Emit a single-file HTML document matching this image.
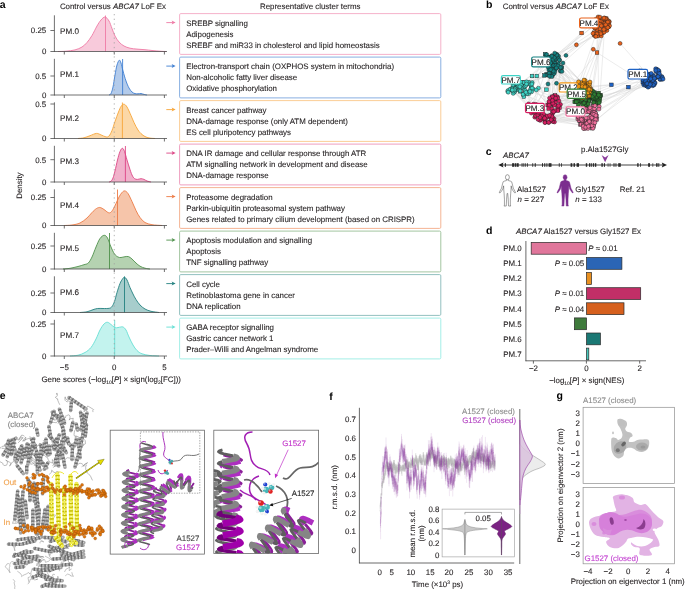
<!DOCTYPE html>
<html><head><meta charset="utf-8"><style>
html,body{margin:0;padding:0;background:#fff;}
body{width:685px;height:589px;overflow:hidden;}
svg{display:block;font-family:"Liberation Sans",sans-serif;text-rendering:geometricPrecision;will-change:transform;}
</style></head><body>
<svg width="685" height="589" viewBox="0 0 685 589">
<rect width="685" height="589" fill="#fff"/>
<text x="-0.30" y="7.70" font-size="10.5" fill="#000" font-weight="bold">a</text>
<text x="59.90" y="9.20" font-size="7.9" fill="#231f20" stroke="#231f20" stroke-width="0.1">Control versus <tspan font-style="italic">ABCA7</tspan> LoF Ex</text>
<text x="260.00" y="9.00" font-size="7.9" fill="#231f20" stroke="#231f20" stroke-width="0.1">Representative cluster terms</text>
<path d="M58.00,51.50 C59.33,51.45 63.17,51.47 66.00,51.20 C68.83,50.93 72.33,50.60 75.00,49.90 C77.67,49.20 80.00,48.23 82.00,47.00 C84.00,45.77 85.33,44.42 87.00,42.50 C88.67,40.58 90.33,38.25 92.00,35.50 C93.67,32.75 95.50,28.58 97.00,26.00 C98.50,23.42 99.65,21.50 101.00,20.00 C102.35,18.50 103.77,16.83 105.10,17.00 C106.43,17.17 107.85,19.08 109.00,21.00 C110.15,22.92 111.00,26.00 112.00,28.50 C113.00,31.00 113.83,33.75 115.00,36.00 C116.17,38.25 117.50,40.33 119.00,42.00 C120.50,43.67 122.17,44.97 124.00,46.00 C125.83,47.03 127.83,47.68 130.00,48.20 C132.17,48.72 134.50,48.85 137.00,49.10 C139.50,49.35 142.50,49.47 145.00,49.70 C147.50,49.93 149.50,50.25 152.00,50.50 C154.50,50.75 157.67,51.03 160.00,51.20 C162.33,51.37 165.00,51.45 166.00,51.50 Z" fill="#f8cadb" stroke="none"/>
<path d="M58.00,51.50 C59.33,51.45 63.17,51.47 66.00,51.20 C68.83,50.93 72.33,50.60 75.00,49.90 C77.67,49.20 80.00,48.23 82.00,47.00 C84.00,45.77 85.33,44.42 87.00,42.50 C88.67,40.58 90.33,38.25 92.00,35.50 C93.67,32.75 95.50,28.58 97.00,26.00 C98.50,23.42 99.65,21.50 101.00,20.00 C102.35,18.50 103.77,16.83 105.10,17.00 C106.43,17.17 107.85,19.08 109.00,21.00 C110.15,22.92 111.00,26.00 112.00,28.50 C113.00,31.00 113.83,33.75 115.00,36.00 C116.17,38.25 117.50,40.33 119.00,42.00 C120.50,43.67 122.17,44.97 124.00,46.00 C125.83,47.03 127.83,47.68 130.00,48.20 C132.17,48.72 134.50,48.85 137.00,49.10 C139.50,49.35 142.50,49.47 145.00,49.70 C147.50,49.93 149.50,50.25 152.00,50.50 C154.50,50.75 157.67,51.03 160.00,51.20 C162.33,51.37 165.00,51.45 166.00,51.50" fill="none" stroke="#ee7aa5" stroke-width="0.9"/>
<line x1="105.5" y1="51.5" x2="105.5" y2="15.50" stroke="#ee7aa5" stroke-width="0.9"/>
<line x1="54.4" y1="15.30" x2="54.4" y2="51.90" stroke="#4d4d4d" stroke-width="0.8"/>
<line x1="54" y1="51.50" x2="167" y2="51.50" stroke="#4d4d4d" stroke-width="0.8"/>
<line x1="64.3" y1="51.5" x2="64.3" y2="54.5" stroke="#4d4d4d" stroke-width="0.8"/>
<line x1="114.25" y1="51.5" x2="114.25" y2="54.5" stroke="#4d4d4d" stroke-width="0.8"/>
<line x1="164.4" y1="51.5" x2="164.4" y2="54.5" stroke="#4d4d4d" stroke-width="0.8"/>
<line x1="50.4" y1="30.50" x2="54.4" y2="30.50" stroke="#4d4d4d" stroke-width="0.8"/>
<text x="46.20" y="33.30" font-size="7.9" fill="#231f20" stroke="#231f20" stroke-width="0.1" text-anchor="end">0.25</text>
<line x1="50.4" y1="51.50" x2="54.4" y2="51.50" stroke="#4d4d4d" stroke-width="0.8"/>
<text x="46.50" y="54.30" font-size="7.9" fill="#231f20" stroke="#231f20" stroke-width="0.1" text-anchor="end">0</text>
<text x="60.00" y="33.90" font-size="8.1" fill="#231f20" stroke="#231f20" stroke-width="0.1">PM.0</text>
<rect x="179.6" y="13.60" width="261.2" height="40.8" rx="1.2" fill="none" stroke="#f4a9c4" stroke-width="0.9"/>
<text x="186.20" y="25.70" font-size="7.9" fill="#231f20" stroke="#231f20" stroke-width="0.1">SREBP signalling</text>
<text x="186.20" y="36.70" font-size="7.9" fill="#231f20" stroke="#231f20" stroke-width="0.1">Adipogenesis</text>
<text x="186.20" y="47.70" font-size="7.9" fill="#231f20" stroke="#231f20" stroke-width="0.1">SREBF and miR33 in cholesterol and lipid homeostasis</text>
<line x1="166.3" y1="22.60" x2="173" y2="22.60" stroke="#ee7aa5" stroke-width="0.9"/>
<path d="M175.6,22.60 L171.6,20.60 L172.6,22.60 L171.6,24.60 Z" fill="#ee7aa5"/>
<path d="M109.00,95.00 C109.33,94.75 110.33,94.83 111.00,93.50 C111.67,92.17 112.33,90.08 113.00,87.00 C113.67,83.92 114.33,78.67 115.00,75.00 C115.67,71.33 116.28,67.47 117.00,65.00 C117.72,62.53 118.63,60.53 119.30,60.20 C119.97,59.87 120.38,61.20 121.00,63.00 C121.62,64.80 122.17,68.00 123.00,71.00 C123.83,74.00 125.00,78.17 126.00,81.00 C127.00,83.83 128.00,86.17 129.00,88.00 C130.00,89.83 131.00,91.07 132.00,92.00 C133.00,92.93 134.00,93.30 135.00,93.60 C136.00,93.90 137.00,93.82 138.00,93.80 C139.00,93.78 140.00,93.40 141.00,93.50 C142.00,93.60 143.00,94.15 144.00,94.40 C145.00,94.65 146.50,94.90 147.00,95.00 Z" fill="#b3cbeb" stroke="none"/>
<path d="M109.00,95.00 C109.33,94.75 110.33,94.83 111.00,93.50 C111.67,92.17 112.33,90.08 113.00,87.00 C113.67,83.92 114.33,78.67 115.00,75.00 C115.67,71.33 116.28,67.47 117.00,65.00 C117.72,62.53 118.63,60.53 119.30,60.20 C119.97,59.87 120.38,61.20 121.00,63.00 C121.62,64.80 122.17,68.00 123.00,71.00 C123.83,74.00 125.00,78.17 126.00,81.00 C127.00,83.83 128.00,86.17 129.00,88.00 C130.00,89.83 131.00,91.07 132.00,92.00 C133.00,92.93 134.00,93.30 135.00,93.60 C136.00,93.90 137.00,93.82 138.00,93.80 C139.00,93.78 140.00,93.40 141.00,93.50 C142.00,93.60 143.00,94.15 144.00,94.40 C145.00,94.65 146.50,94.90 147.00,95.00" fill="none" stroke="#3f7fd2" stroke-width="0.9"/>
<line x1="122.6" y1="95.0" x2="122.6" y2="59.00" stroke="#3f7fd2" stroke-width="0.9"/>
<line x1="54.4" y1="58.80" x2="54.4" y2="95.40" stroke="#4d4d4d" stroke-width="0.8"/>
<line x1="54" y1="95.00" x2="167" y2="95.00" stroke="#4d4d4d" stroke-width="0.8"/>
<line x1="64.3" y1="95.0" x2="64.3" y2="98.0" stroke="#4d4d4d" stroke-width="0.8"/>
<line x1="114.25" y1="95.0" x2="114.25" y2="98.0" stroke="#4d4d4d" stroke-width="0.8"/>
<line x1="164.4" y1="95.0" x2="164.4" y2="98.0" stroke="#4d4d4d" stroke-width="0.8"/>
<line x1="50.4" y1="76.00" x2="54.4" y2="76.00" stroke="#4d4d4d" stroke-width="0.8"/>
<text x="46.20" y="78.80" font-size="7.9" fill="#231f20" stroke="#231f20" stroke-width="0.1" text-anchor="end">0.5</text>
<line x1="50.4" y1="95.00" x2="54.4" y2="95.00" stroke="#4d4d4d" stroke-width="0.8"/>
<text x="46.50" y="97.80" font-size="7.9" fill="#231f20" stroke="#231f20" stroke-width="0.1" text-anchor="end">0</text>
<text x="60.00" y="77.40" font-size="8.1" fill="#231f20" stroke="#231f20" stroke-width="0.1">PM.1</text>
<rect x="179.6" y="57.10" width="261.2" height="40.8" rx="1.2" fill="none" stroke="#7aa6de" stroke-width="0.9"/>
<text x="186.20" y="69.20" font-size="7.9" fill="#231f20" stroke="#231f20" stroke-width="0.1">Electron-transport chain (OXPHOS system in mitochondria)</text>
<text x="186.20" y="80.20" font-size="7.9" fill="#231f20" stroke="#231f20" stroke-width="0.1">Non-alcoholic fatty liver disease</text>
<text x="186.20" y="91.20" font-size="7.9" fill="#231f20" stroke="#231f20" stroke-width="0.1">Oxidative phosphorylation</text>
<line x1="166.3" y1="66.10" x2="173" y2="66.10" stroke="#3f7fd2" stroke-width="0.9"/>
<path d="M175.6,66.10 L171.6,64.10 L172.6,66.10 L171.6,68.10 Z" fill="#3f7fd2"/>
<path d="M78.00,138.50 C79.00,138.38 82.00,138.27 84.00,137.80 C86.00,137.33 87.92,136.43 90.00,135.70 C92.08,134.97 94.67,133.53 96.50,133.40 C98.33,133.27 99.42,134.32 101.00,134.90 C102.58,135.48 104.67,136.72 106.00,136.90 C107.33,137.08 108.00,137.07 109.00,136.00 C110.00,134.93 111.00,132.92 112.00,130.50 C113.00,128.08 113.92,124.58 115.00,121.50 C116.08,118.42 117.50,114.50 118.50,112.00 C119.50,109.50 120.10,107.80 121.00,106.50 C121.90,105.20 122.90,104.12 123.90,104.20 C124.90,104.28 125.82,105.12 127.00,107.00 C128.18,108.88 129.83,112.92 131.00,115.50 C132.17,118.08 132.83,120.08 134.00,122.50 C135.17,124.92 136.67,128.00 138.00,130.00 C139.33,132.00 140.67,133.33 142.00,134.50 C143.33,135.67 144.67,136.40 146.00,137.00 C147.33,137.60 148.50,137.85 150.00,138.10 C151.50,138.35 154.17,138.43 155.00,138.50 Z" fill="#fcd8a7" stroke="none"/>
<path d="M78.00,138.50 C79.00,138.38 82.00,138.27 84.00,137.80 C86.00,137.33 87.92,136.43 90.00,135.70 C92.08,134.97 94.67,133.53 96.50,133.40 C98.33,133.27 99.42,134.32 101.00,134.90 C102.58,135.48 104.67,136.72 106.00,136.90 C107.33,137.08 108.00,137.07 109.00,136.00 C110.00,134.93 111.00,132.92 112.00,130.50 C113.00,128.08 113.92,124.58 115.00,121.50 C116.08,118.42 117.50,114.50 118.50,112.00 C119.50,109.50 120.10,107.80 121.00,106.50 C121.90,105.20 122.90,104.12 123.90,104.20 C124.90,104.28 125.82,105.12 127.00,107.00 C128.18,108.88 129.83,112.92 131.00,115.50 C132.17,118.08 132.83,120.08 134.00,122.50 C135.17,124.92 136.67,128.00 138.00,130.00 C139.33,132.00 140.67,133.33 142.00,134.50 C143.33,135.67 144.67,136.40 146.00,137.00 C147.33,137.60 148.50,137.85 150.00,138.10 C151.50,138.35 154.17,138.43 155.00,138.50" fill="none" stroke="#f6a539" stroke-width="0.9"/>
<line x1="122.4" y1="138.5" x2="122.4" y2="102.50" stroke="#f6a539" stroke-width="0.9"/>
<line x1="54.4" y1="102.30" x2="54.4" y2="138.90" stroke="#4d4d4d" stroke-width="0.8"/>
<line x1="54" y1="138.50" x2="167" y2="138.50" stroke="#4d4d4d" stroke-width="0.8"/>
<line x1="64.3" y1="138.5" x2="64.3" y2="141.5" stroke="#4d4d4d" stroke-width="0.8"/>
<line x1="114.25" y1="138.5" x2="114.25" y2="141.5" stroke="#4d4d4d" stroke-width="0.8"/>
<line x1="164.4" y1="138.5" x2="164.4" y2="141.5" stroke="#4d4d4d" stroke-width="0.8"/>
<line x1="50.4" y1="104.00" x2="54.4" y2="104.00" stroke="#4d4d4d" stroke-width="0.8"/>
<text x="46.20" y="106.80" font-size="7.9" fill="#231f20" stroke="#231f20" stroke-width="0.1" text-anchor="end">0.5</text>
<line x1="50.4" y1="138.50" x2="54.4" y2="138.50" stroke="#4d4d4d" stroke-width="0.8"/>
<text x="46.50" y="141.30" font-size="7.9" fill="#231f20" stroke="#231f20" stroke-width="0.1" text-anchor="end">0</text>
<text x="60.00" y="120.90" font-size="8.1" fill="#231f20" stroke="#231f20" stroke-width="0.1">PM.2</text>
<rect x="179.6" y="100.60" width="261.2" height="40.8" rx="1.2" fill="none" stroke="#f9c78a" stroke-width="0.9"/>
<text x="186.20" y="112.70" font-size="7.9" fill="#231f20" stroke="#231f20" stroke-width="0.1">Breast cancer pathway</text>
<text x="186.20" y="123.70" font-size="7.9" fill="#231f20" stroke="#231f20" stroke-width="0.1">DNA-damage response (only ATM dependent)</text>
<text x="186.20" y="134.70" font-size="7.9" fill="#231f20" stroke="#231f20" stroke-width="0.1">ES cell pluripotency pathways</text>
<line x1="166.3" y1="109.60" x2="173" y2="109.60" stroke="#f6a539" stroke-width="0.9"/>
<path d="M175.6,109.60 L171.6,107.60 L172.6,109.60 L171.6,111.60 Z" fill="#f6a539"/>
<path d="M109.00,182.00 C109.33,181.87 110.33,181.87 111.00,181.20 C111.67,180.53 112.33,179.70 113.00,178.00 C113.67,176.30 114.25,174.00 115.00,171.00 C115.75,168.00 116.67,163.25 117.50,160.00 C118.33,156.75 119.18,153.45 120.00,151.50 C120.82,149.55 121.65,148.30 122.40,148.30 C123.15,148.30 123.73,149.55 124.50,151.50 C125.27,153.45 126.17,157.25 127.00,160.00 C127.83,162.75 128.67,165.50 129.50,168.00 C130.33,170.50 131.17,173.23 132.00,175.00 C132.83,176.77 133.58,177.87 134.50,178.60 C135.42,179.33 136.42,179.38 137.50,179.40 C138.58,179.42 139.92,178.70 141.00,178.70 C142.08,178.70 143.00,179.02 144.00,179.40 C145.00,179.78 145.83,180.57 147.00,181.00 C148.17,181.43 150.33,181.83 151.00,182.00 Z" fill="#f1b1cb" stroke="none"/>
<path d="M109.00,182.00 C109.33,181.87 110.33,181.87 111.00,181.20 C111.67,180.53 112.33,179.70 113.00,178.00 C113.67,176.30 114.25,174.00 115.00,171.00 C115.75,168.00 116.67,163.25 117.50,160.00 C118.33,156.75 119.18,153.45 120.00,151.50 C120.82,149.55 121.65,148.30 122.40,148.30 C123.15,148.30 123.73,149.55 124.50,151.50 C125.27,153.45 126.17,157.25 127.00,160.00 C127.83,162.75 128.67,165.50 129.50,168.00 C130.33,170.50 131.17,173.23 132.00,175.00 C132.83,176.77 133.58,177.87 134.50,178.60 C135.42,179.33 136.42,179.38 137.50,179.40 C138.58,179.42 139.92,178.70 141.00,178.70 C142.08,178.70 143.00,179.02 144.00,179.40 C145.00,179.78 145.83,180.57 147.00,181.00 C148.17,181.43 150.33,181.83 151.00,182.00" fill="none" stroke="#dc4585" stroke-width="0.9"/>
<line x1="125.4" y1="182.0" x2="125.4" y2="146.00" stroke="#dc4585" stroke-width="0.9"/>
<line x1="54.4" y1="145.80" x2="54.4" y2="182.40" stroke="#4d4d4d" stroke-width="0.8"/>
<line x1="54" y1="182.00" x2="167" y2="182.00" stroke="#4d4d4d" stroke-width="0.8"/>
<line x1="64.3" y1="182.0" x2="64.3" y2="185.0" stroke="#4d4d4d" stroke-width="0.8"/>
<line x1="114.25" y1="182.0" x2="114.25" y2="185.0" stroke="#4d4d4d" stroke-width="0.8"/>
<line x1="164.4" y1="182.0" x2="164.4" y2="185.0" stroke="#4d4d4d" stroke-width="0.8"/>
<line x1="50.4" y1="159.70" x2="54.4" y2="159.70" stroke="#4d4d4d" stroke-width="0.8"/>
<text x="46.20" y="162.50" font-size="7.9" fill="#231f20" stroke="#231f20" stroke-width="0.1" text-anchor="end">0.5</text>
<line x1="50.4" y1="182.00" x2="54.4" y2="182.00" stroke="#4d4d4d" stroke-width="0.8"/>
<text x="46.50" y="184.80" font-size="7.9" fill="#231f20" stroke="#231f20" stroke-width="0.1" text-anchor="end">0</text>
<text x="60.00" y="164.40" font-size="8.1" fill="#231f20" stroke="#231f20" stroke-width="0.1">PM.3</text>
<rect x="179.6" y="144.10" width="261.2" height="40.8" rx="1.2" fill="none" stroke="#ec93b8" stroke-width="0.9"/>
<text x="186.20" y="156.20" font-size="7.9" fill="#231f20" stroke="#231f20" stroke-width="0.1">DNA IR damage and cellular response through ATR</text>
<text x="186.20" y="167.20" font-size="7.9" fill="#231f20" stroke="#231f20" stroke-width="0.1">ATM signalling network in development and disease</text>
<text x="186.20" y="178.20" font-size="7.9" fill="#231f20" stroke="#231f20" stroke-width="0.1">DNA-damage response</text>
<line x1="166.3" y1="153.10" x2="173" y2="153.10" stroke="#dc4585" stroke-width="0.9"/>
<path d="M175.6,153.10 L171.6,151.10 L172.6,153.10 L171.6,155.10 Z" fill="#dc4585"/>
<path d="M64.00,225.50 C65.33,225.42 69.33,225.42 72.00,225.00 C74.67,224.58 77.50,224.17 80.00,223.00 C82.50,221.83 85.00,219.75 87.00,218.00 C89.00,216.25 90.42,214.08 92.00,212.50 C93.58,210.92 95.13,209.33 96.50,208.50 C97.87,207.67 98.95,207.33 100.20,207.50 C101.45,207.67 102.70,208.67 104.00,209.50 C105.30,210.33 106.92,212.00 108.00,212.50 C109.08,213.00 109.67,213.00 110.50,212.50 C111.33,212.00 112.08,211.00 113.00,209.50 C113.92,208.00 115.00,205.58 116.00,203.50 C117.00,201.42 118.00,198.83 119.00,197.00 C120.00,195.17 121.03,193.52 122.00,192.50 C122.97,191.48 123.80,190.73 124.80,190.90 C125.80,191.07 126.80,191.73 128.00,193.50 C129.20,195.27 130.67,198.67 132.00,201.50 C133.33,204.33 134.67,207.83 136.00,210.50 C137.33,213.17 138.50,215.50 140.00,217.50 C141.50,219.50 143.00,221.30 145.00,222.50 C147.00,223.70 149.17,224.20 152.00,224.70 C154.83,225.20 160.33,225.37 162.00,225.50 Z" fill="#f6c5aa" stroke="none"/>
<path d="M64.00,225.50 C65.33,225.42 69.33,225.42 72.00,225.00 C74.67,224.58 77.50,224.17 80.00,223.00 C82.50,221.83 85.00,219.75 87.00,218.00 C89.00,216.25 90.42,214.08 92.00,212.50 C93.58,210.92 95.13,209.33 96.50,208.50 C97.87,207.67 98.95,207.33 100.20,207.50 C101.45,207.67 102.70,208.67 104.00,209.50 C105.30,210.33 106.92,212.00 108.00,212.50 C109.08,213.00 109.67,213.00 110.50,212.50 C111.33,212.00 112.08,211.00 113.00,209.50 C113.92,208.00 115.00,205.58 116.00,203.50 C117.00,201.42 118.00,198.83 119.00,197.00 C120.00,195.17 121.03,193.52 122.00,192.50 C122.97,191.48 123.80,190.73 124.80,190.90 C125.80,191.07 126.80,191.73 128.00,193.50 C129.20,195.27 130.67,198.67 132.00,201.50 C133.33,204.33 134.67,207.83 136.00,210.50 C137.33,213.17 138.50,215.50 140.00,217.50 C141.50,219.50 143.00,221.30 145.00,222.50 C147.00,223.70 149.17,224.20 152.00,224.70 C154.83,225.20 160.33,225.37 162.00,225.50" fill="none" stroke="#ec7b45" stroke-width="0.9"/>
<line x1="117.5" y1="225.5" x2="117.5" y2="189.50" stroke="#ec7b45" stroke-width="0.9"/>
<line x1="54.4" y1="189.30" x2="54.4" y2="225.90" stroke="#4d4d4d" stroke-width="0.8"/>
<line x1="54" y1="225.50" x2="167" y2="225.50" stroke="#4d4d4d" stroke-width="0.8"/>
<line x1="64.3" y1="225.5" x2="64.3" y2="228.5" stroke="#4d4d4d" stroke-width="0.8"/>
<line x1="114.25" y1="225.5" x2="114.25" y2="228.5" stroke="#4d4d4d" stroke-width="0.8"/>
<line x1="164.4" y1="225.5" x2="164.4" y2="228.5" stroke="#4d4d4d" stroke-width="0.8"/>
<line x1="50.4" y1="197.50" x2="54.4" y2="197.50" stroke="#4d4d4d" stroke-width="0.8"/>
<text x="46.20" y="200.30" font-size="7.9" fill="#231f20" stroke="#231f20" stroke-width="0.1" text-anchor="end">0.25</text>
<line x1="50.4" y1="225.50" x2="54.4" y2="225.50" stroke="#4d4d4d" stroke-width="0.8"/>
<text x="46.50" y="228.30" font-size="7.9" fill="#231f20" stroke="#231f20" stroke-width="0.1" text-anchor="end">0</text>
<text x="60.00" y="207.90" font-size="8.1" fill="#231f20" stroke="#231f20" stroke-width="0.1">PM.4</text>
<rect x="179.6" y="187.60" width="261.2" height="40.8" rx="1.2" fill="none" stroke="#f3ab88" stroke-width="0.9"/>
<text x="186.20" y="199.70" font-size="7.9" fill="#231f20" stroke="#231f20" stroke-width="0.1">Proteasome degradation</text>
<text x="186.20" y="210.70" font-size="7.9" fill="#231f20" stroke="#231f20" stroke-width="0.1">Parkin-ubiquitin proteasomal system pathway</text>
<text x="186.20" y="221.70" font-size="7.9" fill="#231f20" stroke="#231f20" stroke-width="0.1">Genes related to primary cilium development (based on CRISPR)</text>
<line x1="166.3" y1="196.60" x2="173" y2="196.60" stroke="#ec7b45" stroke-width="0.9"/>
<path d="M175.6,196.60 L171.6,194.60 L172.6,196.60 L171.6,198.60 Z" fill="#ec7b45"/>
<path d="M63.00,269.00 C64.17,268.88 67.50,268.72 70.00,268.30 C72.50,267.88 75.67,267.10 78.00,266.50 C80.33,265.90 82.28,265.28 84.00,264.70 C85.72,264.12 86.97,264.28 88.30,263.00 C89.63,261.72 90.72,259.67 92.00,257.00 C93.28,254.33 94.67,250.08 96.00,247.00 C97.33,243.92 98.63,240.45 100.00,238.50 C101.37,236.55 102.95,235.38 104.20,235.30 C105.45,235.22 106.37,236.05 107.50,238.00 C108.63,239.95 109.83,244.33 111.00,247.00 C112.17,249.67 113.33,252.33 114.50,254.00 C115.67,255.67 116.92,256.42 118.00,257.00 C119.08,257.58 119.83,257.55 121.00,257.50 C122.17,257.45 123.75,256.85 125.00,256.70 C126.25,256.55 127.33,256.22 128.50,256.60 C129.67,256.98 130.75,257.93 132.00,259.00 C133.25,260.07 134.67,261.80 136.00,263.00 C137.33,264.20 138.50,265.33 140.00,266.20 C141.50,267.07 143.33,267.73 145.00,268.20 C146.67,268.67 149.17,268.87 150.00,269.00 Z" fill="#b5d2b1" stroke="none"/>
<path d="M63.00,269.00 C64.17,268.88 67.50,268.72 70.00,268.30 C72.50,267.88 75.67,267.10 78.00,266.50 C80.33,265.90 82.28,265.28 84.00,264.70 C85.72,264.12 86.97,264.28 88.30,263.00 C89.63,261.72 90.72,259.67 92.00,257.00 C93.28,254.33 94.67,250.08 96.00,247.00 C97.33,243.92 98.63,240.45 100.00,238.50 C101.37,236.55 102.95,235.38 104.20,235.30 C105.45,235.22 106.37,236.05 107.50,238.00 C108.63,239.95 109.83,244.33 111.00,247.00 C112.17,249.67 113.33,252.33 114.50,254.00 C115.67,255.67 116.92,256.42 118.00,257.00 C119.08,257.58 119.83,257.55 121.00,257.50 C122.17,257.45 123.75,256.85 125.00,256.70 C126.25,256.55 127.33,256.22 128.50,256.60 C129.67,256.98 130.75,257.93 132.00,259.00 C133.25,260.07 134.67,261.80 136.00,263.00 C137.33,264.20 138.50,265.33 140.00,266.20 C141.50,267.07 143.33,267.73 145.00,268.20 C146.67,268.67 149.17,268.87 150.00,269.00" fill="none" stroke="#4f914c" stroke-width="0.9"/>
<line x1="109.5" y1="269.0" x2="109.5" y2="233.00" stroke="#4f914c" stroke-width="0.9"/>
<line x1="54.4" y1="232.80" x2="54.4" y2="269.40" stroke="#4d4d4d" stroke-width="0.8"/>
<line x1="54" y1="269.00" x2="167" y2="269.00" stroke="#4d4d4d" stroke-width="0.8"/>
<line x1="64.3" y1="269.0" x2="64.3" y2="272.0" stroke="#4d4d4d" stroke-width="0.8"/>
<line x1="114.25" y1="269.0" x2="114.25" y2="272.0" stroke="#4d4d4d" stroke-width="0.8"/>
<line x1="164.4" y1="269.0" x2="164.4" y2="272.0" stroke="#4d4d4d" stroke-width="0.8"/>
<line x1="50.4" y1="246.00" x2="54.4" y2="246.00" stroke="#4d4d4d" stroke-width="0.8"/>
<text x="46.20" y="248.80" font-size="7.9" fill="#231f20" stroke="#231f20" stroke-width="0.1" text-anchor="end">0.25</text>
<line x1="50.4" y1="269.00" x2="54.4" y2="269.00" stroke="#4d4d4d" stroke-width="0.8"/>
<text x="46.50" y="271.80" font-size="7.9" fill="#231f20" stroke="#231f20" stroke-width="0.1" text-anchor="end">0</text>
<text x="60.00" y="251.40" font-size="8.1" fill="#231f20" stroke="#231f20" stroke-width="0.1">PM.5</text>
<rect x="179.6" y="231.10" width="261.2" height="40.8" rx="1.2" fill="none" stroke="#98c096" stroke-width="0.9"/>
<text x="186.20" y="243.20" font-size="7.9" fill="#231f20" stroke="#231f20" stroke-width="0.1">Apoptosis modulation and signalling</text>
<text x="186.20" y="254.20" font-size="7.9" fill="#231f20" stroke="#231f20" stroke-width="0.1">Apoptosis</text>
<text x="186.20" y="265.20" font-size="7.9" fill="#231f20" stroke="#231f20" stroke-width="0.1">TNF signalling pathway</text>
<line x1="166.3" y1="240.10" x2="173" y2="240.10" stroke="#4f914c" stroke-width="0.9"/>
<path d="M175.6,240.10 L171.6,238.10 L172.6,240.10 L171.6,242.10 Z" fill="#4f914c"/>
<path d="M80.00,312.50 C81.17,312.38 84.83,312.27 87.00,311.80 C89.17,311.33 91.27,310.25 93.00,309.70 C94.73,309.15 95.73,308.70 97.40,308.50 C99.07,308.30 101.02,308.53 103.00,308.50 C104.98,308.47 107.80,308.63 109.30,308.30 C110.80,307.97 111.13,307.63 112.00,306.50 C112.87,305.37 113.67,303.83 114.50,301.50 C115.33,299.17 116.08,295.50 117.00,292.50 C117.92,289.50 119.08,285.75 120.00,283.50 C120.92,281.25 121.75,280.05 122.50,279.00 C123.25,277.95 123.75,277.03 124.50,277.20 C125.25,277.37 126.08,278.28 127.00,280.00 C127.92,281.72 129.00,285.17 130.00,287.50 C131.00,289.83 132.00,292.00 133.00,294.00 C134.00,296.00 134.83,297.67 136.00,299.50 C137.17,301.33 138.50,303.42 140.00,305.00 C141.50,306.58 143.17,307.95 145.00,309.00 C146.83,310.05 148.67,310.72 151.00,311.30 C153.33,311.88 157.67,312.30 159.00,312.50 Z" fill="#a7cdcc" stroke="none"/>
<path d="M80.00,312.50 C81.17,312.38 84.83,312.27 87.00,311.80 C89.17,311.33 91.27,310.25 93.00,309.70 C94.73,309.15 95.73,308.70 97.40,308.50 C99.07,308.30 101.02,308.53 103.00,308.50 C104.98,308.47 107.80,308.63 109.30,308.30 C110.80,307.97 111.13,307.63 112.00,306.50 C112.87,305.37 113.67,303.83 114.50,301.50 C115.33,299.17 116.08,295.50 117.00,292.50 C117.92,289.50 119.08,285.75 120.00,283.50 C120.92,281.25 121.75,280.05 122.50,279.00 C123.25,277.95 123.75,277.03 124.50,277.20 C125.25,277.37 126.08,278.28 127.00,280.00 C127.92,281.72 129.00,285.17 130.00,287.50 C131.00,289.83 132.00,292.00 133.00,294.00 C134.00,296.00 134.83,297.67 136.00,299.50 C137.17,301.33 138.50,303.42 140.00,305.00 C141.50,306.58 143.17,307.95 145.00,309.00 C146.83,310.05 148.67,310.72 151.00,311.30 C153.33,311.88 157.67,312.30 159.00,312.50" fill="none" stroke="#22807f" stroke-width="0.9"/>
<line x1="124.5" y1="312.5" x2="124.5" y2="276.50" stroke="#22807f" stroke-width="0.9"/>
<line x1="54.4" y1="276.30" x2="54.4" y2="312.90" stroke="#4d4d4d" stroke-width="0.8"/>
<line x1="54" y1="312.50" x2="167" y2="312.50" stroke="#4d4d4d" stroke-width="0.8"/>
<line x1="64.3" y1="312.5" x2="64.3" y2="315.5" stroke="#4d4d4d" stroke-width="0.8"/>
<line x1="114.25" y1="312.5" x2="114.25" y2="315.5" stroke="#4d4d4d" stroke-width="0.8"/>
<line x1="164.4" y1="312.5" x2="164.4" y2="315.5" stroke="#4d4d4d" stroke-width="0.8"/>
<line x1="50.4" y1="293.00" x2="54.4" y2="293.00" stroke="#4d4d4d" stroke-width="0.8"/>
<text x="46.20" y="295.80" font-size="7.9" fill="#231f20" stroke="#231f20" stroke-width="0.1" text-anchor="end">0.25</text>
<line x1="50.4" y1="312.50" x2="54.4" y2="312.50" stroke="#4d4d4d" stroke-width="0.8"/>
<text x="46.50" y="315.30" font-size="7.9" fill="#231f20" stroke="#231f20" stroke-width="0.1" text-anchor="end">0</text>
<text x="60.00" y="294.90" font-size="8.1" fill="#231f20" stroke="#231f20" stroke-width="0.1">PM.6</text>
<rect x="179.6" y="274.60" width="261.2" height="40.8" rx="1.2" fill="none" stroke="#86b9b8" stroke-width="0.9"/>
<text x="186.20" y="286.70" font-size="7.9" fill="#231f20" stroke="#231f20" stroke-width="0.1">Cell cycle</text>
<text x="186.20" y="297.70" font-size="7.9" fill="#231f20" stroke="#231f20" stroke-width="0.1">Retinoblastoma gene in cancer</text>
<text x="186.20" y="308.70" font-size="7.9" fill="#231f20" stroke="#231f20" stroke-width="0.1">DNA replication</text>
<line x1="166.3" y1="283.60" x2="173" y2="283.60" stroke="#22807f" stroke-width="0.9"/>
<path d="M175.6,283.60 L171.6,281.60 L172.6,283.60 L171.6,285.60 Z" fill="#22807f"/>
<path d="M70.00,356.00 C71.33,355.87 75.50,355.78 78.00,355.20 C80.50,354.62 82.83,353.78 85.00,352.50 C87.17,351.22 89.17,349.75 91.00,347.50 C92.83,345.25 94.50,341.92 96.00,339.00 C97.50,336.08 98.67,332.50 100.00,330.00 C101.33,327.50 102.75,325.28 104.00,324.00 C105.25,322.72 106.33,322.22 107.50,322.30 C108.67,322.38 109.92,323.72 111.00,324.50 C112.08,325.28 113.07,326.45 114.00,327.00 C114.93,327.55 115.68,327.77 116.60,327.80 C117.52,327.83 118.43,327.33 119.50,327.20 C120.57,327.07 121.92,326.53 123.00,327.00 C124.08,327.47 125.00,328.33 126.00,330.00 C127.00,331.67 127.83,334.50 129.00,337.00 C130.17,339.50 131.67,342.75 133.00,345.00 C134.33,347.25 135.50,349.03 137.00,350.50 C138.50,351.97 139.83,352.97 142.00,353.80 C144.17,354.63 147.17,355.13 150.00,355.50 C152.83,355.87 157.50,355.92 159.00,356.00 Z" fill="#c3f3ee" stroke="none"/>
<path d="M70.00,356.00 C71.33,355.87 75.50,355.78 78.00,355.20 C80.50,354.62 82.83,353.78 85.00,352.50 C87.17,351.22 89.17,349.75 91.00,347.50 C92.83,345.25 94.50,341.92 96.00,339.00 C97.50,336.08 98.67,332.50 100.00,330.00 C101.33,327.50 102.75,325.28 104.00,324.00 C105.25,322.72 106.33,322.22 107.50,322.30 C108.67,322.38 109.92,323.72 111.00,324.50 C112.08,325.28 113.07,326.45 114.00,327.00 C114.93,327.55 115.68,327.77 116.60,327.80 C117.52,327.83 118.43,327.33 119.50,327.20 C120.57,327.07 121.92,326.53 123.00,327.00 C124.08,327.47 125.00,328.33 126.00,330.00 C127.00,331.67 127.83,334.50 129.00,337.00 C130.17,339.50 131.67,342.75 133.00,345.00 C134.33,347.25 135.50,349.03 137.00,350.50 C138.50,351.97 139.83,352.97 142.00,353.80 C144.17,354.63 147.17,355.13 150.00,355.50 C152.83,355.87 157.50,355.92 159.00,356.00" fill="none" stroke="#67dfd4" stroke-width="0.9"/>
<line x1="114.7" y1="356.0" x2="114.7" y2="320.00" stroke="#67dfd4" stroke-width="0.9"/>
<line x1="54.4" y1="319.80" x2="54.4" y2="356.40" stroke="#4d4d4d" stroke-width="0.8"/>
<line x1="54" y1="356.00" x2="167" y2="356.00" stroke="#4d4d4d" stroke-width="0.8"/>
<line x1="64.3" y1="356.0" x2="64.3" y2="359.0" stroke="#4d4d4d" stroke-width="0.8"/>
<line x1="114.25" y1="356.0" x2="114.25" y2="359.0" stroke="#4d4d4d" stroke-width="0.8"/>
<line x1="164.4" y1="356.0" x2="164.4" y2="359.0" stroke="#4d4d4d" stroke-width="0.8"/>
<line x1="50.4" y1="324.00" x2="54.4" y2="324.00" stroke="#4d4d4d" stroke-width="0.8"/>
<text x="46.20" y="326.80" font-size="7.9" fill="#231f20" stroke="#231f20" stroke-width="0.1" text-anchor="end">0.25</text>
<line x1="50.4" y1="356.00" x2="54.4" y2="356.00" stroke="#4d4d4d" stroke-width="0.8"/>
<text x="46.50" y="358.80" font-size="7.9" fill="#231f20" stroke="#231f20" stroke-width="0.1" text-anchor="end">0</text>
<text x="60.00" y="338.40" font-size="8.1" fill="#231f20" stroke="#231f20" stroke-width="0.1">PM.7</text>
<rect x="179.6" y="318.10" width="261.2" height="40.8" rx="1.2" fill="none" stroke="#98ece4" stroke-width="0.9"/>
<text x="186.20" y="330.20" font-size="7.9" fill="#231f20" stroke="#231f20" stroke-width="0.1">GABA receptor signalling</text>
<text x="186.20" y="341.20" font-size="7.9" fill="#231f20" stroke="#231f20" stroke-width="0.1">Gastric cancer network 1</text>
<text x="186.20" y="352.20" font-size="7.9" fill="#231f20" stroke="#231f20" stroke-width="0.1">Prader–Willi and Angelman syndrome</text>
<line x1="166.3" y1="327.10" x2="173" y2="327.10" stroke="#67dfd4" stroke-width="0.9"/>
<path d="M175.6,327.10 L171.6,325.10 L172.6,327.10 L171.6,329.10 Z" fill="#67dfd4"/>
<line x1="114.25" y1="14" x2="114.25" y2="357" stroke="#a0a0a0" stroke-width="0.8" stroke-dasharray="1.3,3.4"/>
<text x="64.30" y="369.80" font-size="7.9" fill="#231f20" stroke="#231f20" stroke-width="0.1" text-anchor="middle">−5</text>
<text x="114.25" y="369.80" font-size="7.9" fill="#231f20" stroke="#231f20" stroke-width="0.1" text-anchor="middle">0</text>
<text x="164.40" y="369.80" font-size="7.9" fill="#231f20" stroke="#231f20" stroke-width="0.1" text-anchor="middle">5</text>
<text x="111.20" y="382.00" font-size="7.9" fill="#231f20" stroke="#231f20" stroke-width="0.1" text-anchor="middle">Gene scores (−log<tspan font-size="5" dy="1.6">10</tspan><tspan dy="-1.6">[</tspan><tspan font-style="italic">P</tspan>] × sign(log<tspan font-size="5" dy="1.6">2</tspan><tspan dy="-1.6">[FC]))</tspan></text>
<text x="0.00" y="0.00" font-size="7.9" fill="#231f20" stroke="#231f20" stroke-width="0.1" text-anchor="middle" transform="translate(21.9,185.6) rotate(-90)">Density</text>
<text x="486.00" y="7.50" font-size="10.5" fill="#000" font-weight="bold">b</text>
<text x="502.70" y="9.20" font-size="7.9" fill="#231f20" stroke="#231f20" stroke-width="0.1">Control versus <tspan font-style="italic">ABCA7</tspan> LoF Ex</text>
<path d="M589.0,100.9L594.3,110.1M598.5,100.6L585.0,124.7M593.9,108.8L583.2,87.1M578.3,104.3L539.7,111.6M583.2,97.8L554.5,63.0M538.4,112.5L582.1,92.9M549.2,105.1L531.1,86.8M584.3,95.8L588.4,125.6M540.4,120.4L513.2,91.2M551.2,116.6L582.3,86.5M592.5,97.2L557.9,65.9M545.0,120.6L517.8,86.8M584.6,85.9L559.6,60.0M584.9,89.6L552.3,96.8M553.6,65.6L552.4,96.8M519.9,86.7L561.7,67.8M584.1,83.2L591.3,107.8M519.9,86.7L561.7,67.8M577.4,84.2L582.1,92.9M589.9,111.8L574.7,101.9M585.0,89.3L590.3,90.5M560.3,71.1L549.8,116.7M586.6,93.5L551.1,103.6M579.0,86.4L589.7,92.2M559.6,60.0L589.1,89.2M578.5,81.7L551.6,69.1M551.2,116.6L594.3,110.1M577.8,118.6L590.0,82.0M579.0,120.3L554.0,118.8M592.9,128.2L551.5,118.9M513.2,91.2L545.8,117.9M542.5,61.6L533.5,105.1M588.9,88.4L578.0,101.1M550.8,63.0L552.9,96.8M554.5,105.2L561.4,67.0M549.2,105.1L590.3,122.1M594.2,111.0L555.0,95.4M579.3,114.2L588.3,103.9M590.5,89.3L588.0,124.0M581.7,99.6L550.8,66.5M554.4,57.4L577.3,92.2M538.4,112.5L581.4,97.1M557.0,67.2L575.8,99.1M552.8,112.8L549.1,73.1M549.5,98.1L518.2,87.2M580.4,124.3L584.0,80.0M533.1,111.8L551.5,76.5M545.0,120.6L588.4,125.6M551.1,119.8L536.8,76.0M595.9,94.8L576.9,93.0M585.6,104.7L552.6,117.7M584.0,80.0L596.6,119.5M547.8,75.0L590.3,90.5M593.6,99.3L554.5,122.0M549.1,73.1L546.4,89.7M592.7,114.0L578.3,104.3M588.2,83.3L549.2,105.1M589.2,119.8L558.5,105.7M536.0,108.1L520.6,82.7M591.4,112.8L593.0,98.1M574.7,101.9L586.0,109.1M592.2,96.7L591.9,117.7M591.0,120.3L558.5,105.7M560.7,70.9L533.6,106.4M545.0,120.6L583.5,121.7M551.1,114.9L585.6,96.7M596.4,116.3L590.5,89.3M547.8,75.0L588.3,93.0M548.2,67.0L549.5,98.1M553.0,59.2L555.0,95.4M547.7,105.0L512.3,88.9M551.8,116.0L584.7,120.1M552.8,60.7L586.2,83.9M531.1,85.1L551.7,55.7M549.0,101.5L548.9,61.2M538.9,110.5L512.3,88.9M594.3,110.1L582.3,92.1M587.2,95.6L592.1,108.7M553.1,121.4L581.4,119.5M593.4,126.3L576.8,96.3M551.1,114.9L518.2,87.2M581.4,97.1L544.6,118.2M554.0,118.8L584.8,100.6M582.1,92.9L550.8,66.5M560.7,70.9L582.0,113.4M585.6,104.7L594.4,108.6M584.4,85.3L583.5,91.2M552.4,96.8L599.5,95.9M555.6,58.8L558.5,105.7M553.1,104.7L585.6,124.0M554.9,101.1L585.8,99.4M517.8,86.8L560.7,70.9M556.9,55.0L588.7,90.2M580.4,94.8L588.0,117.9M552.4,100.3L593.6,93.2M545.1,54.2L531.1,85.1M544.9,122.6L512.3,88.9M599.1,102.7L587.2,92.4M548.9,61.2L533.6,106.4M549.2,105.1L593.9,114.3M581.8,114.9L559.5,107.7M555.0,95.4L588.0,128.5M593.7,98.3L584.7,121.9M592.3,93.9L588.7,90.2M549.5,115.4L582.3,86.5M584.7,121.9L538.6,112.2M550.9,100.6L558.6,63.6M594.2,95.7L552.5,111.6M590.3,122.1L593.6,99.3M551.8,116.0L591.3,107.8M557.4,96.8L588.3,93.0M527.0,93.9L534.0,112.4M580.4,94.8L557.9,109.8M593.7,98.3L554.2,73.5M591.9,117.7L578.3,104.3M540.0,115.2L582.6,121.3M584.9,110.2L538.4,112.5M586.6,93.5L577.8,118.6M580.6,96.5L561.4,67.0M599.9,98.9L585.7,127.2M588.8,111.6L549.8,116.7M536.2,90.0L552.5,111.6M589.8,91.8L595.1,98.2M594.0,110.5L552.3,96.8M525.4,90.6L533.6,108.2M512.0,89.7L544.9,122.6M511.7,89.4L550.3,61.4M551.5,76.5L528.5,103.9M588.0,124.0L589.8,96.5M525.8,85.6L555.7,98.2M551.9,108.8L586.2,83.9M541.5,116.0L586.5,123.8M559.6,60.0L585.1,95.3M545.4,61.3L514.1,92.0M590.4,116.4L583.2,87.1M536.8,76.0L552.6,117.7M593.3,106.2L592.3,93.9M576.3,101.8L554.5,63.0M560.3,71.1L586.4,91.3M538.6,112.2L583.2,97.8M514.9,88.6L551.2,66.3M595.3,103.6L598.9,109.1M548.2,67.0L520.2,87.7M524.5,93.7L555.2,63.7M594.9,122.7L584.8,100.6M587.2,92.4L555.6,96.8M593.9,92.7L588.0,128.5M531.1,85.1L550.6,69.6M556.5,83.3L536.2,90.0M558.1,110.0L560.5,67.5M595.2,36.2L575.4,93.7M604.1,32.2L550.0,57.0M608.7,21.7L555.4,69.6M597.9,18.1L556.5,55.2M605.4,29.0L584.3,95.8M597.8,35.4L598.6,95.0M599.3,21.1L553.0,59.2M606.2,26.5L558.4,58.3M603.3,18.6L546.5,62.3M604.6,18.0L592.3,93.9M604.1,32.2L578.8,95.5M596.8,29.5L548.9,61.2M659.4,77.7L584.2,102.9M645.2,75.0L584.8,100.6M657.1,69.4L583.2,97.8M658.2,72.5L588.4,125.6M646.7,85.8L596.6,102.3M651.1,81.4L586.6,105.8M646.3,75.5L590.9,125.4M645.8,81.8L586.6,86.6M653.3,84.8L599.5,95.9M655.2,78.3L592.7,114.0M620.1,43.4L648.0,75.0M597.0,52.6L640.0,80.0M597.0,52.6L560.0,100.0M593.3,49.3L575.0,100.0M576.4,44.8L556.0,62.0M581.6,33.0L556.0,60.0M611.4,84.8L580.0,96.0M628.4,87.1L590.0,110.0M611.4,84.8L585.0,88.0M628.4,87.1L596.0,100.0M597.0,40.0L597.0,60.0M600.0,36.0L592.0,90.0M604.0,37.0L600.0,95.0M566.0,55.4L600.0,30.0M648.0,76.0L600.0,100.0M645.0,82.0L595.0,112.0" stroke="#d4d4d4" stroke-width="0.45" fill="none"/>
<g fill="#e8621c" stroke="#1e1e1e" stroke-width="0.45"><rect x="606.8" y="19.9" width="3.6" height="3.6"/><rect x="604.4" y="16.8" width="3.6" height="3.6"/><rect x="607.0" y="24.8" width="3.6" height="3.6"/><rect x="602.2" y="21.1" width="3.6" height="3.6"/><rect x="592.4" y="33.1" width="3.6" height="3.6"/><rect x="592.4" y="30.9" width="3.6" height="3.6"/><rect x="579.8" y="31.2" width="3.6" height="3.6"/><rect x="595.2" y="50.8" width="3.6" height="3.6"/><circle cx="601.9" cy="22.2" r="1.95"/><circle cx="608.7" cy="23.5" r="1.95"/><circle cx="606.9" cy="27.1" r="1.95"/><circle cx="598.9" cy="19.1" r="1.95"/><circle cx="606.3" cy="26.6" r="1.95"/><circle cx="603.3" cy="32.4" r="1.95"/><circle cx="609.6" cy="25.8" r="1.95"/><circle cx="602.5" cy="32.7" r="1.95"/><circle cx="606.9" cy="30.5" r="1.95"/><circle cx="597.9" cy="18.1" r="1.95"/><circle cx="597.7" cy="24.7" r="1.95"/><circle cx="597.6" cy="28.9" r="1.95"/><circle cx="598.6" cy="31.4" r="1.95"/><circle cx="597.2" cy="25.8" r="1.95"/><circle cx="596.8" cy="29.5" r="1.95"/><circle cx="595.3" cy="28.2" r="1.95"/><circle cx="601.3" cy="20.9" r="1.95"/><circle cx="597.8" cy="20.4" r="1.95"/><circle cx="607.0" cy="24.5" r="1.95"/><circle cx="594.4" cy="23.4" r="1.95"/><circle cx="598.1" cy="16.9" r="1.95"/><circle cx="597.6" cy="21.9" r="1.95"/><circle cx="609.4" cy="21.7" r="1.95"/><circle cx="604.7" cy="19.6" r="1.95"/><circle cx="596.9" cy="25.6" r="1.95"/><circle cx="605.4" cy="29.0" r="1.95"/><circle cx="600.0" cy="29.1" r="1.95"/><circle cx="596.3" cy="26.3" r="1.95"/><circle cx="594.0" cy="23.4" r="1.95"/><circle cx="607.2" cy="19.6" r="1.95"/><circle cx="600.2" cy="32.3" r="1.95"/><circle cx="599.9" cy="17.1" r="1.95"/><circle cx="607.8" cy="27.4" r="1.95"/><circle cx="594.6" cy="27.9" r="1.95"/><circle cx="604.6" cy="18.0" r="1.95"/><circle cx="600.9" cy="24.8" r="1.95"/><circle cx="599.6" cy="24.0" r="1.95"/><circle cx="608.7" cy="21.7" r="1.95"/><circle cx="599.3" cy="21.1" r="1.95"/><circle cx="597.9" cy="22.7" r="1.95"/><circle cx="603.3" cy="18.6" r="1.95"/><circle cx="603.7" cy="28.4" r="1.95"/><circle cx="604.1" cy="32.2" r="1.95"/><circle cx="605.6" cy="18.5" r="1.95"/><circle cx="604.0" cy="18.0" r="1.95"/><circle cx="604.9" cy="25.3" r="1.95"/><circle cx="606.2" cy="26.5" r="1.95"/><circle cx="600.2" cy="24.3" r="1.95"/><circle cx="605.2" cy="28.7" r="1.95"/><circle cx="607.6" cy="22.1" r="1.95"/><circle cx="605.7" cy="24.8" r="1.95"/><circle cx="593.6" cy="26.6" r="1.95"/><circle cx="595.4" cy="19.5" r="1.95"/><circle cx="601.3" cy="25.8" r="1.95"/><circle cx="607.8" cy="27.5" r="1.95"/><circle cx="603.8" cy="29.5" r="1.95"/><circle cx="595.2" cy="36.2" r="1.95"/><circle cx="597.8" cy="35.4" r="1.95"/><circle cx="598.0" cy="36.0" r="1.95"/><circle cx="601.3" cy="35.9" r="1.95"/><circle cx="600.8" cy="33.7" r="1.95"/><circle cx="593.0" cy="33.4" r="1.95"/><circle cx="597.0" cy="33.9" r="1.95"/><circle cx="595.9" cy="36.4" r="1.95"/><circle cx="576.4" cy="44.8" r="1.95"/><circle cx="593.3" cy="49.3" r="1.95"/><circle cx="620.1" cy="43.4" r="1.95"/></g>
<g fill="#1f63c6" stroke="#1e1e1e" stroke-width="0.45"><rect x="643.0" y="80.5" width="3.6" height="3.6"/><rect x="647.9" y="74.9" width="3.6" height="3.6"/><rect x="650.7" y="75.4" width="3.6" height="3.6"/><rect x="644.9" y="84.0" width="3.6" height="3.6"/><rect x="648.8" y="80.2" width="3.6" height="3.6"/><rect x="649.7" y="79.7" width="3.6" height="3.6"/><rect x="641.0" y="80.2" width="3.6" height="3.6"/><rect x="644.4" y="79.2" width="3.6" height="3.6"/><rect x="641.1" y="77.6" width="3.6" height="3.6"/><rect x="646.9" y="72.2" width="3.6" height="3.6"/><rect x="644.5" y="73.7" width="3.6" height="3.6"/><rect x="609.6" y="83.0" width="3.6" height="3.6"/><rect x="626.6" y="85.3" width="3.6" height="3.6"/><circle cx="655.2" cy="78.3" r="1.95"/><circle cx="653.9" cy="82.0" r="1.95"/><circle cx="645.2" cy="75.0" r="1.95"/><circle cx="648.0" cy="83.7" r="1.95"/><circle cx="653.2" cy="83.9" r="1.95"/><circle cx="651.2" cy="74.5" r="1.95"/><circle cx="643.8" cy="77.0" r="1.95"/><circle cx="645.8" cy="76.4" r="1.95"/><circle cx="643.7" cy="84.0" r="1.95"/><circle cx="653.8" cy="84.8" r="1.95"/><circle cx="649.1" cy="76.0" r="1.95"/><circle cx="643.8" cy="77.9" r="1.95"/><circle cx="646.4" cy="85.8" r="1.95"/><circle cx="651.1" cy="81.4" r="1.95"/><circle cx="646.4" cy="84.2" r="1.95"/><circle cx="651.9" cy="77.6" r="1.95"/><circle cx="652.5" cy="82.2" r="1.95"/><circle cx="643.7" cy="84.9" r="1.95"/><circle cx="651.9" cy="77.9" r="1.95"/><circle cx="652.8" cy="85.8" r="1.95"/><circle cx="653.6" cy="82.1" r="1.95"/><circle cx="648.5" cy="75.7" r="1.95"/><circle cx="654.3" cy="84.7" r="1.95"/><circle cx="649.5" cy="83.2" r="1.95"/><circle cx="655.2" cy="82.9" r="1.95"/><circle cx="652.7" cy="76.8" r="1.95"/><circle cx="644.9" cy="84.2" r="1.95"/><circle cx="653.2" cy="75.1" r="1.95"/><circle cx="648.4" cy="82.9" r="1.95"/><circle cx="651.3" cy="75.6" r="1.95"/><circle cx="645.3" cy="85.1" r="1.95"/><circle cx="651.7" cy="79.0" r="1.95"/><circle cx="654.5" cy="82.8" r="1.95"/><circle cx="648.7" cy="79.8" r="1.95"/><circle cx="652.6" cy="79.1" r="1.95"/><circle cx="654.1" cy="76.7" r="1.95"/><circle cx="648.0" cy="86.3" r="1.95"/><circle cx="647.9" cy="80.4" r="1.95"/><circle cx="653.3" cy="84.8" r="1.95"/><circle cx="650.1" cy="76.9" r="1.95"/><circle cx="648.7" cy="77.3" r="1.95"/><circle cx="654.3" cy="79.0" r="1.95"/><circle cx="650.9" cy="83.6" r="1.95"/><circle cx="646.4" cy="84.5" r="1.95"/><circle cx="652.4" cy="80.6" r="1.95"/><circle cx="645.8" cy="81.8" r="1.95"/><circle cx="647.2" cy="77.9" r="1.95"/><circle cx="645.6" cy="81.3" r="1.95"/><circle cx="648.1" cy="75.9" r="1.95"/><circle cx="652.9" cy="80.2" r="1.95"/><circle cx="648.0" cy="75.0" r="1.95"/><circle cx="648.1" cy="87.2" r="1.95"/><circle cx="649.3" cy="86.4" r="1.95"/><circle cx="651.2" cy="73.4" r="1.95"/><circle cx="646.3" cy="83.8" r="1.95"/><circle cx="650.7" cy="78.8" r="1.95"/><circle cx="647.2" cy="83.6" r="1.95"/><circle cx="654.5" cy="78.3" r="1.95"/><circle cx="650.2" cy="84.5" r="1.95"/><circle cx="658.9" cy="71.7" r="1.95"/><circle cx="659.0" cy="71.0" r="1.95"/><circle cx="658.8" cy="74.1" r="1.95"/><circle cx="658.1" cy="76.6" r="1.95"/><circle cx="660.1" cy="79.5" r="1.95"/><circle cx="656.5" cy="69.2" r="1.95"/><circle cx="659.4" cy="77.7" r="1.95"/><circle cx="661.9" cy="79.4" r="1.95"/><circle cx="657.1" cy="69.4" r="1.95"/><circle cx="658.8" cy="77.0" r="1.95"/><circle cx="661.1" cy="78.8" r="1.95"/><circle cx="658.2" cy="72.5" r="1.95"/><circle cx="656.1" cy="71.5" r="1.95"/><circle cx="659.7" cy="79.0" r="1.95"/><circle cx="655.6" cy="68.8" r="1.95"/><circle cx="658.0" cy="75.4" r="1.95"/><circle cx="659.0" cy="76.4" r="1.95"/><circle cx="657.4" cy="72.0" r="1.95"/><circle cx="661.9" cy="76.5" r="1.95"/><circle cx="659.4" cy="75.4" r="1.95"/><circle cx="658.2" cy="70.2" r="1.95"/><circle cx="659.4" cy="73.6" r="1.95"/><circle cx="658.0" cy="76.6" r="1.95"/><circle cx="655.7" cy="70.5" r="1.95"/><circle cx="662.5" cy="77.7" r="1.95"/><circle cx="663.1" cy="79.1" r="1.95"/><circle cx="640.0" cy="72.0" r="1.95"/><circle cx="639.3" cy="71.1" r="1.95"/><circle cx="641.2" cy="70.9" r="1.95"/><circle cx="639.5" cy="71.1" r="1.95"/></g>
<g fill="#148080" stroke="#1e1e1e" stroke-width="0.45"><rect x="543.3" y="52.4" width="3.6" height="3.6"/><rect x="548.7" y="56.4" width="3.6" height="3.6"/><rect x="551.3" y="60.8" width="3.6" height="3.6"/><rect x="559.9" y="66.0" width="3.6" height="3.6"/><rect x="548.7" y="71.1" width="3.6" height="3.6"/><rect x="553.8" y="65.8" width="3.6" height="3.6"/><rect x="551.0" y="65.1" width="3.6" height="3.6"/><rect x="555.2" y="65.4" width="3.6" height="3.6"/><rect x="547.0" y="67.6" width="3.6" height="3.6"/><rect x="546.8" y="72.9" width="3.6" height="3.6"/><rect x="544.8" y="72.5" width="3.6" height="3.6"/><rect x="550.5" y="73.5" width="3.6" height="3.6"/><rect x="549.8" y="71.0" width="3.6" height="3.6"/><rect x="551.2" y="72.0" width="3.6" height="3.6"/><rect x="542.6" y="73.6" width="3.6" height="3.6"/><rect x="546.0" y="73.2" width="3.6" height="3.6"/><rect x="549.7" y="74.7" width="3.6" height="3.6"/><circle cx="550.3" cy="61.4" r="1.95"/><circle cx="558.6" cy="56.1" r="1.95"/><circle cx="556.7" cy="54.2" r="1.95"/><circle cx="548.6" cy="58.3" r="1.95"/><circle cx="551.9" cy="59.9" r="1.95"/><circle cx="546.1" cy="56.0" r="1.95"/><circle cx="542.5" cy="61.6" r="1.95"/><circle cx="551.2" cy="63.8" r="1.95"/><circle cx="555.2" cy="60.7" r="1.95"/><circle cx="549.7" cy="66.8" r="1.95"/><circle cx="546.7" cy="54.5" r="1.95"/><circle cx="552.1" cy="62.0" r="1.95"/><circle cx="558.6" cy="63.6" r="1.95"/><circle cx="551.7" cy="60.7" r="1.95"/><circle cx="547.3" cy="62.8" r="1.95"/><circle cx="555.2" cy="63.7" r="1.95"/><circle cx="551.7" cy="60.1" r="1.95"/><circle cx="551.0" cy="65.7" r="1.95"/><circle cx="549.4" cy="57.8" r="1.95"/><circle cx="547.4" cy="60.1" r="1.95"/><circle cx="554.5" cy="63.0" r="1.95"/><circle cx="555.6" cy="58.8" r="1.95"/><circle cx="550.0" cy="57.0" r="1.95"/><circle cx="556.7" cy="65.5" r="1.95"/><circle cx="548.2" cy="67.0" r="1.95"/><circle cx="551.2" cy="66.3" r="1.95"/><circle cx="555.7" cy="54.8" r="1.95"/><circle cx="553.2" cy="65.4" r="1.95"/><circle cx="558.4" cy="58.3" r="1.95"/><circle cx="552.8" cy="60.7" r="1.95"/><circle cx="552.3" cy="67.0" r="1.95"/><circle cx="554.4" cy="55.1" r="1.95"/><circle cx="549.9" cy="60.0" r="1.95"/><circle cx="551.7" cy="55.7" r="1.95"/><circle cx="548.5" cy="59.3" r="1.95"/><circle cx="559.6" cy="60.0" r="1.95"/><circle cx="550.2" cy="58.5" r="1.95"/><circle cx="550.8" cy="66.5" r="1.95"/><circle cx="550.3" cy="61.3" r="1.95"/><circle cx="548.8" cy="57.5" r="1.95"/><circle cx="556.5" cy="55.2" r="1.95"/><circle cx="550.8" cy="63.0" r="1.95"/><circle cx="553.0" cy="59.2" r="1.95"/><circle cx="548.5" cy="63.4" r="1.95"/><circle cx="550.3" cy="66.3" r="1.95"/><circle cx="559.3" cy="60.0" r="1.95"/><circle cx="553.8" cy="65.5" r="1.95"/><circle cx="548.9" cy="61.2" r="1.95"/><circle cx="554.4" cy="57.4" r="1.95"/><circle cx="553.6" cy="65.6" r="1.95"/><circle cx="556.9" cy="55.0" r="1.95"/><circle cx="546.5" cy="62.3" r="1.95"/><circle cx="545.4" cy="61.3" r="1.95"/><circle cx="548.2" cy="63.7" r="1.95"/><circle cx="548.6" cy="57.7" r="1.95"/><circle cx="554.7" cy="53.1" r="1.95"/><circle cx="551.9" cy="56.1" r="1.95"/><circle cx="555.4" cy="69.6" r="1.95"/><circle cx="555.9" cy="65.6" r="1.95"/><circle cx="560.3" cy="71.1" r="1.95"/><circle cx="553.0" cy="69.4" r="1.95"/><circle cx="560.7" cy="70.9" r="1.95"/><circle cx="561.9" cy="71.4" r="1.95"/><circle cx="554.2" cy="73.5" r="1.95"/><circle cx="554.7" cy="71.7" r="1.95"/><circle cx="551.6" cy="69.1" r="1.95"/><circle cx="553.3" cy="71.0" r="1.95"/><circle cx="550.6" cy="69.6" r="1.95"/><circle cx="557.9" cy="65.9" r="1.95"/><circle cx="561.4" cy="67.0" r="1.95"/><circle cx="556.3" cy="67.9" r="1.95"/><circle cx="549.1" cy="73.1" r="1.95"/><circle cx="549.2" cy="76.1" r="1.95"/><circle cx="566.0" cy="55.4" r="1.95"/><circle cx="548.0" cy="84.0" r="1.95"/><circle cx="556.5" cy="83.3" r="1.95"/><circle cx="560.5" cy="67.5" r="1.95"/><circle cx="563.0" cy="63.0" r="1.95"/></g>
<g fill="#3fd3c6" stroke="#1e1e1e" stroke-width="0.45"><rect x="510.2" y="87.9" width="3.6" height="3.6"/><rect x="518.8" y="80.9" width="3.6" height="3.6"/><rect x="518.4" y="89.5" width="3.6" height="3.6"/><rect x="520.3" y="83.6" width="3.6" height="3.6"/><rect x="529.3" y="83.3" width="3.6" height="3.6"/><rect x="512.5" y="82.6" width="3.6" height="3.6"/><rect x="529.6" y="87.2" width="3.6" height="3.6"/><rect x="513.9" y="85.2" width="3.6" height="3.6"/><rect x="521.5" y="92.5" width="3.6" height="3.6"/><rect x="525.5" y="90.9" width="3.6" height="3.6"/><rect x="526.8" y="82.0" width="3.6" height="3.6"/><rect x="509.9" y="87.6" width="3.6" height="3.6"/><rect x="522.7" y="91.9" width="3.6" height="3.6"/><rect x="519.9" y="83.3" width="3.6" height="3.6"/><rect x="526.5" y="80.5" width="3.6" height="3.6"/><rect x="511.1" y="84.5" width="3.6" height="3.6"/><rect x="520.5" y="80.5" width="3.6" height="3.6"/><rect x="529.3" y="85.0" width="3.6" height="3.6"/><rect x="515.4" y="85.9" width="3.6" height="3.6"/><rect x="515.0" y="87.8" width="3.6" height="3.6"/><rect x="526.8" y="91.6" width="3.6" height="3.6"/><rect x="522.6" y="80.8" width="3.6" height="3.6"/><rect x="516.4" y="85.4" width="3.6" height="3.6"/><rect x="530.2" y="74.2" width="3.6" height="3.6"/><rect x="535.0" y="74.2" width="3.6" height="3.6"/><rect x="544.6" y="87.9" width="3.6" height="3.6"/><rect x="522.1" y="94.8" width="3.6" height="3.6"/><rect x="525.2" y="90.2" width="3.6" height="3.6"/><circle cx="517.5" cy="84.0" r="1.95"/><circle cx="530.7" cy="84.5" r="1.95"/><circle cx="513.9" cy="91.3" r="1.95"/><circle cx="530.4" cy="89.4" r="1.95"/><circle cx="533.2" cy="89.1" r="1.95"/><circle cx="526.6" cy="81.8" r="1.95"/><circle cx="524.5" cy="89.6" r="1.95"/><circle cx="538.4" cy="88.1" r="1.95"/><circle cx="524.7" cy="86.5" r="1.95"/><circle cx="532.2" cy="82.5" r="1.95"/><circle cx="512.8" cy="89.5" r="1.95"/><circle cx="532.1" cy="88.1" r="1.95"/><circle cx="527.0" cy="93.9" r="1.95"/><circle cx="514.1" cy="92.0" r="1.95"/><circle cx="512.3" cy="88.2" r="1.95"/><circle cx="521.4" cy="87.8" r="1.95"/><circle cx="525.4" cy="90.6" r="1.95"/><circle cx="517.8" cy="86.8" r="1.95"/><circle cx="519.5" cy="89.1" r="1.95"/><circle cx="531.6" cy="91.8" r="1.95"/><circle cx="523.0" cy="94.3" r="1.95"/><circle cx="520.2" cy="87.7" r="1.95"/><circle cx="531.9" cy="84.0" r="1.95"/><circle cx="525.9" cy="92.3" r="1.95"/><circle cx="525.8" cy="85.6" r="1.95"/><circle cx="520.2" cy="90.9" r="1.95"/><circle cx="536.2" cy="90.0" r="1.95"/><circle cx="518.8" cy="86.1" r="1.95"/><circle cx="526.5" cy="84.0" r="1.95"/><circle cx="521.2" cy="85.1" r="1.95"/><circle cx="529.8" cy="91.5" r="1.95"/><circle cx="519.9" cy="86.7" r="1.95"/><circle cx="507.8" cy="91.5" r="1.95"/><circle cx="508.0" cy="90.5" r="1.95"/><circle cx="515.1" cy="90.5" r="1.95"/><circle cx="510.1" cy="89.2" r="1.95"/><circle cx="514.5" cy="89.8" r="1.95"/><circle cx="514.9" cy="88.6" r="1.95"/><circle cx="514.6" cy="92.0" r="1.95"/><circle cx="508.2" cy="92.2" r="1.95"/><circle cx="513.0" cy="89.8" r="1.95"/><circle cx="513.2" cy="93.4" r="1.95"/><circle cx="513.2" cy="91.2" r="1.95"/><circle cx="512.3" cy="88.9" r="1.95"/><circle cx="514.3" cy="89.9" r="1.95"/><circle cx="512.3" cy="90.1" r="1.95"/></g>
<g fill="#d81e62" stroke="#1e1e1e" stroke-width="0.45"><rect x="556.3" y="108.2" width="3.6" height="3.6"/><rect x="546.9" y="106.7" width="3.6" height="3.6"/><rect x="551.3" y="102.9" width="3.6" height="3.6"/><rect x="553.1" y="99.3" width="3.6" height="3.6"/><rect x="553.7" y="96.7" width="3.6" height="3.6"/><rect x="549.3" y="101.8" width="3.6" height="3.6"/><rect x="557.7" y="105.9" width="3.6" height="3.6"/><rect x="551.7" y="109.4" width="3.6" height="3.6"/><rect x="553.6" y="100.9" width="3.6" height="3.6"/><rect x="552.8" y="94.8" width="3.6" height="3.6"/><rect x="545.9" y="103.2" width="3.6" height="3.6"/><rect x="551.0" y="111.0" width="3.6" height="3.6"/><rect x="553.8" y="95.0" width="3.6" height="3.6"/><rect x="556.1" y="108.0" width="3.6" height="3.6"/><rect x="553.2" y="93.6" width="3.6" height="3.6"/><rect x="556.0" y="106.1" width="3.6" height="3.6"/><rect x="552.7" y="103.4" width="3.6" height="3.6"/><rect x="550.6" y="95.0" width="3.6" height="3.6"/><rect x="555.9" y="108.9" width="3.6" height="3.6"/><rect x="547.2" y="101.0" width="3.6" height="3.6"/><rect x="549.1" y="98.8" width="3.6" height="3.6"/><circle cx="551.9" cy="108.8" r="1.95"/><circle cx="549.2" cy="105.1" r="1.95"/><circle cx="557.8" cy="106.5" r="1.95"/><circle cx="552.5" cy="111.6" r="1.95"/><circle cx="554.8" cy="110.6" r="1.95"/><circle cx="552.9" cy="96.8" r="1.95"/><circle cx="552.8" cy="101.2" r="1.95"/><circle cx="559.0" cy="101.0" r="1.95"/><circle cx="557.4" cy="96.8" r="1.95"/><circle cx="560.5" cy="104.4" r="1.95"/><circle cx="558.5" cy="105.7" r="1.95"/><circle cx="552.3" cy="96.8" r="1.95"/><circle cx="552.9" cy="103.2" r="1.95"/><circle cx="553.6" cy="111.7" r="1.95"/><circle cx="557.7" cy="98.0" r="1.95"/><circle cx="549.0" cy="101.5" r="1.95"/><circle cx="552.4" cy="100.3" r="1.95"/><circle cx="555.7" cy="98.2" r="1.95"/><circle cx="549.5" cy="98.1" r="1.95"/><circle cx="543.8" cy="119.4" r="1.95"/><circle cx="536.0" cy="114.1" r="1.95"/><circle cx="552.0" cy="117.3" r="1.95"/><circle cx="528.5" cy="103.9" r="1.95"/><circle cx="537.4" cy="108.0" r="1.95"/><circle cx="551.2" cy="116.6" r="1.95"/><circle cx="536.0" cy="108.1" r="1.95"/><circle cx="547.0" cy="117.0" r="1.95"/><circle cx="533.7" cy="111.0" r="1.95"/><circle cx="537.1" cy="107.2" r="1.95"/><circle cx="553.1" cy="121.4" r="1.95"/><circle cx="550.7" cy="120.7" r="1.95"/><circle cx="538.4" cy="112.5" r="1.95"/><circle cx="545.0" cy="120.6" r="1.95"/><circle cx="554.5" cy="122.0" r="1.95"/><circle cx="551.8" cy="116.0" r="1.95"/><circle cx="538.6" cy="111.4" r="1.95"/><circle cx="533.6" cy="104.1" r="1.95"/><circle cx="551.2" cy="116.2" r="1.95"/><circle cx="534.8" cy="117.2" r="1.95"/><circle cx="545.8" cy="117.9" r="1.95"/><circle cx="535.7" cy="115.4" r="1.95"/><circle cx="535.7" cy="110.6" r="1.95"/><circle cx="540.4" cy="120.4" r="1.95"/><circle cx="533.6" cy="106.4" r="1.95"/><circle cx="536.1" cy="104.4" r="1.95"/><circle cx="529.1" cy="109.3" r="1.95"/><circle cx="535.5" cy="115.7" r="1.95"/><circle cx="552.7" cy="121.5" r="1.95"/><circle cx="534.0" cy="112.4" r="1.95"/><circle cx="539.2" cy="112.6" r="1.95"/><circle cx="532.7" cy="108.0" r="1.95"/><circle cx="538.6" cy="112.2" r="1.95"/><circle cx="537.8" cy="112.2" r="1.95"/><circle cx="538.1" cy="109.0" r="1.95"/><circle cx="549.8" cy="116.7" r="1.95"/><circle cx="539.4" cy="120.0" r="1.95"/><circle cx="554.0" cy="118.8" r="1.95"/><circle cx="552.6" cy="117.7" r="1.95"/><circle cx="545.3" cy="115.9" r="1.95"/><circle cx="540.0" cy="115.2" r="1.95"/><circle cx="545.2" cy="119.6" r="1.95"/><circle cx="545.1" cy="122.5" r="1.95"/><circle cx="544.9" cy="122.6" r="1.95"/><circle cx="548.7" cy="122.6" r="1.95"/><circle cx="551.1" cy="114.9" r="1.95"/><circle cx="551.1" cy="120.6" r="1.95"/><circle cx="546.8" cy="117.1" r="1.95"/><circle cx="538.9" cy="110.5" r="1.95"/><circle cx="538.2" cy="114.6" r="1.95"/><circle cx="548.7" cy="122.3" r="1.95"/><circle cx="543.2" cy="116.3" r="1.95"/><circle cx="531.3" cy="113.1" r="1.95"/><circle cx="547.1" cy="115.9" r="1.95"/><circle cx="533.5" cy="105.1" r="1.95"/><circle cx="537.9" cy="115.0" r="1.95"/><circle cx="533.8" cy="108.4" r="1.95"/><circle cx="533.5" cy="110.4" r="1.95"/><circle cx="551.5" cy="118.9" r="1.95"/><circle cx="532.6" cy="107.8" r="1.95"/><circle cx="543.6" cy="114.1" r="1.95"/><circle cx="535.4" cy="111.3" r="1.95"/><circle cx="543.9" cy="117.2" r="1.95"/><circle cx="541.5" cy="116.0" r="1.95"/><circle cx="544.6" cy="118.2" r="1.95"/><circle cx="551.9" cy="116.5" r="1.95"/><circle cx="538.0" cy="119.4" r="1.95"/><circle cx="540.1" cy="117.4" r="1.95"/><circle cx="529.7" cy="106.9" r="1.95"/><circle cx="533.1" cy="111.8" r="1.95"/><circle cx="538.7" cy="112.5" r="1.95"/><circle cx="549.5" cy="115.4" r="1.95"/><circle cx="551.1" cy="119.8" r="1.95"/><circle cx="539.7" cy="111.6" r="1.95"/><circle cx="533.6" cy="108.2" r="1.95"/></g>
<g fill="#2e7d32" stroke="#1e1e1e" stroke-width="0.45"><rect x="587.3" y="98.4" width="3.6" height="3.6"/><rect x="584.9" y="94.9" width="3.6" height="3.6"/><rect x="589.0" y="88.9" width="3.6" height="3.6"/><rect x="572.9" y="100.1" width="3.6" height="3.6"/><rect x="583.9" y="98.8" width="3.6" height="3.6"/><rect x="597.6" y="95.4" width="3.6" height="3.6"/><rect x="593.8" y="95.9" width="3.6" height="3.6"/><rect x="590.5" y="95.0" width="3.6" height="3.6"/><rect x="591.8" y="91.4" width="3.6" height="3.6"/><rect x="596.0" y="101.6" width="3.6" height="3.6"/><rect x="577.9" y="100.5" width="3.6" height="3.6"/><rect x="591.2" y="96.3" width="3.6" height="3.6"/><rect x="590.7" y="95.4" width="3.6" height="3.6"/><rect x="574.0" y="97.3" width="3.6" height="3.6"/><rect x="581.5" y="99.1" width="3.6" height="3.6"/><rect x="575.1" y="99.1" width="3.6" height="3.6"/><rect x="576.2" y="99.3" width="3.6" height="3.6"/><rect x="593.4" y="97.0" width="3.6" height="3.6"/><rect x="594.8" y="100.5" width="3.6" height="3.6"/><rect x="576.5" y="102.5" width="3.6" height="3.6"/><rect x="582.5" y="90.8" width="3.6" height="3.6"/><rect x="580.4" y="95.9" width="3.6" height="3.6"/><rect x="598.9" y="93.6" width="3.6" height="3.6"/><rect x="591.8" y="97.5" width="3.6" height="3.6"/><rect x="588.0" y="94.7" width="3.6" height="3.6"/><rect x="587.4" y="91.7" width="3.6" height="3.6"/><rect x="574.7" y="96.0" width="3.6" height="3.6"/><rect x="581.7" y="89.4" width="3.6" height="3.6"/><rect x="581.2" y="90.4" width="3.6" height="3.6"/><rect x="585.4" y="93.8" width="3.6" height="3.6"/><rect x="587.2" y="99.1" width="3.6" height="3.6"/><rect x="585.5" y="95.2" width="3.6" height="3.6"/><rect x="594.1" y="93.0" width="3.6" height="3.6"/><rect x="591.9" y="96.5" width="3.6" height="3.6"/><rect x="593.5" y="101.8" width="3.6" height="3.6"/><rect x="592.7" y="90.8" width="3.6" height="3.6"/><rect x="584.0" y="101.5" width="3.6" height="3.6"/><rect x="598.1" y="97.1" width="3.6" height="3.6"/><rect x="597.7" y="93.3" width="3.6" height="3.6"/><rect x="596.8" y="91.2" width="3.6" height="3.6"/><rect x="574.5" y="100.0" width="3.6" height="3.6"/><rect x="584.8" y="104.0" width="3.6" height="3.6"/><rect x="583.0" y="98.8" width="3.6" height="3.6"/><rect x="586.5" y="91.2" width="3.6" height="3.6"/><rect x="584.8" y="91.7" width="3.6" height="3.6"/><circle cx="598.5" cy="100.6" r="1.95"/><circle cx="577.0" cy="96.8" r="1.95"/><circle cx="580.9" cy="91.7" r="1.95"/><circle cx="589.7" cy="92.2" r="1.95"/><circle cx="585.6" cy="104.7" r="1.95"/><circle cx="585.8" cy="99.4" r="1.95"/><circle cx="590.3" cy="90.5" r="1.95"/><circle cx="599.5" cy="101.5" r="1.95"/><circle cx="595.1" cy="98.2" r="1.95"/><circle cx="596.4" cy="97.7" r="1.95"/><circle cx="581.9" cy="92.2" r="1.95"/><circle cx="579.5" cy="92.7" r="1.95"/><circle cx="586.2" cy="95.0" r="1.95"/><circle cx="593.8" cy="97.3" r="1.95"/><circle cx="596.7" cy="96.7" r="1.95"/><circle cx="587.8" cy="95.3" r="1.95"/><circle cx="578.8" cy="95.5" r="1.95"/><circle cx="585.3" cy="100.0" r="1.95"/><circle cx="599.1" cy="102.7" r="1.95"/><circle cx="582.1" cy="92.9" r="1.95"/><circle cx="576.8" cy="96.3" r="1.95"/><circle cx="588.3" cy="103.9" r="1.95"/><circle cx="592.7" cy="90.8" r="1.95"/><circle cx="593.9" cy="92.7" r="1.95"/><circle cx="584.2" cy="102.9" r="1.95"/><circle cx="600.3" cy="95.8" r="1.95"/><circle cx="582.7" cy="104.6" r="1.95"/><circle cx="592.3" cy="93.9" r="1.95"/><circle cx="593.5" cy="103.0" r="1.95"/><circle cx="580.6" cy="96.5" r="1.95"/><circle cx="594.2" cy="95.7" r="1.95"/><circle cx="594.3" cy="94.5" r="1.95"/><circle cx="584.0" cy="103.0" r="1.95"/><circle cx="592.2" cy="96.7" r="1.95"/><circle cx="599.5" cy="95.9" r="1.95"/><circle cx="598.6" cy="95.0" r="1.95"/><circle cx="575.4" cy="93.7" r="1.95"/><circle cx="582.3" cy="92.1" r="1.95"/><circle cx="581.7" cy="99.6" r="1.95"/><circle cx="593.7" cy="102.6" r="1.95"/></g>
<g fill="#f39612" stroke="#1e1e1e" stroke-width="0.45"><rect x="581.8" y="86.8" width="3.6" height="3.6"/><rect x="581.4" y="85.3" width="3.6" height="3.6"/><rect x="584.4" y="82.1" width="3.6" height="3.6"/><rect x="584.6" y="89.5" width="3.6" height="3.6"/><rect x="587.4" y="94.2" width="3.6" height="3.6"/><rect x="586.4" y="94.2" width="3.6" height="3.6"/><rect x="582.6" y="83.5" width="3.6" height="3.6"/><rect x="579.1" y="88.5" width="3.6" height="3.6"/><rect x="584.4" y="93.4" width="3.6" height="3.6"/><rect x="579.6" y="95.3" width="3.6" height="3.6"/><rect x="588.0" y="90.0" width="3.6" height="3.6"/><rect x="577.5" y="92.4" width="3.6" height="3.6"/><rect x="582.4" y="83.1" width="3.6" height="3.6"/><rect x="580.1" y="80.9" width="3.6" height="3.6"/><rect x="582.3" y="81.4" width="3.6" height="3.6"/><rect x="574.0" y="85.3" width="3.6" height="3.6"/><rect x="586.4" y="81.5" width="3.6" height="3.6"/><rect x="575.1" y="83.4" width="3.6" height="3.6"/><rect x="588.7" y="87.5" width="3.6" height="3.6"/><rect x="582.2" y="89.8" width="3.6" height="3.6"/><rect x="584.3" y="89.5" width="3.6" height="3.6"/><rect x="582.6" y="84.0" width="3.6" height="3.6"/><rect x="578.6" y="93.0" width="3.6" height="3.6"/><rect x="585.4" y="90.6" width="3.6" height="3.6"/><rect x="583.8" y="94.9" width="3.6" height="3.6"/><circle cx="588.9" cy="88.0" r="1.95"/><circle cx="577.4" cy="84.2" r="1.95"/><circle cx="584.9" cy="89.6" r="1.95"/><circle cx="587.9" cy="92.9" r="1.95"/><circle cx="583.2" cy="97.8" r="1.95"/><circle cx="586.6" cy="86.6" r="1.95"/><circle cx="584.6" cy="85.9" r="1.95"/><circle cx="589.8" cy="87.0" r="1.95"/><circle cx="588.7" cy="90.2" r="1.95"/><circle cx="584.3" cy="95.8" r="1.95"/><circle cx="582.2" cy="87.1" r="1.95"/><circle cx="577.3" cy="92.2" r="1.95"/><circle cx="581.3" cy="97.5" r="1.95"/><circle cx="582.4" cy="84.5" r="1.95"/><circle cx="585.1" cy="95.3" r="1.95"/><circle cx="585.2" cy="80.4" r="1.95"/><circle cx="579.0" cy="86.4" r="1.95"/><circle cx="576.9" cy="93.0" r="1.95"/><circle cx="588.9" cy="88.4" r="1.95"/><circle cx="580.4" cy="94.5" r="1.95"/><circle cx="585.0" cy="89.3" r="1.95"/><circle cx="582.3" cy="86.5" r="1.95"/><circle cx="589.1" cy="89.2" r="1.95"/><circle cx="589.7" cy="84.0" r="1.95"/><circle cx="584.9" cy="86.9" r="1.95"/><circle cx="584.0" cy="80.0" r="1.95"/><circle cx="578.5" cy="81.7" r="1.95"/><circle cx="590.0" cy="82.0" r="1.95"/></g>
<g fill="#f06f9c" stroke="#1e1e1e" stroke-width="0.45"><rect x="582.9" y="120.1" width="3.6" height="3.6"/><rect x="583.0" y="126.8" width="3.6" height="3.6"/><rect x="594.6" y="114.5" width="3.6" height="3.6"/><rect x="589.4" y="112.7" width="3.6" height="3.6"/><rect x="580.0" y="115.5" width="3.6" height="3.6"/><rect x="585.1" y="120.8" width="3.6" height="3.6"/><rect x="580.8" y="118.1" width="3.6" height="3.6"/><rect x="578.6" y="122.5" width="3.6" height="3.6"/><rect x="577.2" y="118.5" width="3.6" height="3.6"/><rect x="580.0" y="111.2" width="3.6" height="3.6"/><rect x="584.3" y="110.1" width="3.6" height="3.6"/><rect x="581.7" y="119.9" width="3.6" height="3.6"/><rect x="586.2" y="122.2" width="3.6" height="3.6"/><rect x="592.7" y="115.5" width="3.6" height="3.6"/><rect x="590.4" y="126.4" width="3.6" height="3.6"/><rect x="590.6" y="123.3" width="3.6" height="3.6"/><rect x="591.9" y="122.8" width="3.6" height="3.6"/><rect x="589.2" y="118.5" width="3.6" height="3.6"/><rect x="587.0" y="120.6" width="3.6" height="3.6"/><rect x="582.9" y="118.3" width="3.6" height="3.6"/><rect x="580.8" y="119.5" width="3.6" height="3.6"/><rect x="589.6" y="111.0" width="3.6" height="3.6"/><rect x="594.8" y="117.7" width="3.6" height="3.6"/><rect x="577.5" y="112.4" width="3.6" height="3.6"/><rect x="579.3" y="122.5" width="3.6" height="3.6"/><rect x="580.0" y="113.1" width="3.6" height="3.6"/><rect x="591.6" y="124.5" width="3.6" height="3.6"/><rect x="588.1" y="110.0" width="3.6" height="3.6"/><rect x="581.9" y="122.6" width="3.6" height="3.6"/><rect x="576.0" y="116.8" width="3.6" height="3.6"/><rect x="583.2" y="122.9" width="3.6" height="3.6"/><rect x="585.1" y="107.0" width="3.6" height="3.6"/><rect x="590.5" y="110.3" width="3.6" height="3.6"/><rect x="580.7" y="118.0" width="3.6" height="3.6"/><rect x="577.6" y="115.7" width="3.6" height="3.6"/><rect x="592.4" y="109.2" width="3.6" height="3.6"/><rect x="593.5" y="111.8" width="3.6" height="3.6"/><rect x="593.9" y="115.2" width="3.6" height="3.6"/><rect x="579.6" y="111.3" width="3.6" height="3.6"/><rect x="580.2" y="111.6" width="3.6" height="3.6"/><rect x="587.4" y="120.3" width="3.6" height="3.6"/><rect x="584.2" y="107.3" width="3.6" height="3.6"/><rect x="576.2" y="114.5" width="3.6" height="3.6"/><rect x="586.6" y="123.8" width="3.6" height="3.6"/><rect x="589.1" y="123.6" width="3.6" height="3.6"/><rect x="579.7" y="109.8" width="3.6" height="3.6"/><rect x="592.5" y="108.3" width="3.6" height="3.6"/><rect x="591.5" y="104.4" width="3.6" height="3.6"/><circle cx="583.4" cy="128.4" r="1.95"/><circle cx="587.8" cy="118.6" r="1.95"/><circle cx="593.7" cy="120.6" r="1.95"/><circle cx="589.2" cy="119.8" r="1.95"/><circle cx="592.9" cy="128.2" r="1.95"/><circle cx="583.1" cy="125.7" r="1.95"/><circle cx="590.4" cy="116.4" r="1.95"/><circle cx="585.6" cy="124.0" r="1.95"/><circle cx="593.2" cy="111.3" r="1.95"/><circle cx="588.0" cy="117.9" r="1.95"/><circle cx="583.3" cy="126.2" r="1.95"/><circle cx="586.5" cy="123.8" r="1.95"/><circle cx="590.3" cy="122.1" r="1.95"/><circle cx="582.0" cy="120.7" r="1.95"/><circle cx="584.9" cy="110.2" r="1.95"/><circle cx="591.9" cy="125.6" r="1.95"/><circle cx="593.1" cy="122.5" r="1.95"/><circle cx="588.0" cy="128.5" r="1.95"/><circle cx="585.7" cy="127.2" r="1.95"/><circle cx="595.6" cy="119.4" r="1.95"/><circle cx="594.9" cy="122.7" r="1.95"/><circle cx="595.6" cy="114.5" r="1.95"/><circle cx="595.5" cy="113.1" r="1.95"/><circle cx="591.9" cy="117.7" r="1.95"/><circle cx="586.1" cy="117.9" r="1.95"/><circle cx="587.0" cy="123.3" r="1.95"/><circle cx="582.6" cy="114.3" r="1.95"/><circle cx="589.3" cy="121.5" r="1.95"/><circle cx="592.7" cy="114.0" r="1.95"/><circle cx="593.9" cy="114.3" r="1.95"/><circle cx="581.4" cy="119.5" r="1.95"/><circle cx="588.5" cy="126.3" r="1.95"/><circle cx="595.8" cy="115.5" r="1.95"/><circle cx="588.8" cy="111.6" r="1.95"/><circle cx="599.2" cy="106.5" r="1.95"/><circle cx="598.9" cy="109.1" r="1.95"/><circle cx="594.0" cy="110.5" r="1.95"/><circle cx="593.9" cy="108.8" r="1.95"/><circle cx="591.3" cy="107.8" r="1.95"/><circle cx="590.2" cy="109.5" r="1.95"/><circle cx="592.1" cy="108.7" r="1.95"/><circle cx="590.0" cy="107.8" r="1.95"/><circle cx="594.4" cy="108.6" r="1.95"/><circle cx="595.0" cy="105.7" r="1.95"/></g>
<rect x="579.6" y="18.0" width="18.7" height="9.9" rx="1.6" fill="#fff" stroke="#e8621c" stroke-width="1.2"/>
<text x="588.95" y="25.85" font-size="8.1" fill="#222" stroke="#222" stroke-width="0.1" text-anchor="middle">PM.4</text>
<rect x="628.0" y="69.4" width="19.6" height="9.6" rx="1.6" fill="#fff" stroke="#1f63c6" stroke-width="1.2"/>
<text x="637.80" y="77.10" font-size="8.1" fill="#222" stroke="#222" stroke-width="0.1" text-anchor="middle">PM.1</text>
<rect x="531.7" y="57.0" width="18.7" height="9.8" rx="1.6" fill="#fff" stroke="#148080" stroke-width="1.2"/>
<text x="541.05" y="64.80" font-size="8.1" fill="#222" stroke="#222" stroke-width="0.1" text-anchor="middle">PM.6</text>
<rect x="501.4" y="75.6" width="19.0" height="8.4" rx="1.6" fill="#fff" stroke="#3fd3c6" stroke-width="1.2"/>
<text x="510.90" y="82.70" font-size="8.1" fill="#222" stroke="#222" stroke-width="0.1" text-anchor="middle">PM.7</text>
<rect x="559.2" y="82.8" width="18.4" height="9.2" rx="1.6" fill="#fff" stroke="#f39612" stroke-width="1.2"/>
<text x="568.40" y="90.30" font-size="8.1" fill="#222" stroke="#222" stroke-width="0.1" text-anchor="middle">PM.2</text>
<rect x="567.2" y="89.2" width="18.8" height="9.2" rx="1.6" fill="#fff" stroke="#2e7d32" stroke-width="1.2"/>
<text x="576.60" y="96.70" font-size="8.1" fill="#222" stroke="#222" stroke-width="0.1" text-anchor="middle">PM.5</text>
<rect x="525.5" y="103.3" width="18.8" height="9.3" rx="1.6" fill="#fff" stroke="#d81e62" stroke-width="1.2"/>
<text x="534.90" y="110.85" font-size="8.1" fill="#222" stroke="#222" stroke-width="0.1" text-anchor="middle">PM.3</text>
<rect x="566.0" y="106.9" width="19.0" height="9.2" rx="1.6" fill="#fff" stroke="#f06f9c" stroke-width="1.2"/>
<text x="575.50" y="114.40" font-size="8.1" fill="#222" stroke="#222" stroke-width="0.1" text-anchor="middle">PM.0</text>
<text x="485.80" y="154.70" font-size="10.5" fill="#000" font-weight="bold">c</text>
<text x="503.00" y="158.20" font-size="7.9" fill="#231f20" stroke="#231f20" stroke-width="0.1" font-style="italic">ABCA7</text>
<text x="581.00" y="152.40" font-size="7.9" fill="#231f20" stroke="#231f20" stroke-width="0.1">p.Ala1527Gly</text>
<line x1="500" y1="165" x2="664" y2="165" stroke="#444" stroke-width="1.0"/>
<path d="M498.3,165 L503.5,162.6 L502.6,165 L503.5,167.4 Z" fill="#222"/>
<path d="M667,165 L661.8,162.6 L662.7,165 L661.8,167.4 Z" fill="#222"/>
<g fill="#2b2b2b"><rect x="504.8" y="163.2" width="1.2" height="3.6"/><rect x="512.1" y="163.2" width="1.9" height="3.6"/><rect x="514.6" y="163.2" width="1.9" height="3.6"/><rect x="517.0" y="163.2" width="1.7" height="3.6"/><rect x="521.6" y="163.2" width="0.9" height="3.6"/><rect x="523.4" y="163.2" width="0.9" height="3.6"/><rect x="525.3" y="163.2" width="0.8" height="3.6"/><rect x="527.0" y="163.2" width="0.8" height="3.6"/><rect x="532.3" y="163.2" width="0.9" height="3.6"/><rect x="534.7" y="163.2" width="1.1" height="3.6"/><rect x="542.0" y="163.2" width="1.0" height="3.6"/><rect x="544.2" y="163.2" width="1.1" height="3.6"/><rect x="546.4" y="163.2" width="1.0" height="3.6"/><rect x="548.6" y="163.2" width="2.9" height="3.6"/><rect x="558.8" y="163.2" width="0.9" height="3.6"/><rect x="561.0" y="163.2" width="0.8" height="3.6"/><rect x="570.6" y="163.2" width="1.7" height="3.6"/><rect x="573.5" y="163.2" width="1.5" height="3.6"/><rect x="576.6" y="163.2" width="2.4" height="3.6"/><rect x="585.8" y="163.2" width="1.4" height="3.6"/><rect x="589.0" y="163.2" width="1.4" height="3.6"/><rect x="591.2" y="163.2" width="1.0" height="3.6"/><rect x="593.0" y="163.2" width="1.0" height="3.6"/><rect x="594.8" y="163.2" width="1.5" height="3.6"/><rect x="601.4" y="163.2" width="1.4" height="3.6"/><rect x="603.9" y="163.2" width="1.1" height="3.6"/><rect x="607.7" y="163.2" width="0.7" height="3.6"/><rect x="609.7" y="163.2" width="0.7" height="3.6"/><rect x="613.5" y="163.2" width="1.0" height="3.6"/><rect x="615.5" y="163.2" width="0.9" height="3.6"/><rect x="618.2" y="163.2" width="2.6" height="3.6"/><rect x="637.2" y="163.2" width="1.4" height="3.6"/><rect x="640.0" y="163.2" width="0.8" height="3.6"/><rect x="648.1" y="163.2" width="1.9" height="3.6"/><rect x="652.5" y="163.2" width="0.7" height="3.6"/><rect x="656.1" y="163.2" width="1.5" height="3.6"/><rect x="658.3" y="163.2" width="1.0" height="3.6"/></g>
<path d="M601.6,154.9 L605.1,157.4 L608.6,154.9 L605.1,162.2 Z" fill="#8a3a9a"/>
<path d="M506.58,179.52 L508.22,179.52 L508.38,180.57 L510.35,181.10 L511.66,181.80 L512.24,183.82 L513.30,188.21 L514.78,190.93 L515.52,192.68 L514.78,192.95 L513.80,191.80 L511.99,189.08 L511.17,185.84 L511.01,189.96 L510.68,193.47 L510.35,199.18 L510.35,205.15 L510.84,206.02 L508.55,206.02 L508.22,199.18 L507.73,193.47 L507.07,193.47 L506.58,199.18 L506.25,206.02 L503.96,206.02 L504.45,205.15 L504.45,199.18 L504.12,193.47 L503.79,189.96 L503.63,185.84 L502.81,189.08 L501.00,191.80 L500.02,192.95 L499.28,192.68 L500.02,190.93 L501.50,188.21 L502.56,183.82 L503.14,181.80 L504.45,181.10 L506.42,180.57 Z" fill="#fff" stroke="#333" stroke-width="0.45" stroke-linejoin="round"/>
<ellipse cx="507.40" cy="177.23" rx="1.97" ry="2.55" fill="#fff" stroke="#333" stroke-width="0.45"/>
<path d="M564.28,179.52 L565.92,179.52 L566.08,180.57 L568.05,181.10 L569.36,181.80 L569.94,183.82 L571.00,188.21 L572.48,190.93 L573.22,192.68 L572.48,192.95 L571.50,191.80 L569.69,189.08 L568.87,185.84 L568.71,189.96 L568.38,193.47 L568.05,199.18 L568.05,205.15 L568.54,206.02 L566.25,206.02 L565.92,199.18 L565.43,193.47 L564.77,193.47 L564.28,199.18 L563.95,206.02 L561.66,206.02 L562.15,205.15 L562.15,199.18 L561.82,193.47 L561.49,189.96 L561.33,185.84 L560.51,189.08 L558.70,191.80 L557.72,192.95 L556.98,192.68 L557.72,190.93 L559.20,188.21 L560.26,183.82 L560.84,181.80 L562.15,181.10 L564.12,180.57 Z" fill="#7b2d8e" stroke="#7b2d8e" stroke-width="0.45" stroke-linejoin="round"/>
<ellipse cx="565.10" cy="177.23" rx="1.97" ry="2.55" fill="#7b2d8e" stroke="#7b2d8e" stroke-width="0.45"/>
<text x="516.90" y="191.70" font-size="7.9" fill="#231f20" stroke="#231f20" stroke-width="0.1">Ala1527</text>
<text x="517.60" y="201.50" font-size="7.9" fill="#231f20" stroke="#231f20" stroke-width="0.1"><tspan font-style="italic">n</tspan> = 227</text>
<text x="575.30" y="191.70" font-size="7.9" fill="#231f20" stroke="#231f20" stroke-width="0.1">Gly1527</text>
<text x="575.30" y="201.50" font-size="7.9" fill="#231f20" stroke="#231f20" stroke-width="0.1"><tspan font-style="italic">n</tspan> = 133</text>
<text x="619.70" y="191.70" font-size="7.9" fill="#231f20" stroke="#231f20" stroke-width="0.1">Ref. 21</text>
<text x="486.00" y="233.90" font-size="10.5" fill="#000" font-weight="bold">d</text>
<text x="515.90" y="234.00" font-size="7.9" fill="#231f20" stroke="#231f20" stroke-width="0.1"><tspan font-style="italic">ABCA7</tspan> Ala1527 versus Gly1527 Ex</text>
<line x1="525.9" y1="241" x2="525.9" y2="361.2" stroke="#444" stroke-width="0.8"/>
<line x1="525.5" y1="360.8" x2="646" y2="360.8" stroke="#444" stroke-width="0.8"/>
<rect x="531.2" y="242.4" width="55.3" height="11.8" fill="#e0769b" stroke="#2a2a2a" stroke-width="0.7"/>
<text x="521.70" y="251.10" font-size="7.9" fill="#231f20" stroke="#231f20" stroke-width="0.1" text-anchor="end">PM.0</text>
<rect x="586.5" y="257.5" width="35.4" height="11.8" fill="#2b65b5" stroke="#2a2a2a" stroke-width="0.7"/>
<text x="521.70" y="266.20" font-size="7.9" fill="#231f20" stroke="#231f20" stroke-width="0.1" text-anchor="end">PM.1</text>
<rect x="586.5" y="272.6" width="5.0" height="11.8" fill="#e99020" stroke="#2a2a2a" stroke-width="0.7"/>
<text x="521.70" y="281.30" font-size="7.9" fill="#231f20" stroke="#231f20" stroke-width="0.1" text-anchor="end">PM.2</text>
<rect x="586.5" y="287.7" width="54.2" height="11.8" fill="#c22f67" stroke="#2a2a2a" stroke-width="0.7"/>
<text x="521.70" y="296.40" font-size="7.9" fill="#231f20" stroke="#231f20" stroke-width="0.1" text-anchor="end">PM.3</text>
<rect x="586.5" y="302.8" width="37.5" height="11.8" fill="#d6601e" stroke="#2a2a2a" stroke-width="0.7"/>
<text x="521.70" y="311.50" font-size="7.9" fill="#231f20" stroke="#231f20" stroke-width="0.1" text-anchor="end">PM.4</text>
<rect x="574.4" y="317.9" width="12.1" height="11.8" fill="#3f7b3c" stroke="#2a2a2a" stroke-width="0.7"/>
<text x="521.70" y="326.60" font-size="7.9" fill="#231f20" stroke="#231f20" stroke-width="0.1" text-anchor="end">PM.5</text>
<rect x="586.5" y="333.0" width="13.9" height="11.8" fill="#1a7874" stroke="#2a2a2a" stroke-width="0.7"/>
<text x="521.70" y="341.70" font-size="7.9" fill="#231f20" stroke="#231f20" stroke-width="0.1" text-anchor="end">PM.6</text>
<rect x="586.5" y="348.1" width="2.3" height="11.8" fill="#45c8bb" stroke="#2a2a2a" stroke-width="0.7"/>
<text x="521.70" y="356.80" font-size="7.9" fill="#231f20" stroke="#231f20" stroke-width="0.1" text-anchor="end">PM.7</text>
<text x="588.30" y="251.10" font-size="7.9" fill="#231f20" stroke="#231f20" stroke-width="0.1"><tspan font-style="italic">P</tspan> ≈ 0.01</text>
<text x="584.20" y="266.20" font-size="7.9" fill="#231f20" stroke="#231f20" stroke-width="0.1" text-anchor="end"><tspan font-style="italic">P</tspan> ≈ 0.05</text>
<text x="584.20" y="296.40" font-size="7.9" fill="#231f20" stroke="#231f20" stroke-width="0.1" text-anchor="end"><tspan font-style="italic">P</tspan> ≈ 0.01</text>
<text x="584.20" y="311.50" font-size="7.9" fill="#231f20" stroke="#231f20" stroke-width="0.1" text-anchor="end"><tspan font-style="italic">P</tspan> ≈ 0.04</text>
<line x1="533.4" y1="360.8" x2="533.4" y2="363.6" stroke="#444" stroke-width="0.8"/>
<text x="533.40" y="371.20" font-size="7.9" fill="#231f20" stroke="#231f20" stroke-width="0.1" text-anchor="middle">−2</text>
<line x1="586.4" y1="360.8" x2="586.4" y2="363.6" stroke="#444" stroke-width="0.8"/>
<text x="586.40" y="371.20" font-size="7.9" fill="#231f20" stroke="#231f20" stroke-width="0.1" text-anchor="middle">0</text>
<line x1="639.7" y1="360.8" x2="639.7" y2="363.6" stroke="#444" stroke-width="0.8"/>
<text x="639.70" y="371.20" font-size="7.9" fill="#231f20" stroke="#231f20" stroke-width="0.1" text-anchor="middle">2</text>
<text x="586.80" y="383.30" font-size="7.9" fill="#231f20" stroke="#231f20" stroke-width="0.1" text-anchor="middle">−log<tspan font-size="5" dy="1.6">10</tspan><tspan dy="-1.6">[</tspan><tspan font-style="italic">P</tspan>] × sign(NES)</text>
<text x="329.20" y="399.80" font-size="10.5" fill="#000" font-weight="bold">f</text>
<line x1="359.4" y1="407.8" x2="359.4" y2="563.3" stroke="#444" stroke-width="0.8"/>
<line x1="359.0" y1="563.0" x2="514.2" y2="563.0" stroke="#444" stroke-width="0.8"/>
<text x="356.00" y="553.10" font-size="7.9" fill="#231f20" stroke="#231f20" stroke-width="0.1" text-anchor="end">0</text>
<text x="356.00" y="534.44" font-size="7.9" fill="#231f20" stroke="#231f20" stroke-width="0.1" text-anchor="end">0.1</text>
<text x="356.00" y="515.78" font-size="7.9" fill="#231f20" stroke="#231f20" stroke-width="0.1" text-anchor="end">0.2</text>
<text x="356.00" y="497.12" font-size="7.9" fill="#231f20" stroke="#231f20" stroke-width="0.1" text-anchor="end">0.3</text>
<text x="356.00" y="478.46" font-size="7.9" fill="#231f20" stroke="#231f20" stroke-width="0.1" text-anchor="end">0.4</text>
<text x="356.00" y="459.80" font-size="7.9" fill="#231f20" stroke="#231f20" stroke-width="0.1" text-anchor="end">0.5</text>
<text x="356.00" y="441.14" font-size="7.9" fill="#231f20" stroke="#231f20" stroke-width="0.1" text-anchor="end">0.6</text>
<text x="356.00" y="422.48" font-size="7.9" fill="#231f20" stroke="#231f20" stroke-width="0.1" text-anchor="end">0.7</text>
<text x="379.60" y="574.80" font-size="7.9" fill="#231f20" stroke="#231f20" stroke-width="0.1" text-anchor="middle">0</text>
<text x="391.70" y="574.80" font-size="7.9" fill="#231f20" stroke="#231f20" stroke-width="0.1" text-anchor="middle">5</text>
<text x="410.80" y="574.80" font-size="7.9" fill="#231f20" stroke="#231f20" stroke-width="0.1" text-anchor="middle">10</text>
<text x="430.20" y="574.80" font-size="7.9" fill="#231f20" stroke="#231f20" stroke-width="0.1" text-anchor="middle">15</text>
<text x="448.90" y="574.80" font-size="7.9" fill="#231f20" stroke="#231f20" stroke-width="0.1" text-anchor="middle">20</text>
<text x="469.00" y="574.80" font-size="7.9" fill="#231f20" stroke="#231f20" stroke-width="0.1" text-anchor="middle">25</text>
<text x="488.40" y="574.80" font-size="7.9" fill="#231f20" stroke="#231f20" stroke-width="0.1" text-anchor="middle">30</text>
<text x="508.10" y="574.80" font-size="7.9" fill="#231f20" stroke="#231f20" stroke-width="0.1" text-anchor="middle">35</text>
<text x="411.80" y="587.40" font-size="7.9" fill="#231f20" stroke="#231f20" stroke-width="0.1">Time (×10<tspan font-size="5" dy="-3">3</tspan><tspan dy="3"> ps)</tspan></text>
<text x="0.00" y="0.00" font-size="7.9" fill="#231f20" stroke="#231f20" stroke-width="0.1" text-anchor="middle" transform="translate(337.4,487.2) rotate(-90)">r.m.s.d. (nm)</text>
<text x="515.00" y="413.50" font-size="7.9" fill="#8c8c8c" stroke="#8c8c8c" stroke-width="0.1" text-anchor="end">A1527 (closed)</text>
<text x="516.10" y="422.70" font-size="7.9" fill="#b13fc0" stroke="#b13fc0" stroke-width="0.1" text-anchor="end">G1527 (closed)</text>
<path d="M380.0,510.1l.1,1.2l.1-3.4l.1-3.0l0,3.9l0-2.3l0-3.1l.1,3.4l.1-1.9l0-.9l.1-2.3l0,3.2l0-5.4l.1,4.1l.1,.6l.1-7.6l.1,2.7l0-5.7l0,4.6l.1-4.9l.2-.2l.3-.1l0,2.0l0-1.9l.1-2.5l0-1.9l.1,1.2l0,5.7l.1-2.8l0-7.6l0,1.1l.1-3.1l0,5.1l0-2.4l.1-3.4l0,3.3l0-1.0l.1-2.0l0,1.8l0,3.0l0-4.9l.1,1.1l0-2.9l0,2.6l0,4.7l.1-3.2l0-3.7l.1-.5l.1,4.6l0-3.7l0-1.1l0,4.0l.1-4.6l0-1.0l.3,.8l0-4.5l0,2.3l.1-.9l0,2.4l0-.7l.1,5.1l0-3.0l.1-1.7l0,1.4l.1-2.1l.1,1.3l0,.8l.1-.3l0,2.4l0-2.3l.1-3.5l.1,2.1l0-4.0l.1,8.1l0-10.3l0,4.4l.1,1.3l0-3.8l.1,1.1l0,3.8l0-6.0l0,5.3l.1-3.1l0-.6l.2,5.4l0-3.1l.2-2.2l.1-2.3l0,1.0l0-.9l.1,4.9l0-4.5l0-2.6l.1,.3l.1,1.5l0-4.1l0,.8l.1-2.6l.1-2.1l.1,11.3l.1-6.8l.1,4.9l.1-3.2l0-.8l0-3.6l0,2.6l0,.5l.1-2.8l0,4.1l0,1.3l.1-2.1l.1-1.1l0-5.0l0,11.7l0-5.4l.1-5.1l0,.1l0,1.2l0-1.0l.1,2.6l0-2.4l.1,2.3l0-1.5l0,.4l0-2.5l0,3.6l0,.2l0-2.9l.1-2.3l0,4.4l.2-5.4l0,2.5l.1,3.0l.1,1.7l0-4.1l.2,1.5l0,2.6l.1-6.0l0,1.7l.1,1.9l0,2.7l.1-6.4l0,0l.1,5.8l0,.8l0-4.8l0,1.8l.1,2.4l0-3.0l.1-4.3l.1,5.7l0,2.0l.1-5.8l0,6.8l0-4.3l0-3.8l.1,5.3l0-4.6l0,7.7l0-2.3l.1,3.4l0-9.0l0,4.7l.1,3.5l.1-.5l.1-1.4l0-.7l0,.7l0,1.0l.1,2.2l0-9.4l.1,2.1l.1,1.2l0,2.0l0,.6l.1-1.9l0,.8l.1,2.3l0,1.2l.2-5.1l0,1.4l0,.9l0,6.4l0-8.3l0,2.6l.1-.6l.1-1.1l.1,3.7l0-2.7l.1-1.1l0,1.4l.1,.6l0-2.4l.1-.3l0,4.9l0-4.6l.1,4.0l.1-2.9l0-1.8l0-.8l0-1.5l.1,6.3l0-.2l.1-2.8l0-1.8l0,1.4l.1,1.8l0,3.0l0-5.0l.1-2.5l.1,5.1l0-1.4l.1-1.1l0-2.7l0,6.5l.1,2.3l0-6.4l.1-1.0l0,2.4l0,.7l0,2.3l.2-.8l0-4.6l.2,4.8l.1-.3l.1-2.7l.1,1.8l0-4.4l.1,2.2l0-2.7l0,3.6l.1,1.5l0-7.3l.1,4.9l0,1.7l.2-1.4l0,3.6l0-4.4l0,5.9l.1-5.3l.1-3.1l0,2.9l.1-1.4l0,5.0l.1,1.5l0,.2l.1-2.2l0-2.3l.1-1.0l0-1.4l0,4.7l0-5.0l0,2.8l.1,1.3l0,.6l0-4.7l.1,.1l.1,.1l.1,5.2l0-5.2l.1,.5l0,3.9l0,.8l.1,2.5l0-5.1l.1,2.4l.1-7.2l0,6.4l0,.5l0,.3l.1-4.0l.1,4.9l0,.4l.1-4.4l0,0l.2-1.4l0-.1l0,.7l0-3.4l.1-.4l0,2.8l.1-.7l0,3.9l0-3.2l0-2.0l0-2.3l.1,3.8l0-2.1l.1-2.2l.1,9.9l0-9.9l0,9.5l0,3.8l0-7.7l.1-1.4l0,3.1l0-4.0l.1,3.0l0,1.7l.1-5.1l0,7.4l0-3.8l.1,.7l0,2.8l0-7.0l.1,.7l0,4.2l0,.2l.2-1.1l0,.4l.1-.4l0-1.8l0-1.0l0,1.5l0,2.3l.1,.8l0-4.4l.1,7.9l0,1.6l0-5.6l0-2.7l.1,1.7l.1,2.6l.1-2.4l0,5.3l0-5.8l0,3.3l.2-1.2l0,4.7l0-4.8l.1,.2l0-3.4l.1,1.6l0-2.8l0,12.0l.1-8.3l0-.6l.1,.7l0,1.0l0,.4l0-6.1l.1,8.1l0-3.2l0-.3l.1,5.0l0-4.0l0-2.8l.1-.1l0,4.3l0-1.8l.1,.2l0-3.7l.1,3.8l.1-2.2l0-.4l.1,5.5l.1-2.7l0-1.5l.1,3.4l0,2.3l0-8.9l.1,6.4l.1-1.8l.1-.9l.1,3.9l0-1.6l.1-3.4l.1,4.4l.1-3.9l0,.5l.1-3.5l0,3.5l0,1.5l.1-2.5l.1,.9l.1,3.2l0-3.8l0-1.3l0,6.2l0-6.4l.1-4.6l0,2.8l0,2.7l.1-2.5l0-.1l.1,1.6l.2,.4l.1-.4l0,.6l.1,2.7l0,5.9l0-5.7l.1-1.5l0-3.5l0,1.9l0-2.9l.1,2.7l0-2.8l.1,5.9l0,2.8l0-3.0l.1,4.7l.2-9.8l0,5.4l0-2.6l0,.8l0-3.3l.1,2.8l.1,0l0-1.5l0,4.8l.1-.9l0,1.2l0-4.5l.1-.3l0-1.3l0,5.3l0,.4l0-2.6l0-1.8l0,2.1l.1,1.1l0,.2l.1-1.9l0,3.7l.1,.5l0-5.7l0,3.2l0-.6l0-3.6l.1,2.0l0,2.2l.1,2.5l.1-4.9l0,.8l0,.5l.1-.4l.2-2.6l0,5.9l0-2.7l.2,1.8l0,.7l.1-3.0l0-1.4l0,.8l0,.5l.1-.9l0,1.4l.1-2.9l0,2.6l.1-.4l0,2.3l.1,.6l.1,3.4l.1-1.6l0-1.3l0-1.7l0,.1l.1,.8l.1-1.5l0,.7l0-2.4l.1,3.3l0-3.4l0,1.1l0-.1l.1,8.1l0-6.4l0,2.2l.1-5.8l.1,4.7l0-2.3l.4,2.6l.1-3.7l.1-2.1l0,4.9l0-1.8l.1-3.7l0,3.2l.1-2.2l0,4.3l0-1.6l.1,.7l.1-3.4l0,6.0l0-5.0l0,2.3l0-1.4l.1,.8l0-3.4l.1,3.4l0,.9l.1-4.4l0,6.1l0-5.3l.1,1.1l.2-.1l.1,4.9l.1-4.2l.1,.3l0,2.1l0-.4l.1,2.6l0-4.0l0-.4l.1-.4l0,0l.1,4.0l.1-.4l0-2.3l.1,.5l0-5.5l.1,7.4l.1-1.3l0-6.7l.1,3.9l0,1.0l0,4.0l0-3.1l0,2.5l.1,.6l0-2.2l.1-4.5l0-1.1l0,2.6l0,2.7l.1-.9l0-4.7l0,5.2l.1-4.4l0,1.2l.1,3.5l0-2.4l.1-2.0l.1-.7l.1,2.0l0,.3l.1-1.1l0-1.7l.1,3.0l0,1.0l0-5.2l.1,4.4l0-3.4l.1,.8l0,3.1l.1-5.9l0,2.8l.1,4.6l0-.6l0-5.3l0-1.4l.1,5.9l0-2.7l0,0l0-4.7l0,4.2l.1-4.3l0,3.1l.1,5.4l0-1.7l.1,.7l.1-4.2l0,.8l0-2.1l.1,6.3l.1-6.6l0-2.3l0,2.6l0,4.1l.1-3.9l.1,2.1l0-4.2l.1,2.2l0-1.5l.1,.7l0,2.3l.1,2.5l.1,3.6l0-3.4l0-4.3l.1,0l0-1.0l0,3.8l.1-2.2l0,2.0l.1-2.4l0,7.1l0-4.8l.1,2.8l.1-2.6l.1,6.8l0-9.7l.1,5.4l.1,2.4l0-3.7l.1,2.7l0-2.6l0,3.1l0-3.0l0,4.6l.1-8.8l.1,5.9l0-3.4l.1,0l0,2.5l0-3.2l0-.1l.1,3.2l.2-5.0l0,2.1l.3,3.5l.1-4.8l0,5.4l0-6.0l0,3.6l.1,.1l0-3.9l0,5.8l.1-5.6l.2,8.2l0,.6l0-5.6l.1,1.9l0-.3l.2-3.6l0,1.5l0,1.9l.2-1.0l.1,2.8l0-4.6l0-.5l.1,3.2l0,0l0-2.9l0,1.2l.1-2.4l0,.9l.1-5.4l0,.5l.1,6.7l.1-4.1l0-1.1l0,4.2l0,4.1l.1-2.6l.2-1.3l0-1.1l.2,5.0l0-.2l0-3.9l.1-1.5l0,1.2l0,1.2l.1-1.8l0-.9l0-.2l0-2.3l.2,3.2l0,1.4l0-4.2l.1,1.2l0,4.9l0-4.7l0,3.1l.1-3.9l0-2.2l.1,6.0l0,.7l0-1.0l0-.8l0,4.0l0-4.6l0-1.3l.1,2.7l.1,2.2l0-1.9l0,1.8l.1,1.4l0-6.1l0,1.7l0-.4l.1,2.1l0-5.8l.1,6.5l0-6.3l0,4.5l.1-2.1l.1-.6l0,2.5l.1-4.9l.1,4.5l0-2.5l.1-3.0l.1,6.0l0-5.9l0,4.8l0-2.5l.1,.4l0,4.7l0-2.7l.1-1.1l0,3.0l.1-3.3l0,5.6l.1-5.4l0,3.1l0-2.6l.1,3.7l0-4.0l0,2.1l0,2.1l0-5.2l.1,2.9l0,1.7l0-2.3l0,.4l.1,3.2l0,.6l0-6.2l.1,1.9l0-4.5l0,6.8l.1,1.2l0-3.9l0-1.0l.1,4.2l0-2.6l0,6.4l0-1.5l.1-8.9l0,6.5l0-.2l.1-.3l.1-2.1l0-3.9l.1,3.9l.1-2.2l0,6.0l0-3.2l0,1.6l.1-6.3l.1,2.6l0-.6l0-1.8l.1,1.0l.1-2.9l.1,4.1l0-2.7l0,2.7l.1,.5l0-1.7l.1-1.3l0,3.9l.1-.2l.2-3.5l0,3.9l0-9.5l0,7.1l.1,.8l.1-1.5l.1-4.5l.1,4.1l.1,2.4l.1-1.8l0-4.3l0,3.6l.1,4.5l.1-1.0l0,.7l0-3.7l0,2.2l0-1.9l.1-.1l0-2.3l0,2.9l0,2.8l0-2.3l.1-4.9l0,6.5l0-4.3l0,4.3l.1-2.9l0,6.2l0-4.6l.1,3.8l0-6.1l0,3.2l.1,1.1l0-4.0l0,2.7l.2,1.1l0,1.7l.1-.1l0-4.4l0,7.3l.1-1.3l0-3.2l0,4.1l.1-3.1l0-.9l.1-1.9l0-3.4l0,7.6l0,2.2l0-1.3l.1,.1l0,3.4l.1-8.8l0,5.7l0,3.4l.1-5.5l0,5.5l0-5.9l.1-.6l.1-3.8l0,6.2l.1,.3l0-.9l0-1.0l0,1.3l0-2.4l.1-4.1l0,5.2l0,.5l0,5.6l.1-8.6l0,1.3l0-5.1l0-.1l0,1.6l0,6.7l.2-4.2l0-.2l0-1.7l0,1.9l0,1.4l.1-1.2l.1-2.1l0,.6l0,.5l0,.7l.1-1.0l0-1.7l.1-3.0l.2,3.7l0-.3l0-.4l.1-1.0l0-1.9l0,5.7l0-4.5l.2,1.3l0-1.1l0-2.1l.1,5.0l0-5.9l.1,4.1l0-1.0l0,1.2l0-2.7l0,5.3l.1,.8l0-1.5l0-3.1l.1-2.1l0,8.8l0-10.3l0,1.9l.1,4.2l0,.5l0-4.3l0,4.3l.1-4.8l0,5.6l.1-.7l0-1.0l.1,3.0l.2-1.7l0-6.9l0,8.2l0-1.3l.1,1.9l.1-3.1l0,2.6l0-2.8l0,2.0l.1,1.2l.1-3.6l0-.2l.1,1.8l0,1.9l.1-1.0l0-.5l.1,1.4l0-.8l0-3.7l0,6.2l0-.2l0-.6l.1-7.2l0,7.6l.1-6.2l0,2.8l0-.5l0,4.7l0-1.8l0-2.5l.1,1.2l0-2.9l.1-1.3l0,4.5l.1,0l.1-2.1l.1,4.0l0,.5l0-5.9l0,1.9l.1,.6l0-6.3l0,8.0l0-.4l.1-1.4l.2-.7l.1-.6l.1,4.6l0-5.1l0,2.7l0-1.3l0,3.6l.1,.7l.1-3.4l0-.1l.1-3.1l0,.2l.1,3.6l.1-.2l0-1.1l0-3.5l.2-.1l.1-5.3l0,6.9l0-6.3l0,1.4l0,2.3l.1,4.7l0-5.7l.1,4.3l.1,3.0l0-3.2l0-.4l0-4.4l.1,2.8l.1-2.9l.1,6.5l0,.1l.1,2.8l0-3.3l0,.9l.1-2.3l.1,4.0l.1,2.3l0-1.7l0,.9l0-1.4l.1,1.2l0-.7l0-2.7l.1,2.0l0,1.9l.1-1.2l0-1.3l0-2.1l0,3.5l0-2.8l.1,.7l0,2.2l0,1.0l0-4.3l0,.3l0,2.9l.1-3.0l.1,5.0l0-2.2l0-2.3l.1-3.3l0,4.7l.1-1.8l0-4.4l0,1.5l0,1.8l0,2.0l.1-7.2l.1,4.9l0,.7l.1,5.4l0-5.1l0-.1l0-.6l.1,1.0l0,.8l.1-2.1l0,1.8l0,3.7l0-5.5l0,2.3l.1,3.4l0-6.9l.1,2.0l.1-1.5l0,3.9l.1,.8l0-1.9l.1-1.6l0-.2l.1,.6l0,2.3l0-1.9l0,2.9l0,1.1l0-6.0l.1,4.9l.1-1.2l0-3.9l.1-6.3l.1,3.3l.1,3.7l0-6.8l0,8.2l.1-5.7l0,2.7l0-2.4l0,.7l.1,1.6l0-3.6l.1,2.6l0-.7l0,3.3l0-4.5l0,8.0l0-.9l.1-7.5l0-.1l0,2.0l0,2.2l0,.7l0,.3l.2,.8l0-2.2l.1-2.8l0,.7l0,1.5l.1-1.0l0,8.3l.1-7.0l.1,4.4l0-1.3l0-4.1l0-1.3l.1,2.7l0,1.6l0-1.6l0,3.7l0-4.5l.1,0l.1,2.5l0,4.5l0-3.1l0,2.7l.1-5.8l0,4.0l0-1.6l.1,5.2l0-7.3l0,1.6l0-2.7l.1-.8l0,5.0l0-.5l0-3.9l0,5.1l.1-2.8l.2-.7l0,4.8l0-3.2l.1,.4l0,.9l0-3.1l.1-2.2l0,4.4l.1,.3l0-8.3l0,1.5l0-.1l0-.1l.2,4.7l0-4.3l0,0l0,1.1l0,.9l.2-1.9l0,1.0l0-4.5l.1,3.8l0-2.3l0,2.0l.1,3.5l0-2.4l.2-.9l0,3.5l.1,1.4l.1-3.1l0-3.3l0,5.6l.1-3.6l0-2.5l0,3.6l0-3.1l0,.2l0-1.6l0,.3l0,4.3l.1-8.2l0,8.0l0,.6l.1-.3l0-2.0l0-2.9l0,3.0l0,1.8l0,1.8l.1-3.2l0-5.3l0,3.1l0-.9l0,4.4l.1-.6l0-.6l0-1.0l0-4.1l.1,4.0l0,3.4l.1-5.2l.1,.4l.1-1.2l0,2.4l0,2.0l.1-5.8l.1,5.5l0-3.6l0,8.3l0-6.7l.1,1.9l0-5.4l0,7.0l0-2.2l0-1.3l.1,4.9l0-4.1l0-.7l.1,4.8l0-5.0l.2,2.9l0-3.3l0-1.1l.1,6.8l0-3.0l0,1.7l.1-.4l.1-2.3l0,.9l.1-2.5l0-.1l0,2.2l0-6.3l.1,5.1l0-2.5l0,2.5l0-2.8l0,6.2l.1-1.7l0-3.5l.2,3.2l.1-7.0l0,1.3l0,5.3l.1,3.0l0-4.3l.1,2.1l0-1.2l0,3.7l.1-5.5l0-2.7l0,2.1l0,2.3l0,1.3l.1-3.2l0,4.7l.1-6.5l0,4.5l.1-3.1l0,1.7l.1-.2l0,4.3l.1,1.6l0-9.7l.1,5.0l0,1.9l.1-2.8l0,2.0l.1,.4l0,2.5l.1-4.0l0,4.2l0-2.4l.1,.8l0-1.7l0,1.6l.1,.7l0,6.4l.1-3.6l0-1.3l.1-.6l.1-2.0l.2,4.9l0-5.9l.1,1.2l0,4.2l.1-3.7l0-.9l.1,9.6l0-9.7l.1,1.8l0-2.6l0,4.0l.1,2.3l0,4.1l0-3.4l.1-2.0l.1-1.6l0,3.1l0-3.2l0,1.8l.1-5.2l0,5.1l.1-5.2l0,2.6l.1-3.8l.2,1.2l.2,7.5l.1-3.0l0-3.0l0,5.8l.1-8.5l0,5.3l0-3.0l.1,5.0l0,.8l0-3.0l0-.2l0-.7l.1,4.5l0-1.9l0,4.6l0-4.3l.1-.2l.1-2.9l0,0l0,4.6l.1-2.5l.1,3.2l.2-2.4l0-3.3l.1-.1l0,3.8l0-.5l0-.1l.1-4.7l0,2.7l0-2.8l.1,7.5l0-6.9l.1,.6l0-.8l0-1.9l.1,3.4l0-2.9l.1,2.0l0,1.6l.1-1.2l0-.7l.1,3.1l0-1.6l0-3.2l.2-1.4l.1,3.0l0,3.4l0,3.2l.1-4.9l0,2.1l.1-2.5l0,5.0l0,2.5l.1-6.7l.1,2.6l0,5.4l0-6.5l.2-.5l0,2.3l.2,1.3l.1-1.3l0,.6l0,3.0l0-5.1l.1,5.5l.1-4.6l0,4.1l.1,.8l.2-2.9l0-1.5l.1-1.7l.1-.7l0,5.5l.1-6.3l0,4.4l0-1.1l0,3.7l.2-4.4l.1,4.7l0-3.9l0,5.6l.1-6.3l0-.1l0-1.6l0,5.5l0-4.2l.1,3.6l0-3.8l0-2.6l0,7.2l0-.5l.1-4.5l.1,3.5l0-7.5l0,6.9l0-2.9l0,1.5l0-1.4l.1,1.0l0-1.1l.1-.9l0,.9l0,.9l.2,2.1l.1-1.6l0-2.1l0,1.2l.2,0l0,5.7l.1-8.0l0,3.8l.1-3.3l0,4.4l0-2.8l0,1.5l0-1.5l.2,3.8l0,1.0l0-1.6l0,.6l.1-1.1l.2-8.8l.1,5.1l0,3.5l0-1.9l.1-2.7l0-1.4l0,3.3l0,6.1l0-6.5l.1,5.4l0-5.1l0,4.1l.1-.8l0-3.7l0,.5l0,.1l0,3.3l.2-5.6l0,3.8l.1-1.6l0,6.1l0-7.6l.1,4.1l0-.5l0,3.2l.1-1.1l.1-6.7l0,8.5l.1-5.5l0,2.2l.1-7.5l0,10.0l.1-3.6l0-.1l0-1.4l.1,4.2l.1-10.8l.1,6.8l.1-2.1l0,2.0l.1,4.1l0-6.4l0,1.9l.1-2.8l.1,5.1l0-2.3l.1,3.2l0,1.7l0-10.7l0,.9l.1,3.2l0,2.0l.1-2.5l.1,3.7l0-1.8l0-3.5l.1,3.4l0-2.6l.1-.8l.1,2.6l0-.3l.1,2.6l.1-5.6l.1-.2l0,6.1l0-2.3l.1,.4l0-.2l0-3.5l0,.9l.1,4.1l0-.4l.1-.7l0,2.9l.1,1.8l0-4.2l.1,2.5l0,1.0l.2-2.9l0-.3l.1-2.5l0,5.8l0-1.8l0-.8l.1-2.1l.1,4.3l0-7.0l.1,6.0l0,1.1l0-3.2l.1-2.6l0-.1l.1,4.8l0-2.6l.1,2.2l0-3.9l.1-1.3l0,10.3l.1-9.8l0,4.4l.1,.8l0-2.9l0,.8l0,.2l0,3.6l.1-4.7l0,1.5l0,3.0l0-7.0l.1-.7l0,3.5l.1-1.0l0,3.0l.1-.3l0-2.2l0,1.8l0-2.5l.1,7.2l0-3.3l.1-3.1l0,7.2l0-6.2l0,2.2l.1-4.1l.1,.1l0,7.5l0-5.2l.1-.6l0,.7l.1,4.6l.1-3.0l0-1.1l0-4.1l.1,5.1l0,2.8l0-1.4l0-.2l.1,7.2l0-3.8l.1-3.1l0,2.4l.1-4.2l0,4.0l0,2.1l.1-4.9l0,3.9l0-4.7l0-2.5l.1,2.5l0,.1l0,2.6l.1-2.6l0-2.3l.1,.5l.1,0l0,1.2l.1-4.2l0,.9l0,1.4l0-2.2l0,5.3l.1-2.8l0-2.9l0,.8l0,5.1l0-4.2l.1-1.2l0,4.3l0,1.2l.1-7.0l0,4.8l0,4.0l.1,1.3l0-2.8l.1-.9l0-4.7l.1,5.2l0-3.2l0,.5l.1,2.7l0-3.6l.1,.9l0,6.0l0-3.0l0-6.1l0,2.3l0-1.1l.1,3.8l.1-3.6l0,2.5l.1,.5l0,1.2l0-1.0l.1,.3l.1-.7l0-2.1l0,4.6l.1-2.2l.1-2.1l.1-1.4l.1,3.4l0,2.3l.1-2.3l0-3.8l0,1.9l0-1.5l.1,1.7l.1,2.5l.2-2.0l0-.7l0-1.2l0,.2l.1,1.3l0-5.4l0,3.7l.1-4.0l.1,8.0l.1-5.1l0,5.2l0-6.3l0,8.5l.1-1.6l0-1.3l.1-1.3l0,.3l.1,.3l0,3.2l0-.5l.2,1.6l0-3.5l0,.6l0-3.5l0-.7l0,5.4l.1-1.8l0,2.0l.1-1.0l0-.6l0,.5l.1-5.4l.1,4.0l0,1.5l0-1.1l0,.9l.1-6.4l0,7.2l0-.6l0-.1l.1-1.0l0,.4l.1,.7l0-3.4l0,.8l0,1.4l.1-4.7l0,4.7l0-3.5l.1,.3l.1,0l.1,3.9l.1-3.1l0,6.4l.1-4.3l0,.1l.2,6.9l0-3.6l0-3.8l0,4.5l.1,2.2l0,2.0l0-1.0l.1-1.9l0,6.2l.1-7.1l0-4.0l.1,8.8l0-1.6l0-1.6l.1,3.3l0-3.7l0-2.6l.1,.5l0-3.1l.1,2.7l0-3.5l.2-1.3l0-1.7l0,3.8l0,1.5l0-2.9l0-3.6l.1,1.6l0,2.0l0-.5l0-.7l.1-1.6l0,7.4l0-4.1l0,.7l0-.4l.1-3.1l0,6.2l0-4.7l.1,.9l.1-.8l.1-1.5l0,3.4l.1-2.2l0,2.3l.1,.8l0,3.5l0-7.8l.2,7.8l.1,.6l0-5.5l0,1.9l.1,2.4l0-5.3l.1,6.8l0-7.9l0,5.3l.1-1.2l0-2.4l0,.4l0,1.8l.1-.8l0,.4l0-.4l.1,3.1l.1-1.1l0-.3l.1,.5l0,.1l.1,2.4l.1-3.0l.1,.3l0-2.0l.1-1.7l0,1.4l.1,1.3l.1-2.7l0,6.1l.1-5.3l0,2.9l.1-2.1l0,2.3l0,1.4l0,1.5l.1-6.4l0,5.6l0-4.2l0,5.3l.1-7.2l0,1.9l.1,1.5l0,3.4l0-3.0l.1,2.6l0-1.8l0,1.1l.1-2.3l0-.4l0,.9l0-.2l.1-1.0l0,.1l0-3.8l.2,1.1l0,1.9l.1,1.0l0-1.8l.2,8.9l0-7.6l.1,3.7l0,1.4l0-4.3l.2,3.8l.1-1.2l.1-2.1l0,4.6l0,.6l.1,4.4l0-4.2l0-5.5l.1,5.6l0-7.2l.1,3.4l0-5.4l.1,8.2l0-1.8l0,4.5l0-2.2l.2-3.3l0,2.4l.1,.7l.1-4.0l0,.4l.1,2.0l.2-5.0l0,.1l0,5.5l0-.8l.1-.7l0,7.3l0-5.2l0,2.5l.1-2.2l0-.7l.1-.9l0-2.7l0,3.9l.1-1.5l.1,3.0l0-4.1l.1-.6l0,1.8l0-4.4l.1,1.2l.1,1.1l0-.8l0-.2l0,1.0l.1-.2l0,5.4l.1-6.9l0-2.0l.1,4.2l0-1.8l0-1.6l0,4.1l.1-8.9l0,5.4l0-2.0l0,1.8l.1,.5l0,.1l0,1.1l.2-2.8l0,.4l0,3.9l.1-2.1l0-1.0l0-1.3l.1,2.7l0-3.0l0,7.0l0,3.0l0-5.1l.1-2.8l.1,4.6l0-6.5l0,5.6l0-1.9l0,3.1l0-3.8l0,1.9l.1,2.6l.1-3.5l0,4.2l0-4.5l.1,.6l.1,4.0l.1-5.0l.1,.8l0-1.7l0-.6l.1,5.5l0-2.5l0-3.7l.1,1.3l0,1.3l.1,2.3l0-.8l.1-.7l0-4.2l0,8.1l.1-6.8l.2,1.2l0-1.2l0,3.9l.1-2.8l0,.9l.1-2.1l0-.7l.1,1.2l.1,.8l0,.5l.1-.3l0,.1l.1-7.7l.1,5.4l0,.8l0,1.2l0-4.1l.1-2.1l.1-.9l0,1.7l0-1.8l0,3.6l.1,2.8l0-5.4l.1,.5l.1,0l.1-.7l0,5.7l0-5.4l.1,6.2l0-3.1l.1-2.2l0,3.1l.1,.7l.1-1.9l.1,2.8l.1,4.7l.1-1.7l0-7.1l0,9.1l0-.4l.2-.9l0,6.4l.1-12.3l0,5.2l0,1.3l.1-7.2l0,7.0l0-2.7l0-2.2l0,7.0l0-2.5l.1-4.7l0,2.6l.1-3.7l0,9.7l.1-9.9l0,3.9l0-1.6l.2,4.1l0-3.2l.1-.5l.1,.5l0-2.7l0,2.4l0,2.2l.1,.5l0-11.8l.1,5.7l.1,1.5l0-1.8l.1,2.2l0-3.9l.1,2.1l0-5.6l.1,.5l.1-.7l0,6.0l0-.1l.1,3.4l0-3.1l0,.9l.1-2.8l0,5.7l.2-1.2l0-.3l.1,4.6l0-7.8l.1,4.6l0-.7l0,1.1l0-.2l.1,.6l.1-6.0l0,3.9l0-2.5l0,2.3l0-3.8l.1,5.1l0-.6l0,3.1l0-8.8l.1,1.1l.2,2.0l0,.1l0-4.6l.1,1.7l0,1.5l0,2.9l0-.4l0-1.4l0,4.4l.1-.9l0-1.8l.1-1.2l0,1.5l0-1.7l.1,4.1l0-7.9l0,2.7l.1,.2l0,1.1l0-2.7l.1-2.9l0,4.0l.1,4.5l0-5.3l0,2.9l0,.2l.1-1.4l0-1.5l.1,.7l.1,4.0l0-2.8l0-.5l0-1.1l.1,.9l0,3.1l0-.2l0-2.5l.1,.1l.1,3.0l0,.2l0-2.3l0-3.4l0-4.1l.1,2.7l0,2.9l0,1.3l.1-1.6l0-1.1l.1,4.5l0-2.9l0-1.7l.1-.8l0,4.7l.2-3.4l0,2.2l.1-.4l0-.6l0-.4l0,1.0l.1-4.5l.1,3.9l0-2.5l.1-.4l0,1.2l0-1.1l.1,1.1l0-2.0l0,7.0l.1-9.7l0,4.1l0-2.0l0-1.9l0,4.1l.1,2.6l.2-4.8l0,4.8l0-7.2l.1,4.0l0-2.8l0-1.0l.1,1.4l0,0l.1,2.9l.1,3.6l0-2.2l.2,2.2l0-4.6l0-1.1l.1,5.5l0,.1l0-5.7l.1,1.9l0,2.1l.1-1.6l0-2.9l0,4.2l0-5.7l.1,10.9l.1-4.9l0-4.1l0,5.9l.1,.8l0-.2l.1-2.7l0-3.8l0,1.1l0,7.0l0-5.4l0-1.4l0,1.0l0-3.1l.1,3.1l0,1.8l0-2.2l0,6.0l.1-7.3l0,5.5l.1-2.4l0,2.9l0-3.4l.1-6.2l.1,.9l0,3.6l.1-3.2l0,5.2l0-7.5l.1,5.9l0-3.2l0,2.2l.1,.7l0-7.7l.1,3.4l0,2.4l0-.8l0-3.9l.1,2.2l.2,.8l0-.8l0,2.5l0,2.7l.1-2.8l0-4.8l0,.8l.1,4.2l.1,.8l0-4.5l0,.4l.1-4.5l0,9.0l.1-3.5l0-1.2l0,3.1l.1-.7l.1,2.2l0-5.8l0,2.7l0-3.2l.1,2.7l0-1.4l0-2.5l0,1.2l0,4.0l.1-3.5l0,1.8l0-5.8l0,6.9l0-7.4l0,5.1l0,1.7l.1,5.2l0-5.1l0-3.0l.1,1.0l.1,2.0l0,.1l0-1.9l.1,3.1l0-.4l.1-3.4l0,2.6l0,1.0l.1-4.5l0,1.2l.1,3.5l.1-.7l.1,3.2l0-.4l0-2.7l.1,4.4l0-2.3l.1,2.0l.1,6.2l0-9.2l0-2.3l0,6.5l.1-4.2l0-.2l0,4.5l0-3.9l0-5.2l.1,9.3l.1-4.7l0-1.7l.1,2.8l0-.6l.1-2.9l0,4.0l.1-5.9l.1,3.6l0-1.7l0,2.5l.1-.5l0-3.8l0,.9l.1,6.0l0-2.2l.1,.2l0,.3l.1-1.7l0-4.6l.1,2.9l0,.6l0,.8l.1-5.7l.1,9.5l.1-5.3l.1,3.7l0-7.7l0,6.7l.1-3.2l.1,5.2l0-5.1l0,5.2l.1,0l0-6.1l0,.3l0,.6l.1,1.8l0,.8l.1-3.3l.1,1.2l0,.9l0,1.8l0-3.7l.1,2.9l0,.5l.1,1.3l0-4.4l.1,5.3l.1,.7l0-2.8l0-.8l.2,1.7l0-2.4l0,1.1l0,2.6l.1-3.1l0,.1l0,.3l0,.8l0,2.4l.1,.1l.1-5.8l.2,3.7l.1-.4l.2,2.2l0,.6l.1-3.8l.1-.3l.1-4.0l0,6.5l0-.3l0-1.3l0-3.2l.1,3.0l0-.9l0-.9l0,1.5l0-3.6l.1,1.6l0-5.2l0,7.7l.1,3.8l0-9.4l.1,5.7l.1-1.8l.1-1.3l0,3.2l.1-6.0l.1,4.1l.1-2.3l.1,1.3l0-3.8l.1,4.0l0,1.7l0-.8l0-4.8l0,7.6l0-1.8l.1,0l0,1.2l0-3.2l.1,4.4l0-1.3l0-1.7l.1,1.2l0,2.5l.1,3.8l0-7.3l0-5.7l.1,8.7l0-2.9l.1,1.9l0-.5l.1,2.7l0-1.1l0-2.4l0,1.2l0-1.2l.1,1.2l0,.3l0,2.6l.2-6.1l0,6.9l0-6.0l.1,3.9l0,5.2l0-6.8l0,3.7l.1-2.7l0-2.0l0,4.7l0-7.3l.1,5.3l0-2.2l.1,2.7l0,.1l.2-.9l.1-1.3l.1,3.0l.1-6.0l0,5.8l0,.6l.1-4.5l0,2.0l0,.8l0,2.2l.1-2.9l.1-1.0l0-.4l.1-1.5l0-2.3l0,8.3l0-.6l0-.8l.1-3.3l0,3.7l.1,.8l.1-3.8l0,1.3l0-4.5l0,4.0l.1,3.5l0-1.4l.1-.3l0-1.1l0-2.9l0-1.5l0,.9l.1,1.5l0-.5l.1,2.6l0-5.4l.1,5.3l.1-5.4l0,3.5l0-.2l.1,2.9l0-3.2l0,.4l.1,1.3l.1-2.3l0,4.7l0-3.9l.1,.9l0,2.8l.1-2.2l0-.9l0,3.1l0-.8l.2-2.4l0,4.9l0-5.4l.1,5.2l0-.9l0-2.5l0-1.0l.1,2.7l0-6.9l.1,1.5l.1,7.0l0-5.0l.1,3.3l0,.7l0-4.3l.2,5.1l0-6.4l0,3.5l.1-.1l0-5.0l.1,8.8l0-7.2l.1,1.0l0,5.1l.1-5.2l0,3.8l.1-1.8l.1,0l0-1.0l.1,1.4l0,1.2l0,1.0l0-3.0l0,4.5l0-2.6l.1,2.1l0-3.3l.1-1.6l0,9.8l.2-7.7l0,5.6l0-2.1l0-1.8l.1-1.1l.1,.3l.1,4.4l.1-4.6l.1,3.4l0-2.3l0,0l0-.3l.1-1.8l0,5.0l0,.6l0-1.0l0-3.8l.1,.6l0-.4l.1,4.2l0-3.3l.2-.2l.1,2.1l0,.1l0-.5l.1,1.7l0-4.2l.1,6.3l0-5.4l0-1.0l.1,5.6l0-5.9l.1,2.5l0-2.5l0,6.2l0-2.5l.1,2.3l0-3.8l0-3.3l.1,8.1l0-.9l.1-4.1l0,1.0l0-1.8l.2-3.5l0,2.8l.1-2.2l0,3.6l0-.3l0,2.1l.1,2.8l0-2.6l0-2.8l.2-1.0l0,5.6l.1-10.8l.1,2.0l0,.2l0,9.1l0-9.6l.1,5.3l0,3.9l0-3.9l0-5.1l0,5.5l.1-.5l0,1.4l0-3.0l0,.8l.1,3.7l0-2.5l0-2.1l.1,3.3l0,.9l0,1.2l0,.8l0-7.4l0,4.3l.1-4.2l0,4.0l.1,7.2l0-6.5l.1,.2l0-2.7l.1,1.4l.1,2.6l.2,1.2l.1-1.1l0,5.1l0-10.3l0,6.6l0-6.6l.1,7.5l0-2.8l0-2.7l0,2.2l.1-1.7l0,3.1l0-5.3l.1,6.7l0-.4l.1-2.3l0,.9l0,2.7l0,1.3l.1-3.1l0,.3l.1-6.0l.1,2.8l0,2.6l0-1.5l.1-1.9l0,3.1l0,3.9l0-.5l0-8.5l.1,5.8l0-2.6l0,4.3l.1-3.2l0,1.2l0,.6l0-2.3l.1-2.4l0-.6l.1,6.1l.1-3.3l.1,1.0l0,2.8l0-1.4l.1,2.3l0-5.6l.1,6.4l.1-3.0l0,.8l.1,4.3l0-4.5l0-2.0l.1,1.1l0-.5l0,.7l.1-2.3l0,2.6l0,1.7l.1-6.3l0,4.3l.1-2.5l0,2.2l0-2.8l.2,4.2l0-2.9l.1-2.3l0,0l.1,.9l0,2.3l.1-1.0l.3,1.6l0-4.7l.1,.3l0,1.6l0,5.4l0-6.5l.1,2.7l0,.7l0-7.3l.1,3.4l0,1.8l0-.9l.2,3.0l.2,.1l0-4.6l0,.5l.1,1.1l.1-6.7l.1,3.6l0,5.1l.1-1.1l.1-3.0l0,2.6l0,.9l0-.8l0,4.6l.1-3.2l.1-6.1l0,8.3l0,1.1l.1,1.1l0-2.6l0-1.2l0,3.5l.1-2.1l0-2.0l0,2.0l.1-3.7l0,3.1l.1-4.8l0,4.0l.1,5.6l.1-7.7l.1,.7l.1,.7l0,1.9l.1-4.8l0,1.1l.1,1.2l0-.4l0-2.3l.1,6.4l.1-.1l0,2.0l0-3.4l0-3.5l0-.5l0,1.3l.1-2.4l.1,2.8l0,3.2l0-1.5l0-.7l0-1.1" stroke="#bcbcbc" stroke-width="0.32" opacity="0.85" fill="none" stroke-linejoin="bevel"/>
<path d="M380.4,532.0l0-15.6l0,7.4l0-1.0l.1-3.8l0,6.7l0-8.4l0,8.5l0-.9l0-2.6l.1,17.0l0-14.3l0,2.8l0-8.7l0-4.8l0-3.0l.1,10.4l0-9.9l.1,6.7l0,2.8l.1,2.0l0-1.8l0-6.6l0,3.6l0-9.3l0,6.0l0,1.9l0-5.5l0,.8l0,3.0l.1-3.6l0-.3l0-2.1l0-8.7l0,14.1l0-17.9l0,4.1l.1,7.0l0,1.7l.1-.2l0,4.7l0-17.1l.1,10.0l.1-6.6l0-3.2l.1,1.0l.1-12.3l.1-9.4l.1,2.9l0-.1l0-1.2l.1-.3l0,5.3l0-4.3l0-6.9l.1-1.0l0,6.0l0-3.0l0-7.1l0,8.1l.1-2.7l.1-1.0l0-2.0l.1-1.8l.1,4.4l.1-3.4l0-2.6l.1-2.7l.1-.4l0-.6l0,6.8l.1,5.7l0-7.4l0-3.4l0-2.3l.1,5.7l0,4.2l.1-5.3l0-.1l0-1.3l0-8.9l0,9.1l0,6.4l.1-15.5l.1,15.5l0-.1l.1-8.8l0,5.7l0,4.6l0-10.6l0,7.6l.1-1.1l0,14.3l0-17.9l.1,7.1l0,2.6l0-9.7l0,10.9l0-14.9l0,7.1l0-2.6l.1,.3l.1,8.5l0-2.4l0-4.7l.1-3.9l0,2.3l0,2.7l0-2.8l0-3.0l0,6.3l.1-2.7l0,.5l0,1.6l.1,3.2l0-5.9l0,2.1l.1-6.0l0,2.9l0,2.8l0-7.9l0,3.1l.1-1.0l0-4.7l0,3.6l.1,11.6l0-15.2l0,4.5l0-.4l.1-1.9l0,0l.1,5.0l0,1.5l0,3.1l0-14.9l.1,10.4l0-5.1l0,7.4l0-11.7l0,10.3l.1-16.6l0,8.1l0,1.0l0,3.9l0-9.6l0,3.2l0,4.1l.1-3.3l0,6.9l0,5.0l.1-16.3l.1,6.6l0-10.6l0,6.6l.1,4.7l0,5.2l0-17.2l.1,6.4l0-.8l.1,7.2l0-7.2l0-5.2l0,12.6l0-10.6l.1,4.1l0-1.6l.1,6.2l0-11.8l0,8.3l.1,6.1l0-9.2l0,8.5l.1,3.4l.1-9.7l0-2.4l.1,5.1l.1,2.0l0-20.7l0,21.4l0-6.8l0,1.6l.1-6.0l0,2.8l0-6.1l.1,5.1l0-1.6l0,5.2l0-1.6l0-.7l.1,14.5l0-7.8l0-10.9l0,13.0l.1,0l0-13.1l0,14.7l0,2.7l.1-4.5l0-6.0l0-3.0l0,8.3l0,4.6l.1-2.7l0-5.6l.1,7.8l0,3.9l0-5.2l0-9.7l0,8.9l0,1.3l.1-4.1l0,3.1l0,2.3l.1-1.7l.1,.1l0,1.6l.1-8.6l0,17.1l0-4.5l0-2.3l.2,6.1l.1-5.2l0-8.8l0-5.2l0,10.2l0-13.1l.1,26.2l0,2.1l0-7.1l.1-19.6l0,16.2l0-10.2l0,5.9l0,6.3l.1-5.3l.1,4.7l0-4.5l0,9.9l0-5.5l.1-8.0l.1-1.0l0,7.6l0,2.3l0,.2l0,4.8l.1-3.5l0-8.1l0,16.1l0-7.4l.1-1.8l0-.8l0,7.6l.1-1.7l0-7.8l0,.1l0,4.9l.1-1.1l0,1.6l.1-4.4l0,7.2l0-8.5l0,3.7l.1,5.1l0,1.7l0-5.5l.1,6.2l0-9.8l0,10.3l0-4.9l0-.6l.1-1.1l0-.5l0-.3l0,3.5l.1,.2l0,9.7l0-18.7l.1,4.1l0,16.8l0-18.2l0,7.6l0-6.0l0,4.8l.1-6.9l0,2.9l.1-9.8l0,4.2l.1,5.7l0-1.3l0,6.9l.1-13.5l0,8.2l.1-5.2l0,3.2l0,3.1l0-7.1l0-1.5l0,.1l.1,1.9l0-1.0l0-1.3l0-.5l0,2.4l.1-8.0l0,7.3l0,1.9l.1-1.5l0-8.3l0-2.1l0,10.8l0-3.6l.1,8.1l0-7.0l0,.4l0-.1l.1,6.4l.1-8.4l0,8.4l.1-5.1l0,2.4l.1,2.7l0-4.7l.1,4.7l0-1.5l.1-11.4l0,14.9l0-4.0l0,2.2l0-1.2l.1-3.1l0-2.3l.1-2.4l0,6.9l.1-7.7l0,11.8l.1-7.7l0,1.8l.2,10.7l0-8.9l.1-1.6l0,4.2l0,4.5l0-.9l0-6.4l0,3.2l0,4.4l.1-2.2l0-.4l0-8.2l0-1.6l.1,7.7l0,8.0l.1-14.7l0,13.8l0-7.5l0,.1l.1,7.7l0-9.3l0,3.1l0-10.2l0,3.0l0-1.9l0,14.4l0-6.9l0,11.6l.1-13.9l0,1.4l0,10.8l.1-2.7l0-1.9l0,1.9l.1,1.1l0-4.0l0-4.7l0,2.0l0,1.0l.1-.1l0,4.9l.1-8.6l0,1.8l.1,1.1l0-1.2l0,13.9l0-13.0l0,6.2l.2-3.3l0,15.0l0-13.0l0-8.5l.1,1.6l0,3.4l0,5.1l0-8.9l0,2.4l0,.6l.1,12.2l0-5.4l.1,.8l0-16.4l0,10.8l0,7.1l.1-7.7l0-2.1l0,9.9l0-.4l0,.2l.1,.3l0,4.3l0-15.4l.1,8.3l0-3.5l0,10.4l0-5.4l.1-5.9l0,13.4l0-5.1l.1,4.6l0-11.4l0,8.0l0,.4l0-7.7l0,2.2l.1-6.5l0,9.0l0-4.1l0,7.1l0-.7l.1-.2l0,3.9l.2-1.6l0,1.6l.1-6.0l0,2.7l0-1.4l0-5.5l0,15.7l.1-14.5l0-2.1l0,5.7l0-8.9l.2,8.0l0-3.1l0,14.4l.2-10.5l0-4.8l0,3.4l.1-2.5l0,2.4l0,4.2l0,4.6l.1-8.5l0-6.1l0,7.3l.1,.1l0,1.5l.1-4.8l0,9.2l0-3.2l0,7.7l0-9.2l0-3.7l0,5.2l0-9.1l.1,9.8l0-4.5l0-5.0l.1,16.6l0-10.2l0-5.9l.1,5.7l0,13.8l.1-16.9l.1,7.0l0-1.2l0,4.6l0,.2l0-10.1l.1,2.5l0,5.5l0-9.8l.1,2.1l0,11.9l0,.1l.1-8.9l.1,1.3l0-4.2l0,10.7l0-8.4l0,.5l.1-.2l0,4.3l0-4.9l.1-2.6l0-.2l0,6.2l0-7.9l.1-2.6l0,7.8l0,1.3l0-.1l.1-2.0l0,2.3l0,10.2l0-9.7l.1,5.6l0-3.6l0,1.2l0,.4l.1-9.2l0,6.0l0,4.2l.1,.3l0-7.7l.1,16.7l0-1.8l.1-9.5l0-8.8l0,6.5l0,8.0l0-6.3l.1-3.1l0,11.3l0-2.2l0-3.8l0-6.2l0,9.6l.1-5.3l0-3.9l.1,8.9l.2,.8l.1,4.6l.1-2.5l0-2.7l0,2.7l0-9.1l.1,11.1l.1-5.0l.1-3.4l0-4.9l0-3.8l.1,1.3l0,3.4l0,4.2l0,2.7l0-5.1l0,5.7l.1-9.9l0,6.1l0-3.0l0,8.8l.1-8.8l0,3.7l0,7.4l0,.6l.1-11.4l0,3.0l0,2.3l0,2.5l0,.3l.1-8.6l.1,6.2l0-1.8l0,.9l0-7.2l0-4.7l.1-10.7l.1,13.6l0-5.0l0,7.7l.1-10.5l0,6.4l.1-.2l0,2.0l0-6.1l0,2.9l.1,.9l0-9.9l0,13.4l.1-13.0l0-4.3l0,9.2l0-11.5l.1,4.8l.1,2.4l0-7.7l0,13.8l0-9.3l.1,5.2l0-9.0l0,7.8l.1-11.4l.1,10.6l.1-7.7l0,3.5l0-6.2l.1,13.1l0-23.6l.1,13.2l.1-.8l0-8.5l0,8.5l.1,1.0l0-3.5l0-2.3l0,4.3l.1-4.0l0,2.2l0-.6l.1,3.0l0,.5l0-3.9l0,3.9l0-13.3l0,8.3l0-.8l0,1.4l.1-2.5l.1,2.4l0-4.0l.1-5.1l0,6.7l.1,10.5l0-9.9l0-2.6l0-2.9l0,7.0l.1,5.1l0-11.2l.1,8.5l0-.9l.1-14.1l.1,9.7l0-1.9l0,1.9l0,5.9l0-1.7l.1-.6l.1-3.8l0,2.6l0,.1l0-4.6l.1-4.6l0,3.3l.1,3.3l.1-11.4l0,6.9l0-3.3l0-.6l0,9.7l.1-6.7l.1-3.2l.1-.9l0-3.3l0,10.1l.1,3.2l0,1.4l0-22.1l0,9.7l0,3.2l.1-.9l0-9.5l0,11.5l0,1.8l.1-5.4l0,3.2l0-.6l0,3.4l0,6.5l.1,1.6l0-10.0l0-5.4l.1,8.9l0-5.1l0-2.4l0,1.5l0,.9l.1,.2l.1,.9l0-4.0l.1,4.6l0-8.9l0-.6l.1,13.0l0,2.0l0-5.4l0,4.3l0,2.7l.1,5.9l0-13.3l0,4.6l.1-3.6l0,2.1l0,1.1l0,5.1l0-9.9l.2-1.5l0,8.5l0-4.7l.1,13.2l0-9.5l.1,.7l0-5.4l0-4.1l.1,7.3l0,2.2l.1-.1l0,2.1l0-8.6l0,9.6l0-2.9l.1,5.0l0-3.3l.1-4.0l0-5.4l0,8.8l0,8.7l0-9.8l0-6.2l0,10.5l.1-7.9l0-2.6l0,12.0l0-3.3l0-6.6l0,1.3l.1-.4l0,8.3l.1-1.0l0-5.9l0,4.1l0-5.2l.1,10.1l0-.6l0-3.1l.1,11.5l0-14.3l0,7.0l.2-1.4l0-8.5l.1-.8l0,10.4l0-11.8l0,6.1l0-11.3l0,2.5l.1,9.2l0-7.5l0-1.3l0,6.5l0-5.2l0,.1l0,3.9l.1-4.7l0,1.0l0,8.5l0-1.7l0-7.4l.1,5.9l0-6.3l0,13.3l0-16.3l0,13.0l0-2.0l0-1.6l0-.9l0,6.7l0-3.8l.1-3.4l0-1.0l.1-1.4l0,9.6l.1-10.1l.1-1.5l0,7.7l0-10.9l0,11.4l0,5.0l.1-.1l0-3.0l0-1.1l0,3.2l.1-4.7l0,.1l0-1.9l0,8.4l.1-18.7l0,14.8l0,2.7l0,.8l.2-2.7l0,1.3l0-3.8l.1,12.3l0-2.9l0-15.0l0,9.8l0,4.2l.1-1.7l.1-3.1l0-1.8l0-5.2l0,11.2l.1-2.4l0,4.2l0-3.8l0-7.0l0,1.4l.1,5.1l0-7.3l0,8.2l.1,7.5l.1,1.8l0,.3l0-16.8l0,7.5l.1,5.8l.1-13.2l0,11.7l0,3.5l0-8.4l.1,.8l0,.4l0-3.6l0,7.3l.1,4.8l0,4.5l0-23.7l.1,6.1l0,8.7l0-.5l0,.4l.1-1.8l0,5.2l.1,11.2l0-11.7l0,5.3l0,0l.1,7.6l0-9.5l.1,2.3l0,5.7l0-1.0l0,.3l0,8.3l0-8.3l.1,1.5l0-16.3l0,9.5l.1,3.4l0-2.2l.1,2.0l0,.7l0,.5l0-10.7l0,11.3l.1-7.4l0-3.5l0,3.2l.1-1.3l0-.2l0,10.8l0-5.1l.1-8.4l0,4.5l0,1.7l0-8.1l.2,9.7l0-10.3l0-10.3l.1,20.0l0-8.3l0-.9l0,7.5l.1-10.0l0,3.2l0-.7l0,2.9l0,7.8l0-8.6l0-11.3l.1,1.9l.1,15.1l0,2.5l0-10.3l0,4.8l0,9.9l.1-11.4l0-6.7l0,6.1l0,16.5l0-17.3l0,3.4l0,3.3l.1,3.2l0-4.5l0-1.0l0,6.6l0-12.2l.1,.9l0,1.1l0,3.5l0-2.5l0,2.5l0,.3l0,2.0l0,2.6l.2-4.8l0,4.8l0-8.3l0,16.9l0-25.0l.1,5.8l0,12.2l0-3.6l0-.8l.1,5.4l0-5.4l.1,5.3l0,3.7l.1-5.1l0,0l.1,3.7l0-4.7l.1,2.2l0-6.4l0,10.9l0-9.1l0,12.4l0-18.3l.1,9.8l0,7.9l0-16.0l0,10.1l.1,1.0l0-.1l0-9.9l0,2.5l.1,22.3l0-3.7l0-9.8l0-1.5l0,8.6l0-7.4l0-2.9l.1,.9l0,8.2l.1-15.3l0,16.7l0-10.8l0,2.7l0-4.5l.1-4.2l0,6.1l0,8.7l0-6.2l0,1.9l.1-1.8l0-4.1l0-2.6l0,12.9l.1-3.8l0-9.1l0,6.7l0,.1l0-1.6l.1-1.1l0,3.3l0-2.2l.1-5.0l0,5.1l0-.2l0-5.9l0,15.6l.1-14.7l0-5.3l0,10.8l0-4.0l.1-.8l0-2.4l0,2.9l0-4.4l.1-4.7l.1,3.5l0-3.1l0,10.4l0,.5l0-4.8l.1-4.3l0,13.5l0-11.0l0-10.7l0,9.1l.1,5.2l0,2.6l0,.5l.1-4.4l0,7.2l0-8.0l.1-1.7l0,6.9l0-3.7l0,6.3l.1,1.2l0,.8l0-3.4l0-4.5l0,1.8l0-5.4l.1,7.0l0,1.0l.1,0l0-4.7l0,3.8l0,4.1l.1-3.0l.1-2.7l0-2.8l0-.6l0-1.5l0,15.0l0-10.6l.1-.8l.1-1.6l0,2.5l.1-10.6l0,6.5l.1-5.1l0,3.4l0-3.1l.1,.9l0,1.4l.1-4.7l0-7.2l0-1.2l0,1.1l0,4.5l.1-10.0l0,8.2l.1,0l0,2.4l0-4.0l0-12.2l.1,8.1l0,2.4l0,6.1l.1-4.5l0-6.7l0,4.3l0-2.1l0,8.7l0-9.8l.1,11.8l0-10.5l0,10.9l0,1.8l0-5.3l.1-9.3l0,10.0l.1-2.6l0,1.4l.1,3.2l0,1.1l.2-1.8l.1,11.9l0-10.1l.1,18.4l0-10.2l0,.1l0-5.8l0,10.0l.1-7.5l0,2.9l0-5.3l0-4.4l0,12.0l.1,.7l0-8.9l0,6.4l0-11.1l0,13.8l.1-2.7l0,1.6l0,10.4l0-17.8l0,3.4l0-4.9l0,4.9l0,4.5l.1,6.5l0-8.8l0-10.6l.1,8.8l0,5.7l0-14.0l.1-1.2l0,6.5l0,8.4l0,3.9l0-9.4l.1,5.7l0-8.5l0,14.1l.1-11.6l0-.2l0,2.4l.1,1.7l0-6.2l0,4.0l0-4.5l.1,1.8l0-3.3l0,4.4l0,6.2l.2-4.7l0,8.3l0-2.7l0-15.2l.1,11.7l.1-13.1l0,14.5l0,1.9l.1-6.0l0,.1l0-8.0l0,9.1l0-1.1l0-2.5l.1,1.4l0,2.8l0-4.5l0,.3l0-6.4l.1,10.1l.1-12.1l0,7.1l0,5.1l0-9.4l0-1.9l.1-4.1l0,2.6l0,13.3l0-14.1l.1,5.6l0-1.4l.1-2.6l0,12.6l0-12.3l0,13.0l0-1.0l0-5.1l0-4.4l.1,4.6l0-2.7l.1,5.9l0-3.4l0-7.4l.1,2.9l0,3.4l0-3.2l.1,8.2l0-11.4l.1,3.5l0-8.0l0,16.1l.1-10.8l0,2.5l0,6.4l.1-6.7l0-3.2l.1-1.1l.1,18.2l0,.6l0-13.4l0,3.8l0-4.1l0,10.3l.1,5.2l0-4.2l0-10.4l.1,10.4l0-5.4l0,4.9l0,0l0-9.5l0,22.1l0-19.6l0,13.0l.1-5.7l0,2.9l0,0l0,3.2l0,8.7l0-5.9l.1-17.7l0,14.9l.1,4.1l0,.3l0-3.6l0,3.5l0-5.9l0,6.4l.1-1.4l.1-7.6l0-3.6l0,8.3l0-6.0l.1,4.5l0,1.5l.1,1.5l0-2.0l0,3.7l0-6.5l0,4.5l0,11.5l0-16.1l.1-1.7l0,8.6l0-8.0l.1-2.6l0,1.3l0,.2l0,2.5l.1,3.2l0-2.3l0-7.4l0,7.1l.1,.3l0,2.6l0-3.3l.1-10.2l0,8.3l0,3.1l.1-.7l0-7.9l0,2.7l0,11.8l.1-12.8l0,2.0l.1-4.6l.1,4.7l0-.2l.1,4.7l.1-7.0l0-.6l0-.7l0,6.8l.1-2.8l0-10.2l0-3.4l.1,13.3l0-5.3l0,1.7l0,3.2l.1,6.1l0-3.7l0-8.2l0-6.7l.1,3.1l0,8.9l.2,2.2l.1,5.0l0-5.2l.1,2.7l0-3.9l.1,.7l0,1.1l0,11.3l.1-4.9l0,1.2l0-17.3l0,15.5l0-3.4l0,8.9l.1,2.3l.1-.6l0-6.1l0-4.6l0,5.7l0,10.4l.1-13.2l0,.7l0,6.7l0-5.8l.1-9.1l0,16.1l0-8.5l.1-3.3l0-3.3l0,12.6l0,4.8l0-5.7l0-7.0l.1,5.4l0-5.5l0-.5l.1,3.8l0-3.5l0,8.4l0-11.9l0,7.4l.1-9.2l0-3.0l.1,15.1l.1-10.7l0,2.3l.1,.6l.1,1.1l0,1.0l0-5.6l0,4.1l.1,3.5l0-13.3l0,9.7l.1-.2l0-2.4l0-2.9l.1,10.0l0-5.1l0-2.9l0-1.1l.1,2.5l0-10.0l.1-2.5l0,3.5l0,4.9l.1-4.2l0,5.2l.1-7.7l0,14.8l0-6.2l0-1.7l0-17.3l0,23.1l0,.7l.1,6.6l0-17.7l0-1.0l.1,1.4l0,10.3l0-12.3l0,3.2l0-3.9l0,18.4l0-11.7l.1-4.4l0,3.7l0-1.5l.1-8.2l0,13.7l0-3.6l0-4.0l0-3.8l0,4.5l.1,.4l0,5.0l0,12.0l0-9.8l0-7.9l.2-4.4l0,4.5l0,1.4l0-2.3l.1,9.9l.1,5.7l0-17.3l0,14.7l0-7.0l0,3.2l.1-14.4l0,10.3l0-1.1l0,.9l0-1.4l0-4.0l0,7.8l.1-5.5l0,3.7l.2,6.8l0,3.3l.2-9.3l0,1.3l0,2.8l0-11.3l.1,4.8l.1,1.9l0,1.6l.1,4.6l0,1.6l.1-11.2l0-.9l.1-10.6l0,14.0l0-1.8l0,1.8l0-7.5l.1,7.5l.1,9.6l0-1.4l0-7.0l0,1.7l0-10.2l0,15.4l.1-13.9l0,2.9l.1,0l0,10.2l.1-5.0l0,4.1l.1,9.2l0-6.8l0-9.6l.1,7.8l0-3.9l0,.8l0-4.3l.1,10.7l0-4.9l0,2.2l0-5.3l.1,13.6l0-15.5l0,2.8l0-6.1l0,15.5l.1,.4l0-7.9l0,3.4l0,2.0l.1-6.9l0,9.7l0-2.1l0-6.0l.1-5.6l0,9.0l0,2.8l0-7.3l0,7.6l.2-3.3l0-1.2l0-.2l.1,.2l0-.1l.1,9.0l0-6.7l.1-.9l0,8.0l.1-12.0l0,2.1l.1,6.1l0-2.5l0-13.3l0,11.6l.1-3.0l0,6.0l0-.4l0-2.5l.1-12.1l0,4.8l0,7.6l.1-4.4l0,9.0l0-1.3l0-8.4l.1,2.3l0,.1l0-2.4l0-2.1l.1,15.2l0-17.5l0,7.2l0-5.5l0-3.3l.1,12.0l0-7.7l0,17.4l0-15.5l0,10.7l0-12.5l.1,.2l0,2.0l0,7.9l0-14.0l0,1.4l.1,1.7l.1-5.2l0,4.7l0-2.5l0-5.0l.1,4.0l0-5.3l0,10.9l.1-8.9l0,.7l.1-2.9l0,10.6l0-9.3l.1-4.0l.1-7.4l0,14.4l.1-19.7l0,14.8l0-1.4l0-6.5l0,4.0l0,3.7l.1-3.9l0,4.0l0-13.8l0,4.0l.1,.1l0-.1l0,2.6l.1,11.7l0-2.5l0-6.6l0-4.4l.1,.1l0,9.9l.1-2.0l0-10.7l.1,7.1l0-6.0l.1-2.9l0,1.3l0,6.9l0-2.9l0-6.9l.1,11.3l0-6.3l0-3.1l0,4.0l.1,3.4l0-9.5l0-1.5l0,6.4l.1-.2l.1,7.5l.1-10.0l.1,5.5l.1-7.6l0,4.3l0-4.1l0-.7l.1,8.5l0-9.0l0,3.6l.1,2.5l0-3.2l0-4.8l0,6.0l.1-7.0l0,4.5l0,6.6l.1-7.4l0-13.3l0,9.6l0,4.1l.1-1.5l.1-1.6l0,15.4l0-6.3l0-6.7l0-4.0l0,7.7l0-12.6l0,6.6l.1-.5l0,5.0l.1,2.8l0-4.7l0,9.2l.1-4.3l0-9.1l.1-1.0l0,9.2l.1-9.2l0,2.6l.1,4.1l0-2.7l.1-8.5l0,11.7l0-3.3l0-6.1l0,7.0l0-4.3l.1,11.2l0-19.8l0,6.1l0,8.4l0-2.2l0,3.5l.1-6.5l0,3.3l0,4.7l0,3.1l.1-4.2l0-2.7l0,7.5l.1-8.4l0,.8l0,1.2l.1-.1l0-1.2l0,.2l0,4.7l.1-4.4l0,4.6l0-2.1l0,5.0l0-14.1l.1,6.6l.1,12.6l0-7.3l.1,.6l0-9.3l0-1.5l.1-2.1l0,1.7l.1,1.0l0,2.0l0-2.2l.1-5.0l0,21.1l0-11.4l0,7.6l.1-25.2l.1,14.1l0,3.4l0,2.0l.1,.4l0-8.2l0-4.7l0,10.1l.1-1.0l0-1.7l.1,2.4l.1-7.9l0-4.9l0,1.3l0,7.0l0-4.6l0-1.2l0,7.5l0-5.8l.1-11.8l.2,9.9l0,7.4l0-3.8l0,9.1l.1-4.1l0-14.9l0,9.8l0,2.8l0,1.0l.1-2.7l0-5.9l0-1.3l0,1.5l0,13.0l0-7.6l.1,2.2l0-.3l0-9.3l0-.5l.1,1.5l0,8.3l0-1.2l0-8.8l0,11.4l.1-6.7l0,1.3l0-.7l.1-2.8l0,4.2l0,3.9l.1-13.4l0,6.6l0-1.9l0,1.1l.1,.4l0,11.3l0-7.3l0,5.1l.1,2.5l0-8.8l0,1.1l0,7.6l0-6.9l.1,8.0l0,0l0-3.3l0-11.4l.1-1.8l0,13.1l0-.1l0-6.1l0,5.3l0-3.9l.1,4.5l0-2.9l.1-1.5l.1,2.5l0,3.2l.1-9.0l0,12.6l0-9.0l.1,10.0l0,0l.1-2.4l0-3.2l.1,5.7l.1-3.4l0,1.3l0,.5l0-1.9l.1,7.7l0-4.5l.1-4.6l0,9.7l0-3.2l.1-.7l0,2.1l.1-11.2l0,12.9l0-2.0l.1-3.1l0-.8l0,.8l0,1.9l.1,.3l0-6.7l.1,9.6l0,2.2l0,7.8l0-21.9l0,6.9l0-7.9l0,14.1l0-1.2l.1,2.7l0-18.5l0,5.5l0,6.6l0,7.5l.1-5.5l0-5.8l.1-.6l0,8.2l0-5.0l.1-7.3l0,14.7l0-7.8l0,4.1l0-3.7l.1-.1l0,6.1l0-6.6l.1-9.4l0,19.2l0-10.6l0,4.4l.1-6.2l0,12.7l0-12.1l.1,2.7l0,11.4l.1-10.8l0,4.4l0-7.5l.1-1.4l0,.6l.1,4.5l0-10.2l.1,.6l0,9.8l0,3.8l0-7.5l0,4.7l.1,8.1l0-14.2l.1-1.8l0,13.7l0-10.6l.1-.5l0,10.3l.1-14.2l0,6.5l0-.9l0,4.8l.1,1.4l.1-4.4l0,1.3l0-8.6l0,8.1l.1,5.7l0-8.7l0,4.5l.1,6.7l.1,.8l0-6.5l0-1.1l.1,7.2l0-9.9l0,3.5l0,1.0l.1-1.5l0-4.2l0-4.3l.1,4.6l0,4.9l0-3.3l.1,.1l0,3.8l0,7.6l.2-3.7l0-10.8l0,11.1l0-3.7l0,6.7l0-8.4l0,9.0l.1-16.6l.1,6.7l0-3.3l.2-6.2l0,13.7l0-13.0l.1,3.2l0,6.2l0-3.1l0,3.1l0-5.1l0,7.1l.1-14.6l0,5.8l0-2.6l0,6.3l0-2.6l.1-5.1l0,.4l0-3.3l0,7.1l0,2.1l.1,5.1l0-13.5l.1,5.9l0,3.4l0-8.8l.1,4.2l0,3.8l0-9.8l0,2.8l.1-6.7l0,16.4l0-3.4l0-5.9l.2,8.5l0-7.0l.1,5.6l.2-4.2l.1,2.6l0-4.9l0-.2l0,.3l0,6.9l.1,1.2l0-11.0l.1,6.3l0-5.5l0,4.7l.1,2.4l0,11.4l0-9.0l0,2.5l0-4.1l.1-.9l0,7.6l0-3.6l0-10.2l.1,7.0l0-.9l0,1.6l0-3.7l0-1.1l.1,6.8l0,.3l0-12.5l0,.4l0,14.4l.1-2.5l0-7.9l0,1.1l.1,.9l0-.6l0,7.0l.1,1.2l.1,.8l0,7.1l0-9.9l0,8.7l0-17.1l.1,8.5l0,.9l0-4.7l0,1.6l.1,1.5l0,2.7l0,9.4l.1-5.1l0-12.8l.1,3.4l0-3.4l.1,12.6l0-1.7l0-2.6l.1,9.3l0-7.9l0-4.0l.1,4.5l0,5.6l0-9.2l0,5.5l.1,2.3l0,4.2l0-2.8l.1,4.0l0-5.1l0-2.1l0-4.2l.1,10.2l0-6.1l0,1.6l0-13.0l0,15.9l.1-4.6l.1-1.6l.1-.8l0-4.2l0,3.6l.1,9.5l0-5.6l0-6.9l.1,2.4l0,5.5l0,4.0l0-12.7l.1,.9l0,.5l0-.3l.1,6.0l0-9.2l.1,3.0l0,3.2l0,5.3l0-2.4l0-5.0l.1-.8l0,10.5l0-6.2l0,6.8l.1-14.1l0,17.7l0-10.4l0,3.2l0,1.1l.1-6.8l0,3.1l0-11.8l0,10.0l0,2.7l.1-8.4l0,14.3l0-1.3l0-11.4l.1-1.7l.1,9.3l.1-9.5l0,10.1l0,1.0l0-12.5l0,24.4l.1-20.4l.1,4.7l.1-6.2l.2,1.3l0,10.8l0-.5l0-1.4l.1,1.3l0-2.3l.1,3.5l.1-1.5l.1-6.9l.1,.4l.1-3.5l.1,3.7l0,4.6l0-1.8l.2-6.9l0,2.2l.1,3.3l0-.6l0,9.3l.1-10.8l.1,9.5l0-9.3l0,9.6l0-1.9l.1-2.4l0-8.3l0,.9l.1,1.6l0-8.0l0,10.3l0,10.0l.1-7.7l0-7.9l.1,1.2l0,7.9l0,2.6l0-10.2l.1-1.8l.1,2.8l0-1.0l.1-6.3l0,5.7l.1,13.1l0-1.7l0-9.4l0,11.5l0-3.1l.1-5.2l0-3.8l.1,1.1l0,1.8l0,3.8l.1-3.5l0,7.0l.1-1.4l0,7.9l0-18.7l0,9.2l0-3.8l0-.5l.1,1.8l0,5.3l0-10.8l0,1.6l.1,7.2l0,2.5l0-11.4l.1,5.7l.1-.3l0,1.0l.1-1.1l0,8.5l0,1.9l0-3.1l.1-8.0l0,3.7l0,17.2l0-12.0l0,.2l0,7.9l0-6.9l0-1.6l.1-2.0l0,8.8l0-1.8l.1-3.6l0,1.0l0-3.4l.1,5.5l0-6.5l0,.3l0,10.8l0-4.5l0-7.9l.1-2.5l0,2.3l.1,3.6l0-5.9l0,8.6l0-2.4l0-1.7l.1,7.8l0-6.7l0-3.1l0,5.6l.1,6.8l0-7.7l.1-6.2l0,1.5l0-16.2l0,20.9l.1-6.7l0,.3l.1-6.2l0-1.7l0,4.5l0,5.3l0-12.4l0-1.4l.1,10.9l.1-.3l0-2.5l0-4.3l0,11.9l0,.2l.1-10.2l.1,6.4l0-4.3l0,4.5l.1,5.3l0,6.7l0-11.9l.1,5.5l0-.6l0,3.2l.1-1.4l0-3.5l.1,9.1l0,5.3l.1,.5l0-17.4l0,8.9l.1,3.2l0-9.7l0,11.3l0-.1l.1-6.3l0-1.4l0,5.0l.1-3.8l0,1.5l0-2.6l0,8.0l.1-4.9l0-9.4l0,3.4l.1,10.8l0-8.9l0,4.9l0,7.6l.1-12.9l0,13.5l.1,2.3l0-7.9l.1-1.1l0-.6l0,9.5l.1-2.9l0-.5l0-4.2l0,6.2l.1-6.3l0,7.1l0-11.4l.1,5.9l0,1.2l0-5.9l0,4.8l.1,3.9l.1-3.3l0,3.5l0-7.8l0,4.7l0-5.2l.1-7.5l0,4.6l.1-1.6l0,3.5l0,6.4l0-1.6l0-4.4l.1,9.4l0-5.5l.1,1.4l.1,.2l0-7.8l.1-9.0l0,15.1l.1-7.1l.1,21.5l.1-12.1l0-1.4l0-3.8l.1,1.2l.1-2.3l0,.7l0,1.2l.1,5.2l0,1.7l.1,2.1l0,.2l0-11.8l0-6.7l.1,14.4l.1,.1l0-6.4l0-2.0l0,2.7l.1-.4l0,5.4l0-6.5l0,3.2l0,1.2l0-5.8l.1,1.5l0,6.3l0-3.2l.1-11.7l0,13.2l0-.6l.1,3.9l0-8.8l0,8.1l0-8.1l0-1.9l0-1.2l.1,10.3l.1-6.3l0-.3l.1,5.3l0-.2l0,.9l0-4.7l.1,11.1l0,1.1l0-23.3l0,11.0l0,3.9l.1-3.0l0-3.4l0,3.1l.1-7.1l0,5.9l0,13.0l0-16.8l0-4.9l0,11.8l0-5.0l0,7.0l0-5.1l.1-5.5l0,1.5l0,11.5l.1-9.1l0-3.5l0,10.8l.1,1.7l0-4.8l.1,.6l.1-2.2l0-14.7l0,20.5l0-6.9l0-4.0l.1,5.7l0-7.8l.1-3.8l0,14.8l0-14.3l.1,8.6l0-5.6l0,5.4l.1-3.3l0,2.5l0,3.7l0-7.2l0,3.7l0,.6l.1,3.9l0,1.4l0-7.5l.1,2.3l0-13.7l0,19.6l0-2.6l0-4.5l0,7.1l.1,6.9l0-5.8l0-11.3l0,2.8l0,12.1l0-3.5l0-13.4l.1,11.3l0,5.2l0-3.4l.1,5.1l.1-9.3l0,6.3l.1-10.2l0,12.4l0,8.4l0-13.8l.1,5.1l0,.9l0-5.4l.1,1.1l0-.7l0-2.4l0,3.6l.1-4.5l0,3.4l0-5.5l.1,12.0l0-10.9l0,1.9l.1,1.4l.1-12.5l.1,13.6l0-1.4l0,3.5l0-3.3l0-2.1l0,.3l.1-4.2l0,8.0l0-7.8l0,8.7l.1-10.5l.1,7.1l0,.1l0-7.7l0,7.2l0-3.3l0,1.6l.1,.7l0-6.6l0,.8l.1,4.4l0,6.6l0-3.1l0-8.8l0,4.8l.1,6.0l0-17.2l0,8.2l0,12.3l0-10.2l.1-3.7l0,11.7l0,1.9l.1-17.5l0-1.9l0,12.0l.1,2.3l.1-11.9l.1,4.4l0,11.8l0-15.3l.2,9.4l0-4.0l0,4.9l0-7.5l.1,.5l0-3.1l0,5.5l.1-7.4l0,10.6l0-7.3l0,5.2l0-12.3l.1-1.9l0,7.0l.1-11.2l.1,19.1l0,1.7l0-14.9l.1,11.4l0-22.9l0,17.7l0-3.6l.1,.4l0,1.5l.1-5.4l0,13.3l0-13.8l0,4.9l.1,4.9l0-3.2l0-12.4l0,7.1l0-5.2l0,9.1l.1-5.7l0,10.8l0-8.9l0-9.0l0,1.3l.1,8.7l0-3.7l0,2.6l0-7.4l0,10.2l.1-1.5l0-2.9l0-3.0l.1,3.6l0-6.0l0,9.6l0-5.2l0,4.0l0,6.5l0-3.8l.1,2.3l0-10.7l.1,7.6l0-8.9l0,7.1l0-5.7l.1-4.8l0,5.2l.1,7.0l0-5.0l0-5.1l.1-5.7l0,3.3l.1,4.1l0-1.3l0,6.2l0-4.5l0-2.8l.2,15.9l0-7.2l0-3.4l0,4.9l.1-9.7l0,1.3l.2-6.6l0,14.8l0-11.7l0,13.6l.1-14.4l0,11.5l0-11.2l.1,2.0l0-.8l0,2.2l0,5.5l0,1.9l.1,1.7l0-6.8l0-.6l0,5.9l.1,2.6l0-9.0l0,.4l0,4.3l.1-5.1l0,.9l0,4.7l.1,11.2l0-7.8l0-5.4l0-4.3l0-1.3l.1,8.8l0-11.3l0,10.0l.1-10.5l0,13.1l0,4.7l.1-7.7l0,7.0l0-7.1l0,.6l0,5.7l.1,2.4l0-10.6l0-1.6l0,5.6l.1-7.4l0,4.1l.1-8.5l0,9.2l.1-1.2l0-4.7l0,.9l0,7.9l.1-14.0l0,21.5l.1-15.4l0-9.5l.1,3.9l0-2.7l0,.4l.1,12.8l0,1.2l0-14.8l.1,1.9l0,1.7l0,1.8l.1,9.5l0-19.3l0,7.4l0,1.0l.1-5.1l0-1.5l0,7.4l0-14.4l0,9.2l0,9.5l0-13.5l.1,2.1l0,8.8l0-1.6l0-2.5l0-9.9l.1,21.5l.1-11.9l0,8.5l0,.6l0,1.8l.1,1.4l0-12.7l0,1.0l0,1.8l.1,3.0l0,3.2l0-2.5l0,6.4l0-5.2l0-11.2l.1,5.4l.1,4.4l0,.9l0,7.1l.1-.2l0,2.1l0,7.4l.1-22.6l0,1.7l0,1.5l.1,9.6l0-5.7l0-2.4l0-1.8l.1,6.3l0,4.3l0-5.4l0,2.8l0-1.2l.1-1.6l0,4.9l0-7.4l0,6.4l0,4.0l.1-10.5l0,5.5l0,6.2l0-14.7l.1,4.6l0-.2l.1,2.3l.1-5.8l0,10.9l0,2.7l0-15.3l0,1.3l0,1.7l.1,6.6l0-1.6l0-8.0l.1-1.6l0,3.4l0-7.6l0-3.9l0,17.8l0-2.3l0,.7l0-3.6l.1-3.6l0,2.7l0,3.9l0-3.9l.1,1.6l0-8.7l0,6.3l0,.4l.1-1.7l0,4.9l.1-11.8l0,11.8l0,2.9l0-4.5l0-7.4l0,7.0l.1-6.4l.1,5.7l.1-7.3l0,7.4l0-5.2l0,3.4l0,3.3l0-9.6l.1,.6l0,6.1l0-2.6l.1-1.1l0,8.4l.1-12.6l0,1.0l0,13.0l.2-6.0l0-6.1l0-1.4l0,2.8l0,9.7l0-11.8l.1-2.4l0,4.1l0,3.8l0,1.5l.1-3.6l0,4.9l0-9.6l.2,8.1l0-6.5l.1,1.2l0,6.2l0,.3l.1-3.6l0,2.7l.1-1.7l0-2.5l0-3.1l0,5.7l.1,1.1l0,6.9l0-.4l0-14.3l0,4.7l0,1.3l.1,2.7l0,4.4l.1-2.3l0-1.4l0-8.3l0,4.5l0,1.6l.1,.9l0-5.3l0,5.5l0,4.7l0-14.2l0,10.3l0,.7l.1,3.4l0,6.9l.1-23.1l0,13.4l0,2.1l0-8.0l.1,4.6l0-4.6l0,.8l.1,8.8l0-6.1l0,2.1l.1-10.0l0,11.4l.1-15.4l0,9.9l0,4.8l0-9.9l0,8.2l.1,.8l0,4.6l0-11.4l0,6.4l0-5.9l.1,8.1l0-.8l0-13.6l.1,7.2l0,19.3l0-6.7l.1-4.9l0-1.8l0,10.6l.2-18.7l0,12.4l0-8.8l0,5.1l.1,0l0,2.3l0-1.3l0,4.4l.1-9.6l0,12.3l0-9.9l.1,5.9l.1-3.9l0,8.4l0-9.8l.2-6.4l0,9.0l0,1.7l0-.4l.1-6.1l0,6.0l0,1.1l0-3.5l.1,1.4l0-13.0l0,5.1l.1,25.6l0-24.5l.1,4.9l0,9.3l0-7.8l0-6.7l0,6.7l0-5.0l.1-.6l0,2.2l.1,4.9l0,8.3l0-7.7l0-1.2l.2,8.6l0-6.7l0,2.3l0-2.2l.1,10.8l0-2.2l0-1.1l.1-6.7l.1,1.4l0,2.1l0-7.3l0-4.7l0,11.7l0,1.7l.1-5.8l0,7.0l.1,4.5l0-1.0l.1-7.6l0,3.7l0-16.4l.1,22.9l0-15.6l0,7.8l0,3.3l0-13.2l.1-3.4l0,15.0l0,12.5l.1-16.6l.1-5.2l0,9.6l.1-16.6l.1,6.2l0,1.1l.1,5.4l.1-9.7l0-7.0l0,5.3l.1,1.8l0,3.5l0,16.2l0-6.0l.1-7.1l0-2.1l0,5.9l0-1.6l.1-4.7l0,10.9l0-4.0l0,0l.1-3.3l0-2.5l0-4.9l.1,2.9l0,1.7l0,6.6l0-4.2l.1,1.7l0-5.0l.1-2.0l0,14.1l0-4.9l.1-8.0l0,.6l0,8.0l.1,1.0l.1,5.6l0-9.8l0,1.9l.1,5.7l0-9.6l0-2.0l0,2.1l.1,3.5l.1,4.2l0-6.9l.1,2.2l0,1.6l.1-4.3l.1,1.7l0,10.5l0-4.6l0-2.4l0,4.4l.1-4.0l0,1.7l.1,15.6l.1-9.7l0-4.3l0,5.6l0,2.4l.1-13.9l0,2.1l0,5.8l0-1.5l0,1.4l.1-5.5l0,9.7l0-8.3l.1-.7l0,4.8l.1,13.0l0-13.9l.1,6.1l0-.3l.1-4.4l0,.8l0-5.9l0,8.4l0-9.4l0,18.8l0-9.5l.1-6.7l0,6.6l0-8.5l0,13.4l0-9.9l.1,2.2l.1,3.7l0,1.7l0-1.4l0-4.6l0,2.3l.1-8.1l0,0l0,10.8l0-7.6l0,1.7l.1,2.8l0-10.9l0,1.5l0,6.6l0,4.3l0-4.7l0,7.2l.1-9.4l0,.4l0,5.1l.1-2.3l0-.2l0-.8l.1,.6l0-4.0l0-5.0l.1,10.9l.1-16.1l.1,4.6l.1,.3l0-4.2l0,16.6l0-9.3l.1,4.6l0-10.4l0,7.9l.1-10.1l0,9.9l0,4.7l0-14.2l0,11.2l0-4.2l.1,6.1l0-8.0l0,1.2l.1,.1l0-3.0l0,4.2l0-7.3l.1,2.9l0-4.5l0,10.4l0,.1l0-6.2l0,14.5l.1-16.5l0,2.2l0,5.4l.1-8.8l.1-7.6l0,12.4l0,10.2l0-3.3l0-7.6l.1,5.8l0-3.6l.1-2.9l0-8.3l0,7.6l0-4.3l0,7.3l.1-3.9l0,12.5l.1-8.1l0,14.9l0-17.0l0,.1l0,0l.1,5.5l.1-14.6l0,17.9l0-3.6l.1-14.9l0,27.0l0-18.0l.1-.6l0,3.9l0,2.7l0-6.1l0,2.9l.1-1.5l0-4.0l0,7.5l.3,.9l0-8.7l0-.3l0,5.3l0,5.1l.1-6.6l0-2.9l0,.3l0-.5l0-3.2l.1,11.7l0-.5l0-16.9l0,1.3l.1,3.9l0-10.1l.1,12.1l0,.8l0-2.3l0-2.1l0,3.1l0,0l.1-7.9l0,6.9l0,6.5l.1-8.8l0,10.1l.1,1.2l0-8.2l0,3.0l.1,2.8l.1-.3l0-3.6l0-1.6l0,.7l.1,5.6l0-19.9l0,11.6l0,10.6l.1-5.6l0,5.3l.1-2.6l.1,2.2l0-1.6l.1,.5l.1-3.9l0,3.5l0,.3l.2-4.8l.1,4.7l0-3.4l0-4.7l.1,6.3l.1-6.9l0,12.4l0-4.4l0-2.5l0,7.6l.1-4.0l.1-5.4l0-4.7l0,9.4l0,2.5l.1-10.6l0,1.5l0-1.6l0,6.4l0,8.2l0-11.9l0,13.1l.1-10.4l0-.6l0-2.1l.1,3.0l0-4.6l0,11.7l0-6.9l.1-4.4l0,5.6l0-6.4l0,2.2l.1,10.6l.1-13.2l0,.4l.1,1.9l0,3.2l0-8.2l.1,8.3l0,7.7l0-15.2l.2,6.3l0-12.1l0,13.4l.1-5.5l.1,1.2l0,4.3l0-14.2l.1-1.0l0,9.9l0-1.2l0,3.7l0,6.7l.1-9.4l0,2.9l.1-4.5l0,3.6l0-5.8l.1-4.5l0,10.3l.1,.7l.1-6.7l0,.8l.1,6.9l0-5.7l0-3.9l.1-1.0l0-6.1l0,11.9l0-4.2l0,7.5l.2-2.5l0-5.7l0,3.8l.1-3.4l0,4.4l.1-3.1l0,10.5l.1-18.1l0,6.9l0-7.8l0,19.0l0-13.9l.1,.5l0,11.4l.1-8.7l.1-5.4l0,1.5l0-5.1l0,14.9l0-6.4l.1,2.9l0,3.2l0-10.5l0,10.8l0-9.9l0,6.0l0-4.9l0,3.4l0-10.4l.1,11.5l0,1.3l.1-8.5l0-1.9l0,12.6l.1,6.2l0-17.0l0,15.8l0-11.2l0,8.9l0-4.3l.2,1.0l.1-7.6l0,8.2l.1,1.9l0,1.7l0-10.4l0,11.7l0-.2l.1-5.9l0,7.8l0,1.8l0-18.5l.1,9.9l0-3.9l0,6.3l0-5.2l0,1.5l.1,2.1l0-4.9l0-10.7l0,15.8l.1-.6l0,4.5l.1-9.4l0,6.4l.1-11.5l0,2.1l0-1.2l0-5.1l0,18.8l0-2.6l0-18.2l0,1.2l.1,9.0l0,9.5l0-11.0l0-2.2l0-6.4l.1,.9l0,10.2l.1-6.1l0-1.1l0-.8l.1-6.6l.1,16.2l0-12.3l0,8.9l.1-7.0l0-3.6l0-3.2l0,8.9l0,2.3l0,.8l.1-.2l0-.2l0,8.6l0-2.6l.1-4.1l0-10.6l.1,13.2l0,4.6l0-6.9l.1,.1l0-5.1l0,16.6l0-17.6l0,8.4l.1-2.3l0,6.7l0,.1l.1-5.7l.2,3.4l0,6.2l0-7.1l0,4.7l.1,2.6l0-4.3l.1-5.2l0,14.7l0-11.6l0,9.7l0-9.8l.1,10.5l.1-19.7l0-5.5l0,19.0l0-12.9l.1,12.8l0-1.3l.2-14.1l.1,12.4l0-10.4l0,7.5l0-17.8l.1,17.6l0-.6l0-1.5l.1-3.5l0-1.0l.1,7.6l0,.1l0-1.6l0-8.1l.1,8.5l0-8.4l0-.8l0-1.7l0,2.1l0,0l.1,4.4l0,.5l0-3.3l0,3.5l0-5.3l.1,9.2l0-9.5l.2,2.8l0,9.2l0,3.1l.1-2.4l0,6.5l.1-29.1l.1,12.8l0,9.1l0-8.3l0,4.1l.1,4.0l0,1.1l0-1.7l0-.6l0,3.5l.1-15.6l0,13.9l.2-3.8l.1,8.3l0-2.8l0,2.8l.1,2.2l0-4.4l0,1.7l0-1.3l0-2.2l.1-8.4l0,3.0l0,10.3l.1-2.6l0,12.8l.1-21.1l0,8.6l0,1.5l.1,3.1l0-8.2l0,2.1l0,5.4l0-6.6l0,11.4l0-15.0l.2-1.0l0,8.0l.1,1.2l0,5.7l0-8.9l0-2.3l0-2.3l0-6.1l0,15.2l.1-11.4l0-.9l0,7.5l0,1.7l0-7.2l.1,3.4l.1,9.0l0-10.9l0,4.9l0,.7l.1,3.7l0-9.9l0,1.3l.1-6.6l.1,8.0l0-1.3l0,1.6l.1,.8l.1-8.1l0,6.5l0,5.8l.1-10.1l.1-2.8l0-2.9l.1,.6l.1-1.6l0,5.0l0,2.1l0-3.1l0,6.7l0-3.5l0-2.5l.1,4.0l0-8.9l0,13.6l.2-11.6l0-.2l0,6.6l0-16.9l0,6.8l0,9.6l.1,9.1l0-5.0l0-6.0l.2,5.3l0-.9l.1,8.4l0-8.1l0,13.0l.1-5.8l0,5.1l.1,3.1l0-3.3l0-6.4l0-2.1l0-4.3l.1,4.2l0,2.4l0,0l0-8.6l0,13.6l0-3.1l.1,1.9l0-4.1l0-.1l0-1.3l0,8.1l.1-2.5l0-9.9l.1-9.6l0,18.0l0,6.2l0-5.4l.1-2.0l0-14.6l.1,.8l0,13.0l0-7.6l.1,14.6l0-12.8l.1,8.4l0,4.3l.1-15.0l0,10.4l0-1.7l0-12.6l0,11.7l.1-8.8l0-1.4l0-3.5l0,.8l0-6.7l.1,8.3l0-4.2l0,14.4l0-1.4l0-1.3l0-6.3l.1-.8l0,6.7l.1-5.0l0-4.7l0,10.2l.1,3.3l0-.4l.1,0l0-3.1l0-.5l0,3.6l0-.3l.1-11.6l0,7.0l0-5.6l0-6.3l0,17.8l0-7.8l.1,5.4l0-5.8l.1,7.7l0,6.7l0-16.5l.1,9.9l0-1.4l0-10.7l.1,8.8l0,8.2l0-10.6l0,4.3l0,7.0l0-6.5l0-3.5l.1,11.7l0-4.5l0-7.2l.1,9.6l0-5.9l0,3.5l0-8.6l0,8.9l0,3.2l0-3.1l.1-2.3l0-2.4l.1-2.9l0,12.9l0-7.6l0,7.8l.1-7.7l0-11.2l0,18.1l0-2.8l0-6.9l0,.8l.1-2.5l0,5.8l.1-6.7l0,2.6l.1-2.6l0,15.0l.1-20.1l0,20.9l0-8.1l0,4.8l0-3.1l.1,1.4l0-5.4l0-2.1l0,1.4l0-5.5l0,2.8l0,2.5l.1-2.1l0,5.5l0-11.1l.1,11.3l0-4.7l0-9.2l0,10.3l0-6.4l.1,6.2l0-6.1l0,4.5l0-5.0l.1,1.9l0-1.2l0-2.3l0,6.9l.1-5.6l.1-4.3l.1,7.2l0-7.0l.1-.4l0-.9l.2,5.5l0,9.9l.1-12.9l0,12.1l0-3.7l0-8.0l0,8.0l.1,2.1l0-16.4l0,15.1l0,10.4l0-11.6l0-1.0l0-2.0l.1-.8l0-.4l0,2.7l0,3.6l0-.5l.2,7.6l.1-14.3l.1,3.5l0-.6l.1-.1l0,.6l.1-9.0l0,18.8l0-12.5l0-11.4l.1,10.8l.1-5.3l0,14.1l0,3.9l.1-13.0l0-6.2l0,3.6l0,4.1l.1-5.5l0,3.7l0-5.0l.1,4.4l0-5.3l.1,6.2l0-11.1l0,5.0l0,7.7l0,5.5l.1-10.6l0,2.2l0-4.0l0,2.5l0-.4l0-.4l0-8.5l.1,6.4l0,2.5l.1-.9l0-4.5l0-3.6l.1,19.3l0-6.3l.1,3.2l0,.7l.1-14.6l0,14.7l0,.2l.1-7.4l0-1.4l0-2.3l.1,18.3l0-7.2l0-8.7l0,9.4l.1-.8l0-2.9l0-4.1l.1,19.5l0-12.7l0-1.0l0,1.1l0-13.9l.1,8.4l0,3.6l0,6.8l0-14.8l.1,14.3l.1-9.0l0-7.1l.1,12.7l0-8.1l.1,1.5l0-3.9l.1,3.8l0,1.1l0-11.3l0,7.6l0,1.7l.1-8.4l0,5.7l0,.3l0,7.1l0-8.1l.1-2.0l0,3.2l0,4.0l0,.9l.1-3.6l0,5.5l.1-5.6l0,.8l.1-.8l0,5.3l.1,8.4l0-9.0l0,4.0l0-4.7l.1,5.8l.1-1.7l.1,9.2l0-14.3l.1,1.9l.1,14.1l.1-13.9l0,.2l0,.8l.1,4.5l.1-3.3l0,.2l0-.7l.1,.4l0,7.6l0-12.1l.2,.6l.1,1.4l0,7.8l.1-3.8l0-3.5l0,9.4l.1,4.0l.1-4.9l0-4.2l0-3.1l0-4.5l0,3.5l.1,3.0" stroke="#9440a2" stroke-width="0.2" opacity="0.32" fill="none" stroke-linejoin="bevel"/>
<line x1="519.8" y1="409" x2="519.8" y2="564" stroke="#444" stroke-width="0.8"/>
<path d="M519.80,444.00 C520.50,444.83 521.97,447.17 524.00,449.00 C526.03,450.83 529.33,453.17 532.00,455.00 C534.67,456.83 537.78,458.45 540.00,460.00 C542.22,461.55 545.13,463.05 545.30,464.30 C545.47,465.55 543.22,466.38 541.00,467.50 C538.78,468.62 534.67,469.67 532.00,471.00 C529.33,472.33 526.83,474.08 525.00,475.50 C523.17,476.92 521.87,478.58 521.00,479.50 C520.13,480.42 520.00,480.75 519.80,481.00 Z" fill="#ececec" stroke="#9a9a9a" stroke-width="0.6"/>
<path d="M519.80,420.00 C519.88,421.00 520.02,424.00 520.30,426.00 C520.58,428.00 520.88,429.67 521.50,432.00 C522.12,434.33 522.92,437.33 524.00,440.00 C525.08,442.67 526.75,445.67 528.00,448.00 C529.25,450.33 530.78,452.50 531.50,454.00 C532.22,455.50 532.55,455.67 532.30,457.00 C532.05,458.33 531.05,460.17 530.00,462.00 C528.95,463.83 527.17,465.67 526.00,468.00 C524.83,470.33 523.70,473.00 523.00,476.00 C522.30,479.00 522.13,482.83 521.80,486.00 C521.47,489.17 521.22,492.67 521.00,495.00 C520.78,497.33 520.68,498.33 520.50,500.00 C520.32,501.67 520.00,504.17 519.90,505.00 Z" fill="#d9c2dd" fill-opacity="0.85" stroke="#9e4aa9" stroke-width="0.7"/>
<line x1="520.1" y1="500" x2="520.1" y2="514" stroke="#c9a3cf" stroke-width="0.8"/>
<rect x="442.1" y="509.1" width="72.2" height="47.8" fill="#fff" stroke="#9a9a9a" stroke-width="0.6"/>
<text x="439.40" y="511.90" font-size="7.9" fill="#231f20" stroke="#231f20" stroke-width="0.1" text-anchor="end">0.8</text>
<text x="439.40" y="523.30" font-size="7.9" fill="#231f20" stroke="#231f20" stroke-width="0.1" text-anchor="end">0.6</text>
<text x="439.40" y="534.70" font-size="7.9" fill="#231f20" stroke="#231f20" stroke-width="0.1" text-anchor="end">0.4</text>
<text x="439.40" y="546.10" font-size="7.9" fill="#231f20" stroke="#231f20" stroke-width="0.1" text-anchor="end">0.2</text>
<text x="439.40" y="557.50" font-size="7.9" fill="#231f20" stroke="#231f20" stroke-width="0.1" text-anchor="end">0</text>
<text x="0.00" y="0.00" font-size="7.9" fill="#231f20" stroke="#231f20" stroke-width="0.1" text-anchor="middle" transform="translate(415.0,533.7) rotate(-90)">mean r.m.s.d.</text>
<text x="0.00" y="0.00" font-size="7.9" fill="#231f20" stroke="#231f20" stroke-width="0.1" text-anchor="middle" transform="translate(424.2,533.5) rotate(-90)">(nm)</text>
<path d="M464.90,519.50 C465.02,519.92 465.25,521.08 465.60,522.00 C465.95,522.92 465.93,524.13 467.00,525.00 C468.07,525.87 469.83,526.65 472.00,527.20 C474.17,527.75 477.45,528.03 480.00,528.30 C482.55,528.57 487.30,528.58 487.30,528.80 C487.30,529.02 482.55,529.30 480.00,529.60 C477.45,529.90 474.08,530.20 472.00,530.60 C469.92,531.00 468.50,531.43 467.50,532.00 C466.50,532.57 466.35,532.67 466.00,534.00 C465.65,535.33 465.53,537.67 465.40,540.00 C465.27,542.33 465.27,545.50 465.20,548.00 C465.13,550.50 465.03,553.83 465.00,555.00 L464.80,555.00 C464.77,553.83 464.67,550.50 464.60,548.00 C464.53,545.50 464.53,542.33 464.40,540.00 C464.27,537.67 464.15,535.33 463.80,534.00 C463.45,532.67 463.30,532.57 462.30,532.00 C461.30,531.43 459.88,531.00 457.80,530.60 C455.72,530.20 452.35,529.90 449.80,529.60 C447.25,529.30 442.50,529.02 442.50,528.80 C442.50,528.58 447.25,528.57 449.80,528.30 C452.35,528.03 455.63,527.75 457.80,527.20 C459.97,526.65 461.73,525.87 462.80,525.00 C463.87,524.13 463.85,522.92 464.20,522.00 C464.55,521.08 464.78,519.92 464.90,519.50 Z" fill="#c8c8c8" stroke="#888" stroke-width="0.5"/>
<path d="M501.50,516.50 C501.67,516.92 501.92,518.17 502.50,519.00 C503.08,519.83 503.92,520.67 505.00,521.50 C506.08,522.33 507.87,523.15 509.00,524.00 C510.13,524.85 511.97,525.77 511.80,526.60 C511.63,527.43 509.22,528.27 508.00,529.00 C506.78,529.73 504.92,530.17 504.50,531.00 C504.08,531.83 505.67,533.00 505.50,534.00 C505.33,535.00 504.08,536.00 503.50,537.00 C502.92,538.00 502.28,538.50 502.00,540.00 C501.72,541.50 501.87,543.50 501.80,546.00 C501.73,548.50 501.63,553.50 501.60,555.00 L501.40,555.00 C501.37,553.50 501.27,548.50 501.20,546.00 C501.13,543.50 501.28,541.50 501.00,540.00 C500.72,538.50 500.08,538.00 499.50,537.00 C498.92,536.00 497.67,535.00 497.50,534.00 C497.33,533.00 498.92,531.83 498.50,531.00 C498.08,530.17 496.22,529.73 495.00,529.00 C493.78,528.27 491.37,527.43 491.20,526.60 C491.03,525.77 492.87,524.85 494.00,524.00 C495.13,523.15 496.92,522.33 498.00,521.50 C499.08,520.67 499.92,519.83 500.50,519.00 C501.08,518.17 501.33,516.92 501.50,516.50 Z" fill="#7b2383" stroke="#5a1a60" stroke-width="0.5"/>
<line x1="464.9" y1="519.5" x2="464.9" y2="555" stroke="#555" stroke-width="0.4"/>
<line x1="501.5" y1="516.5" x2="501.5" y2="555" stroke="#555" stroke-width="0.4"/>
<path d="M464.9,514.4 L464.9,512.4 L501.5,512.4 L501.5,514.4" fill="none" stroke="#555" stroke-width="0.5"/>
<text x="483.20" y="520.70" font-size="7.9" fill="#231f20" stroke="#231f20" stroke-width="0.1" text-anchor="middle">0.05</text>
<text x="556.40" y="399.40" font-size="10.5" fill="#000" font-weight="bold">g</text>
<text x="583.10" y="403.40" font-size="7.9" fill="#8c8c8c" stroke="#8c8c8c" stroke-width="0.1">A1527 (closed)</text>
<rect x="583.1" y="407.3" width="91.5" height="76.3" fill="#fff" stroke="#8f8f8f" stroke-width="0.7"/>
<rect x="583.1" y="487.5" width="91.5" height="76.3" fill="#fff" stroke="#8f8f8f" stroke-width="0.7"/>
<text x="579.80" y="416.10" font-size="7.9" fill="#231f20" stroke="#231f20" stroke-width="0.1" text-anchor="end">3</text>
<text x="579.80" y="496.60" font-size="7.9" fill="#231f20" stroke="#231f20" stroke-width="0.1" text-anchor="end">3</text>
<text x="579.80" y="426.18" font-size="7.9" fill="#231f20" stroke="#231f20" stroke-width="0.1" text-anchor="end">2</text>
<text x="579.80" y="506.62" font-size="7.9" fill="#231f20" stroke="#231f20" stroke-width="0.1" text-anchor="end">2</text>
<text x="579.80" y="436.26" font-size="7.9" fill="#231f20" stroke="#231f20" stroke-width="0.1" text-anchor="end">1</text>
<text x="579.80" y="516.64" font-size="7.9" fill="#231f20" stroke="#231f20" stroke-width="0.1" text-anchor="end">1</text>
<text x="579.80" y="446.34" font-size="7.9" fill="#231f20" stroke="#231f20" stroke-width="0.1" text-anchor="end">0</text>
<text x="579.80" y="526.66" font-size="7.9" fill="#231f20" stroke="#231f20" stroke-width="0.1" text-anchor="end">0</text>
<text x="579.80" y="456.42" font-size="7.9" fill="#231f20" stroke="#231f20" stroke-width="0.1" text-anchor="end">−1</text>
<text x="579.80" y="536.68" font-size="7.9" fill="#231f20" stroke="#231f20" stroke-width="0.1" text-anchor="end">−1</text>
<text x="579.80" y="466.50" font-size="7.9" fill="#231f20" stroke="#231f20" stroke-width="0.1" text-anchor="end">−2</text>
<text x="579.80" y="546.70" font-size="7.9" fill="#231f20" stroke="#231f20" stroke-width="0.1" text-anchor="end">−2</text>
<text x="579.80" y="476.58" font-size="7.9" fill="#231f20" stroke="#231f20" stroke-width="0.1" text-anchor="end">−3</text>
<text x="579.80" y="556.72" font-size="7.9" fill="#231f20" stroke="#231f20" stroke-width="0.1" text-anchor="end">−3</text>
<text x="588.00" y="573.80" font-size="7.9" fill="#231f20" stroke="#231f20" stroke-width="0.1" text-anchor="middle">−4</text>
<text x="608.10" y="573.80" font-size="7.9" fill="#231f20" stroke="#231f20" stroke-width="0.1" text-anchor="middle">−2</text>
<text x="628.20" y="573.80" font-size="7.9" fill="#231f20" stroke="#231f20" stroke-width="0.1" text-anchor="middle">0</text>
<text x="648.00" y="573.80" font-size="7.9" fill="#231f20" stroke="#231f20" stroke-width="0.1" text-anchor="middle">2</text>
<text x="667.70" y="573.80" font-size="7.9" fill="#231f20" stroke="#231f20" stroke-width="0.1" text-anchor="middle">4</text>
<text x="570.70" y="584.30" font-size="7.9" fill="#231f20" stroke="#231f20" stroke-width="0.1">Projection on eigenvector 1 (nm)</text>
<text x="0.00" y="0.00" font-size="7.9" fill="#231f20" stroke="#231f20" stroke-width="0.1" text-anchor="middle" transform="translate(563.0,485.5) rotate(-90)">Projection on eigenvector 2 (nm)</text>
<defs><filter id="bl" x="-20%" y="-20%" width="140%" height="140%"><feGaussianBlur stdDeviation="0.9"/></filter><filter id="bl2" x="-20%" y="-20%" width="140%" height="140%"><feGaussianBlur stdDeviation="0.6"/></filter></defs>
<g filter="url(#bl2)"><path d="M617.70,419.30 C618.33,419.23 620.10,418.58 621.50,418.90 C622.90,419.22 625.18,420.20 626.10,421.20 C627.02,422.20 627.15,423.65 627.00,424.90 C626.85,426.15 625.20,427.60 625.20,428.70 C625.20,429.80 626.00,430.80 627.00,431.50 C628.00,432.20 630.27,432.13 631.20,432.90 C632.13,433.67 632.82,435.25 632.60,436.10 C632.38,436.95 630.52,437.07 629.90,438.00 C629.28,438.93 628.28,441.08 628.90,441.70 C629.52,442.32 632.20,442.00 633.60,441.70 C635.00,441.40 635.75,440.28 637.30,439.90 C638.85,439.52 641.03,439.40 642.90,439.40 C644.77,439.40 647.48,438.90 648.50,439.90 C649.52,440.90 649.32,443.70 649.00,445.40 C648.68,447.10 647.77,449.00 646.60,450.10 C645.43,451.20 643.55,451.85 642.00,452.00 C640.45,452.15 638.87,451.63 637.30,451.00 C635.73,450.37 634.32,448.67 632.60,448.20 C630.88,447.73 628.38,447.73 627.00,448.20 C625.62,448.67 624.92,449.75 624.30,451.00 C623.68,452.25 624.23,454.45 623.30,455.70 C622.37,456.95 620.10,458.35 618.70,458.50 C617.30,458.65 616.00,457.68 614.90,456.60 C613.80,455.52 612.72,453.87 612.10,452.00 C611.48,450.13 611.27,447.73 611.20,445.40 C611.13,443.07 610.92,439.23 611.70,438.00 C612.48,436.77 614.82,437.68 615.90,438.00 C616.98,438.32 617.27,439.90 618.20,439.90 C619.13,439.90 620.80,438.93 621.50,438.00 C622.20,437.07 622.57,435.85 622.40,434.30 C622.23,432.75 621.28,430.42 620.50,428.70 C619.72,426.98 618.17,425.57 617.70,424.00 C617.23,422.43 617.07,420.15 617.70,419.30 C618.33,418.45 620.10,418.58 621.50,418.90 C622.90,419.22 625.33,420.82 626.10,421.20 Z" fill="#c2c2c2"/><ellipse cx="613" cy="432.9" rx="1" ry="1.3" fill="#cacaca"/><ellipse cx="621.8" cy="423" rx="3" ry="3" fill="#c0c0c0"/><ellipse cx="628" cy="435" rx="3" ry="2.5" fill="#c0c0c0"/><ellipse cx="620" cy="447.5" rx="7" ry="5.5" transform="rotate(-45 620 447.5)" fill="#a8a8a8"/><ellipse cx="642" cy="446.5" rx="6" ry="4" fill="#aaaaaa"/><ellipse cx="623.6" cy="444" rx="2.8" ry="1.7" transform="rotate(-45 623.6 444)" fill="#666"/><ellipse cx="617.8" cy="450.2" rx="2" ry="2" fill="#777"/><ellipse cx="643" cy="447" rx="2.5" ry="1.6" fill="#9a9a9a"/></g>
<g filter="url(#bl2)"><path d="M613.50,496.20 C614.95,495.88 619.10,494.10 622.20,494.30 C625.30,494.50 630.03,496.05 632.10,497.40 C634.17,498.75 633.15,501.15 634.60,502.40 C636.05,503.65 638.93,504.58 640.80,504.90 C642.67,505.22 643.93,503.27 645.80,504.30 C647.67,505.33 649.93,508.93 652.00,511.10 C654.07,513.27 656.33,515.65 658.20,517.30 C660.07,518.95 662.58,519.55 663.20,521.00 C663.82,522.45 662.93,524.75 661.90,526.00 C660.87,527.25 658.23,527.47 657.00,528.50 C655.77,529.53 654.30,530.35 654.50,532.20 C654.70,534.05 657.38,537.33 658.20,539.60 C659.02,541.87 660.02,544.55 659.40,545.80 C658.78,547.05 656.15,546.47 654.50,547.10 C652.85,547.73 649.92,548.37 649.50,549.60 C649.08,550.83 652.42,553.47 652.00,554.50 C651.58,555.53 649.07,555.80 647.00,555.80 C644.93,555.80 640.83,555.75 639.60,554.50 C638.37,553.25 640.43,549.53 639.60,548.30 C638.77,547.07 636.05,547.92 634.60,547.10 C633.15,546.28 630.90,544.65 630.90,543.40 C630.90,542.15 635.02,540.43 634.60,539.60 C634.18,538.77 629.85,537.98 628.40,538.40 C626.95,538.82 626.93,540.87 625.90,542.10 C624.87,543.33 623.63,544.77 622.20,545.80 C620.77,546.83 619.37,548.08 617.30,548.30 C615.23,548.52 611.67,548.13 609.80,547.10 C607.93,546.07 606.10,543.55 606.10,542.10 C606.10,540.65 610.22,539.23 609.80,538.40 C609.38,537.57 606.08,537.72 603.60,537.10 C601.12,536.48 597.17,536.35 594.90,534.70 C592.63,533.05 590.93,529.48 590.00,527.20 C589.07,524.92 588.68,522.65 589.30,521.00 C589.92,519.35 591.32,518.33 593.70,517.30 C596.08,516.27 600.92,515.63 603.60,514.80 C606.28,513.97 607.73,512.92 609.80,512.30 C611.87,511.68 615.17,512.13 616.00,511.10 C616.83,510.07 615.22,507.97 614.80,506.10 C614.38,504.23 613.72,501.55 613.50,499.90 C613.28,498.25 612.05,497.13 613.50,496.20 C614.95,495.27 619.10,494.10 622.20,494.30 C625.30,494.50 630.45,496.88 632.10,497.40 Z" fill="#e2b3e4"/><path d="M601.00,515.00 C602.50,514.58 607.17,512.50 610.00,512.50 C612.83,512.50 615.33,514.75 618.00,515.00 C620.67,515.25 623.33,514.67 626.00,514.00 C628.67,513.33 631.33,511.67 634.00,511.00 C636.67,510.33 639.33,509.33 642.00,510.00 C644.67,510.67 648.33,513.00 650.00,515.00 C651.67,517.00 652.17,519.83 652.00,522.00 C651.83,524.17 650.67,526.50 649.00,528.00 C647.33,529.50 644.67,530.67 642.00,531.00 C639.33,531.33 635.67,530.50 633.00,530.00 C630.33,529.50 628.17,527.83 626.00,528.00 C623.83,528.17 622.00,529.83 620.00,531.00 C618.00,532.17 616.33,534.50 614.00,535.00 C611.67,535.50 608.33,535.17 606.00,534.00 C603.67,532.83 601.17,530.17 600.00,528.00 C598.83,525.83 598.83,523.17 599.00,521.00 C599.17,518.83 599.17,516.42 601.00,515.00 C602.83,513.58 607.17,512.50 610.00,512.50 C612.83,512.50 616.67,514.58 618.00,515.00 Z" fill="#d98ddc"/><ellipse cx="622" cy="497.5" rx="3" ry="2" fill="#d98ddc"/><ellipse cx="594" cy="524" rx="2.5" ry="2" fill="#d98ddc"/><ellipse cx="604" cy="533" rx="1.8" ry="1.5" fill="#d98ddc"/><path d="M599,519 C603,512 613,510 619,515 C625,519 631,515 638,514 C646,512 653,517 652,525 C651,532 643,535 636,532 C630,529 624,529 618,533 C612,537 603,534 600,528 Z" fill="#d680da"/><path d="M603,528 C606,530 610,531 612,529 L610,535 C606,535 603,532 603,528 Z" fill="#d98ddc"/><ellipse cx="611.7" cy="521" rx="1.9" ry="3.9" transform="rotate(-12 611.7 521)" fill="#8b3c8f"/><ellipse cx="625.5" cy="520" rx="1.3" ry="1" fill="#a24aa6"/><path d="M636,528 C640,527 643,524 643.5,519 C646,521 646,526 644,528.5 C641,530 638,529.5 636,528 Z" fill="#8b3c8f"/><path d="M629.7,538.4 C636,536 645,536 653.2,539.6 C652,543 648,545 645,546 C641,547 636,546.5 632,543 Z" fill="#fff"/><ellipse cx="654.5" cy="529.7" rx="1.8" ry="1.2" fill="#fff"/></g>
<text x="584.50" y="560.80" font-size="7.9" fill="#c23fd0" stroke="#c23fd0" stroke-width="0.1">G1527 (closed)</text>
<text x="-0.30" y="398.70" font-size="10.5" fill="#000" font-weight="bold">e</text>
<text x="7.70" y="418.10" font-size="7.9" fill="#7f7f7f" stroke="#7f7f7f" stroke-width="0.1">ABCA7</text>
<text x="7.70" y="427.40" font-size="7.9" fill="#7f7f7f" stroke="#7f7f7f" stroke-width="0.1">(closed)</text>
<g filter="url(#pb)">
<defs><filter id="pb" x="-5%" y="-5%" width="110%" height="110%"><feGaussianBlur stdDeviation="0.3"/></filter></defs>
<path d="M58.9,459.2Q57.1,462.4 55.4,464.2Q55.7,462.5 58.6,464.5Q55.7,463.8 53.5,467.3Q55.3,464.7 58.1,464.6M75.2,439.4Q74.5,436.5 76.4,436.6Q73.3,437.3 74.3,432.3Q74.2,428.7 79.8,428.6Q78.1,430.8 82.2,432.0M50.1,435.1Q49.5,439.8 51.7,440.9Q51.0,443.2 56.2,446.0Q61.0,445.6 62.0,444.7Q60.8,442.2 65.2,444.6M54.5,417.1Q59.1,418.3 60.0,418.7Q63.4,423.0 61.7,422.4Q62.8,417.2 65.6,417.5Q63.1,417.4 66.1,421.1M64.6,416.6Q67.2,415.7 68.2,414.8Q71.3,415.1 69.2,420.1Q68.8,418.5 73.3,418.3Q72.6,418.1 73.4,423.8M84.4,407.6Q84.3,409.3 84.1,411.8Q86.4,408.3 87.7,406.0Q88.0,406.0 93.6,409.6Q92.3,410.0 93.0,412.1M86.9,464.8Q85.3,464.7 85.8,469.6Q88.3,473.4 86.1,471.6Q89.0,474.3 89.3,474.7Q90.2,475.0 92.5,480.4M59.6,415.1Q56.1,416.6 57.9,418.8Q57.2,415.8 61.7,416.0Q57.2,416.0 56.7,419.6Q59.2,424.0 60.5,423.4M52.4,465.6Q54.8,465.4 53.2,463.2Q56.6,460.7 59.1,458.5Q57.2,457.3 60.9,455.4Q59.9,457.3 59.3,460.2M75.3,435.8Q78.1,435.8 80.9,439.3Q83.0,443.8 82.1,442.3Q80.0,440.8 78.7,441.4Q78.2,439.9 77.1,441.1M55.4,420.5Q54.3,420.0 51.0,418.3Q54.3,419.6 57.0,419.1Q58.9,420.4 59.7,420.5Q59.5,421.0 58.0,423.8M59.8,404.8Q56.9,399.3 58.0,399.0Q57.2,399.7 55.3,397.2Q58.4,396.5 56.8,393.1Q56.9,392.0 56.8,394.8M75.7,467.2Q75.0,467.9 78.9,463.4Q82.9,462.7 83.8,466.4Q83.6,464.0 87.6,462.7Q82.5,466.2 81.6,466.8M73.3,452.4Q73.2,455.1 74.5,457.9Q72.3,461.2 72.6,460.8Q69.7,457.0 67.6,457.7Q65.1,458.0 64.0,461.8M83.8,439.1Q85.9,440.0 85.4,443.8Q83.8,445.9 79.6,444.4Q80.3,443.7 75.9,446.0Q75.0,448.5 73.4,445.1M73.5,460.4Q73.3,459.3 75.4,460.1Q74.9,456.4 78.7,456.2Q78.0,454.4 80.8,454.6Q80.1,453.9 75.7,453.9M67.9,401.9Q63.9,401.5 65.2,396.8Q64.3,397.9 67.8,400.7Q72.8,403.1 72.8,399.9Q70.3,398.6 66.8,399.1M65.0,424.2Q64.8,424.3 61.8,418.5Q59.3,417.8 56.3,422.8Q51.3,421.7 51.1,423.1Q49.6,424.7 48.4,428.8" fill="none" stroke="#7a7a7a" stroke-width="0.5"/>
<path d="M49.1,474.5Q52.8,472.0 51.7,470.2Q54.4,473.1 55.2,472.8Q56.9,470.2 58.9,472.4Q56.5,476.2 57.4,477.0M42.9,440.6Q47.4,440.9 46.1,442.5Q46.9,442.9 49.2,446.7Q46.9,449.7 47.6,448.5Q45.3,450.1 45.1,451.7M46.1,453.4Q46.6,449.8 47.6,451.5Q46.5,449.2 47.8,450.9Q46.0,451.5 45.9,448.4Q47.8,453.3 50.6,453.4M32.6,475.9Q30.9,477.5 28.1,478.9Q31.6,480.0 31.2,482.9Q27.7,485.4 29.8,484.1Q31.1,486.5 30.8,483.4M42.8,460.9Q40.4,466.1 39.3,466.5Q41.6,464.9 39.3,468.6Q35.3,465.7 36.8,464.7Q37.0,465.9 41.8,461.8M28.2,452.8Q27.7,452.9 30.4,456.6Q32.5,456.8 29.5,460.7Q32.9,459.2 31.8,460.1Q32.7,455.2 29.0,454.3M18.1,442.8Q19.6,441.4 23.2,437.8Q20.7,435.4 19.1,438.8Q18.1,440.7 20.4,436.9Q21.4,433.7 24.5,436.3M39.2,443.7Q40.8,442.4 39.4,445.2Q34.2,446.3 34.5,448.5Q29.8,448.8 28.9,445.0Q30.9,443.4 31.8,441.9M9.3,447.7Q9.2,444.7 12.3,443.3Q8.7,445.8 6.3,446.6Q7.5,447.6 6.7,449.9Q1.4,446.9 2.1,449.0M44.0,454.7Q45.9,457.5 47.5,457.6Q48.7,462.7 52.8,463.0Q52.1,461.7 52.4,459.5Q55.1,463.8 57.1,464.3M29.9,436.2Q31.0,438.4 29.1,438.6Q29.0,437.9 23.1,440.8Q26.0,441.6 25.7,437.1Q22.7,441.4 22.2,441.1M6.5,465.2Q2.7,466.3 3.1,463.6Q0.5,461.4 -0.5,461.9Q-1.7,465.0 -3.8,464.9Q-8.4,462.7 -7.9,465.4M25.3,458.1Q24.1,457.7 27.9,458.9Q31.8,461.5 30.8,464.3Q34.1,464.4 36.0,461.3Q31.9,457.1 30.0,456.3M13.2,456.3Q15.2,455.1 14.9,456.1Q12.4,453.8 13.3,451.7Q17.5,454.2 17.2,451.4Q15.9,454.2 20.5,454.7M6.6,465.2Q8.7,460.8 5.7,460.2Q11.0,462.7 11.2,463.6Q10.1,466.2 9.5,466.0Q10.2,462.9 14.9,460.7M6.3,447.8Q3.1,446.7 5.4,443.9Q3.3,447.5 2.2,446.3Q-0.3,449.3 -0.2,446.8Q-2.4,449.0 -2.9,448.9M34.1,466.0Q34.6,463.7 35.6,465.5Q35.9,464.4 31.1,461.3Q31.8,459.1 35.9,462.7Q37.9,463.0 36.3,468.4M22.1,437.9Q19.7,439.0 19.3,440.0Q17.4,440.0 16.8,438.9Q12.1,439.2 11.8,444.8Q11.3,442.5 16.7,443.2" fill="none" stroke="#7a7a7a" stroke-width="0.5"/>
<path d="M71.8,572.2Q72.5,576.6 73.6,576.1Q74.2,576.3 70.8,576.0Q71.4,575.2 67.7,574.0Q64.6,576.2 65.8,575.5M38.9,561.8Q36.1,566.1 37.1,566.1Q36.0,562.7 39.0,562.2Q40.4,563.6 38.4,567.6Q39.9,566.1 38.1,562.1M59.5,565.7Q57.6,566.6 54.4,566.0Q55.3,564.6 59.2,564.0Q61.4,566.2 60.6,568.2Q59.2,569.2 59.3,571.2M13.4,561.4Q9.1,561.4 9.8,567.0Q8.6,567.7 10.0,572.8Q8.3,568.9 5.1,566.8Q7.3,562.5 8.9,563.5M35.9,579.7Q39.1,578.6 37.1,579.3Q35.1,580.8 32.0,578.8Q33.5,579.7 30.4,579.0Q29.5,583.6 27.7,584.2M71.7,568.9Q68.2,570.8 69.3,570.7Q69.1,568.4 69.6,568.6Q69.3,565.3 69.2,567.7Q64.9,568.7 64.5,572.0M63.5,555.7Q62.5,553.4 62.3,550.2Q60.0,548.8 61.6,548.7Q56.0,545.4 56.2,546.1Q53.8,547.1 51.0,551.3M57.5,550.1Q57.8,552.6 59.3,550.2Q59.1,552.2 61.5,555.6Q61.2,553.9 63.6,557.1Q62.6,557.3 67.5,555.2M36.5,571.7Q36.7,570.9 31.9,568.8Q32.4,569.0 30.8,573.0Q32.0,576.5 28.0,577.6Q29.2,582.7 28.4,582.5M64.2,548.0Q65.5,546.6 68.7,548.4Q64.6,547.8 66.0,548.9Q64.5,545.6 63.0,544.1Q63.2,541.7 67.6,544.4M54.1,573.9Q55.4,575.0 53.0,574.3Q51.6,574.7 54.3,579.0Q59.8,581.0 59.6,582.7Q59.9,584.9 58.7,588.1M44.1,560.0Q42.3,559.1 38.9,555.9Q39.1,557.5 43.5,556.8Q39.7,555.6 39.4,557.2Q43.1,555.4 43.9,557.8M45.0,556.1Q49.8,558.6 50.7,558.9Q49.5,561.8 45.5,562.3Q45.1,560.4 44.7,559.6Q43.3,559.2 39.9,562.9M57.4,581.7Q60.4,579.9 57.8,576.2Q57.3,577.2 57.5,581.7Q52.4,585.2 51.6,585.2Q46.2,587.3 46.5,586.8M13.0,579.2Q16.1,581.5 14.1,582.8Q15.5,587.1 14.7,587.9Q15.1,588.7 14.8,593.8Q9.6,596.4 9.3,597.9M48.9,575.5Q46.2,571.2 47.4,571.5Q47.0,567.3 47.6,566.3Q47.2,569.1 43.3,569.1Q44.0,569.8 42.0,568.8M51.5,549.0Q51.8,548.6 48.6,549.6Q48.1,554.3 49.3,555.5Q49.9,552.2 50.3,554.2Q48.3,557.0 51.4,558.1M15.8,543.2Q14.7,542.5 17.3,543.6Q16.1,547.5 12.7,545.9Q15.6,548.9 14.9,550.9Q13.2,549.1 15.4,546.1M40.1,543.4Q39.3,540.3 43.8,541.9Q41.4,540.2 38.5,538.5Q36.5,537.0 34.9,534.0Q37.3,536.1 34.7,534.1M67.3,556.2Q67.4,554.9 68.2,558.9Q68.0,562.9 70.2,563.4Q68.6,561.3 72.7,565.1Q70.5,568.1 72.9,565.5M29.6,573.0Q31.0,575.6 28.6,572.5Q26.7,574.1 23.1,575.3Q21.0,577.9 21.7,575.3Q20.7,573.0 17.3,571.2M59.0,566.2Q61.5,563.0 61.6,561.9Q64.7,563.1 63.9,560.1Q64.2,557.9 65.5,557.3Q64.3,554.4 61.7,552.1" fill="none" stroke="#8a8a8a" stroke-width="0.5"/>
<path d="M17.2,514.5Q15.5,514.5 18.4,514.8Q16.9,515.5 18.5,510.3Q21.3,514.0 24.2,515.0Q23.0,513.4 19.4,514.1M42.8,524.1Q42.3,519.8 40.2,518.6Q43.9,516.4 43.2,519.4Q44.8,523.5 42.5,523.7Q40.6,523.8 37.5,523.4M15.4,522.6Q14.7,520.6 18.3,522.6Q16.6,523.9 12.4,523.2Q13.8,523.0 12.7,522.2Q16.1,516.9 13.8,517.4M36.7,519.3Q38.9,522.0 35.6,521.9Q38.0,518.5 39.1,518.5Q39.3,518.9 40.8,522.7Q42.0,524.2 45.6,519.9M46.2,526.9Q43.5,528.2 41.7,530.3Q38.6,528.0 39.1,527.8Q36.5,530.1 33.8,526.6Q30.5,526.6 30.1,528.9M45.8,510.2Q48.1,515.1 49.9,515.8Q50.1,515.2 55.0,514.9Q56.5,514.3 52.6,519.2Q52.2,515.0 52.1,515.8" fill="none" stroke="#8a8a8a" stroke-width="0.5"/>
<path d="M63.5,447.4L66.4,452.7M59.9,420.4L63.9,431.1M55.6,458.7L56.0,465.0M71.4,402.6L70.6,410.5M62.1,440.7L58.9,455.1M55.2,442.8L66.0,452.2M57.9,451.9L60.2,458.5M56.9,415.2L62.4,420.0M52.2,412.1L60.0,419.7M48.9,435.4L57.7,445.0M76.2,423.9L77.6,430.2M82.7,422.1L80.7,429.5M78.5,443.1L80.1,457.8M59.4,409.2L64.6,423.3M76.5,439.2L74.5,446.1M72.8,422.5L70.9,430.7M84.3,415.3L85.9,430.3M56.5,454.9L58.7,466.1M54.2,411.3L50.5,422.6M62.4,454.2L65.0,467.4M52.3,445.7L61.1,453.3M63.7,436.9L72.7,448.0M48.9,426.5L51.1,438.4M63.0,430.6L63.7,444.0M56.7,438.5L53.9,449.4M59.3,434.8L54.9,449.7M62.6,426.5L65.0,438.3M86.5,424.8L85.3,436.2M67.6,437.9L68.5,444.0M80.5,412.3L83.0,427.0M79.7,438.8L82.0,445.0M72.6,445.0L71.9,459.5M82.2,414.2L86.2,426.2M28.3,444.4L30.7,454.3M33.7,438.4L32.2,447.0M10.3,449.6L7.2,456.8M26.7,466.1L26.7,472.9M10.9,440.3L15.2,450.0M28.1,448.2L24.2,457.3M45.9,438.9L47.1,450.5M41.3,446.5L40.3,462.0M17.2,465.7L23.4,473.7M22.5,448.3L25.6,457.1M40.5,460.3L46.7,467.9M16.2,453.5L14.8,459.6M27.2,443.6L26.5,453.1M8.7,440.3L6.6,446.4M14.1,442.4L11.3,454.5M47.9,462.9L44.3,469.3M44.2,451.2L39.7,458.0M30.2,450.8L27.8,464.8M33.1,446.5L30.0,457.5M31.4,439.1L35.6,445.8M34.8,454.4L43.3,465.5M36.6,429.2L37.9,435.4M44.1,443.3L47.6,455.0M49.3,445.9L50.1,454.0M25.9,450.9L28.8,456.6M37.4,459.2L37.4,473.0M21.8,445.7L15.4,457.5M40.3,444.7L48.6,454.9M12.8,439.4L11.3,454.6M35.0,447.4L39.2,457.7M24.7,448.4L21.1,462.8M22.6,449.6L16.3,462.2M36.9,464.6L40.2,470.1M36.4,456.3L39.6,469.6M32.9,510.0L32.8,528.6M21.1,505.7L25.0,528.8M23.0,491.3L21.7,509.8M17.8,495.6L19.5,522.1M35.6,499.9L37.5,519.5M29.7,481.9L30.0,500.6M34.0,482.9L34.3,501.4M20.2,499.2L20.3,514.6M39.3,509.3L37.6,534.3M36.3,484.2L37.8,507.3M37.8,502.8L38.0,528.4M48.1,506.3L46.5,528.9M45.1,509.5L41.5,533.8M25.3,500.9L27.1,517.9M17.7,490.9L14.8,519.6M28.1,479.6L30.6,496.3M20.4,508.6L20.6,533.0M43.8,475.8L42.5,493.9M56.5,550.9L72.7,543.5M37.8,575.0L47.3,578.1M15.7,567.5L23.8,566.7M74.4,544.6L83.1,545.4M61.4,554.8L73.8,559.7M8.4,544.1L21.8,544.4M33.8,569.1L45.7,570.4M14.6,554.5L27.5,556.6M44.2,569.5L61.0,567.5M17.5,560.1L26.7,563.6M67.2,558.4L84.2,557.0M45.8,579.3L62.3,580.7M49.0,546.2L63.4,551.4M50.3,541.5L63.1,537.3M32.5,577.3L40.5,574.5M41.0,565.8L57.4,565.6M41.9,586.4L55.9,582.0M73.8,554.3L83.7,554.1M52.7,559.1L63.3,558.3M50.8,539.1L66.0,541.5M28.5,541.3L41.9,536.8M64.4,559.7L81.1,554.8M38.0,572.5L52.2,578.8M44.4,537.5L58.9,538.0M34.5,548.4L51.6,551.9M22.4,558.2L38.0,556.2M61.6,565.1L71.4,564.3M68.1,538.6L83.9,542.6M29.0,557.4L40.1,560.8M69.4,540.3L78.3,540.7M23.0,552.7L32.1,551.7M45.0,584.5L57.4,585.9M67.1,555.8L83.5,551.1M59.9,550.7L76.0,555.9M17.2,539.9L33.6,537.6M22.6,543.8L34.8,541.0M14.3,563.6L31.7,561.6M47.8,585.9L65.0,586.1M41.6,570.6L51.4,570.0M50.0,551.6L59.0,549.5M21.6,554.7L29.7,557.2M49.3,570.7L58.0,567.4M13.7,556.3L26.5,550.8M51.3,549.5L63.2,546.3M69.0,397.5L86.0,409.0M87.0,413.0L81.0,444.0M81.0,446.0L75.0,467.0M3.0,455.0L9.0,446.0M9.0,444.0L16.0,438.0" fill="none" stroke="#a6a6a6" stroke-width="3.4" stroke-linecap="round"/>
<path d="M63.5,447.4L66.4,452.7M59.9,420.4L63.9,431.1M55.6,458.7L56.0,465.0M71.4,402.6L70.6,410.5M62.1,440.7L58.9,455.1M55.2,442.8L66.0,452.2M57.9,451.9L60.2,458.5M56.9,415.2L62.4,420.0M52.2,412.1L60.0,419.7M48.9,435.4L57.7,445.0M76.2,423.9L77.6,430.2M82.7,422.1L80.7,429.5M78.5,443.1L80.1,457.8M59.4,409.2L64.6,423.3M76.5,439.2L74.5,446.1M72.8,422.5L70.9,430.7M84.3,415.3L85.9,430.3M56.5,454.9L58.7,466.1M54.2,411.3L50.5,422.6M62.4,454.2L65.0,467.4M52.3,445.7L61.1,453.3M63.7,436.9L72.7,448.0M48.9,426.5L51.1,438.4M63.0,430.6L63.7,444.0M56.7,438.5L53.9,449.4M59.3,434.8L54.9,449.7M62.6,426.5L65.0,438.3M86.5,424.8L85.3,436.2M67.6,437.9L68.5,444.0M80.5,412.3L83.0,427.0M79.7,438.8L82.0,445.0M72.6,445.0L71.9,459.5M82.2,414.2L86.2,426.2M28.3,444.4L30.7,454.3M33.7,438.4L32.2,447.0M10.3,449.6L7.2,456.8M26.7,466.1L26.7,472.9M10.9,440.3L15.2,450.0M28.1,448.2L24.2,457.3M45.9,438.9L47.1,450.5M41.3,446.5L40.3,462.0M17.2,465.7L23.4,473.7M22.5,448.3L25.6,457.1M40.5,460.3L46.7,467.9M16.2,453.5L14.8,459.6M27.2,443.6L26.5,453.1M8.7,440.3L6.6,446.4M14.1,442.4L11.3,454.5M47.9,462.9L44.3,469.3M44.2,451.2L39.7,458.0M30.2,450.8L27.8,464.8M33.1,446.5L30.0,457.5M31.4,439.1L35.6,445.8M34.8,454.4L43.3,465.5M36.6,429.2L37.9,435.4M44.1,443.3L47.6,455.0M49.3,445.9L50.1,454.0M25.9,450.9L28.8,456.6M37.4,459.2L37.4,473.0M21.8,445.7L15.4,457.5M40.3,444.7L48.6,454.9M12.8,439.4L11.3,454.6M35.0,447.4L39.2,457.7M24.7,448.4L21.1,462.8M22.6,449.6L16.3,462.2M36.9,464.6L40.2,470.1M36.4,456.3L39.6,469.6M32.9,510.0L32.8,528.6M21.1,505.7L25.0,528.8M23.0,491.3L21.7,509.8M17.8,495.6L19.5,522.1M35.6,499.9L37.5,519.5M29.7,481.9L30.0,500.6M34.0,482.9L34.3,501.4M20.2,499.2L20.3,514.6M39.3,509.3L37.6,534.3M36.3,484.2L37.8,507.3M37.8,502.8L38.0,528.4M48.1,506.3L46.5,528.9M45.1,509.5L41.5,533.8M25.3,500.9L27.1,517.9M17.7,490.9L14.8,519.6M28.1,479.6L30.6,496.3M20.4,508.6L20.6,533.0M43.8,475.8L42.5,493.9M56.5,550.9L72.7,543.5M37.8,575.0L47.3,578.1M15.7,567.5L23.8,566.7M74.4,544.6L83.1,545.4M61.4,554.8L73.8,559.7M8.4,544.1L21.8,544.4M33.8,569.1L45.7,570.4M14.6,554.5L27.5,556.6M44.2,569.5L61.0,567.5M17.5,560.1L26.7,563.6M67.2,558.4L84.2,557.0M45.8,579.3L62.3,580.7M49.0,546.2L63.4,551.4M50.3,541.5L63.1,537.3M32.5,577.3L40.5,574.5M41.0,565.8L57.4,565.6M41.9,586.4L55.9,582.0M73.8,554.3L83.7,554.1M52.7,559.1L63.3,558.3M50.8,539.1L66.0,541.5M28.5,541.3L41.9,536.8M64.4,559.7L81.1,554.8M38.0,572.5L52.2,578.8M44.4,537.5L58.9,538.0M34.5,548.4L51.6,551.9M22.4,558.2L38.0,556.2M61.6,565.1L71.4,564.3M68.1,538.6L83.9,542.6M29.0,557.4L40.1,560.8M69.4,540.3L78.3,540.7M23.0,552.7L32.1,551.7M45.0,584.5L57.4,585.9M67.1,555.8L83.5,551.1M59.9,550.7L76.0,555.9M17.2,539.9L33.6,537.6M22.6,543.8L34.8,541.0M14.3,563.6L31.7,561.6M47.8,585.9L65.0,586.1M41.6,570.6L51.4,570.0M50.0,551.6L59.0,549.5M21.6,554.7L29.7,557.2M49.3,570.7L58.0,567.4M13.7,556.3L26.5,550.8M51.3,549.5L63.2,546.3M69.0,397.5L86.0,409.0M87.0,413.0L81.0,444.0M81.0,446.0L75.0,467.0M3.0,455.0L9.0,446.0M9.0,444.0L16.0,438.0" fill="none" stroke="#6c6c6c" stroke-width="3.4" stroke-dasharray="1.3,2.2"/>
<path d="M63.5,447.4L66.4,452.7M59.9,420.4L63.9,431.1M55.6,458.7L56.0,465.0M71.4,402.6L70.6,410.5M62.1,440.7L58.9,455.1M55.2,442.8L66.0,452.2M57.9,451.9L60.2,458.5M56.9,415.2L62.4,420.0M52.2,412.1L60.0,419.7M48.9,435.4L57.7,445.0M76.2,423.9L77.6,430.2M82.7,422.1L80.7,429.5M78.5,443.1L80.1,457.8M59.4,409.2L64.6,423.3M76.5,439.2L74.5,446.1M72.8,422.5L70.9,430.7M84.3,415.3L85.9,430.3M56.5,454.9L58.7,466.1M54.2,411.3L50.5,422.6M62.4,454.2L65.0,467.4M52.3,445.7L61.1,453.3M63.7,436.9L72.7,448.0M48.9,426.5L51.1,438.4M63.0,430.6L63.7,444.0M56.7,438.5L53.9,449.4M59.3,434.8L54.9,449.7M62.6,426.5L65.0,438.3M86.5,424.8L85.3,436.2M67.6,437.9L68.5,444.0M80.5,412.3L83.0,427.0M79.7,438.8L82.0,445.0M72.6,445.0L71.9,459.5M82.2,414.2L86.2,426.2M28.3,444.4L30.7,454.3M33.7,438.4L32.2,447.0M10.3,449.6L7.2,456.8M26.7,466.1L26.7,472.9M10.9,440.3L15.2,450.0M28.1,448.2L24.2,457.3M45.9,438.9L47.1,450.5M41.3,446.5L40.3,462.0M17.2,465.7L23.4,473.7M22.5,448.3L25.6,457.1M40.5,460.3L46.7,467.9M16.2,453.5L14.8,459.6M27.2,443.6L26.5,453.1M8.7,440.3L6.6,446.4M14.1,442.4L11.3,454.5M47.9,462.9L44.3,469.3M44.2,451.2L39.7,458.0M30.2,450.8L27.8,464.8M33.1,446.5L30.0,457.5M31.4,439.1L35.6,445.8M34.8,454.4L43.3,465.5M36.6,429.2L37.9,435.4M44.1,443.3L47.6,455.0M49.3,445.9L50.1,454.0M25.9,450.9L28.8,456.6M37.4,459.2L37.4,473.0M21.8,445.7L15.4,457.5M40.3,444.7L48.6,454.9M12.8,439.4L11.3,454.6M35.0,447.4L39.2,457.7M24.7,448.4L21.1,462.8M22.6,449.6L16.3,462.2M36.9,464.6L40.2,470.1M36.4,456.3L39.6,469.6M32.9,510.0L32.8,528.6M21.1,505.7L25.0,528.8M23.0,491.3L21.7,509.8M17.8,495.6L19.5,522.1M35.6,499.9L37.5,519.5M29.7,481.9L30.0,500.6M34.0,482.9L34.3,501.4M20.2,499.2L20.3,514.6M39.3,509.3L37.6,534.3M36.3,484.2L37.8,507.3M37.8,502.8L38.0,528.4M48.1,506.3L46.5,528.9M45.1,509.5L41.5,533.8M25.3,500.9L27.1,517.9M17.7,490.9L14.8,519.6M28.1,479.6L30.6,496.3M20.4,508.6L20.6,533.0M43.8,475.8L42.5,493.9M56.5,550.9L72.7,543.5M37.8,575.0L47.3,578.1M15.7,567.5L23.8,566.7M74.4,544.6L83.1,545.4M61.4,554.8L73.8,559.7M8.4,544.1L21.8,544.4M33.8,569.1L45.7,570.4M14.6,554.5L27.5,556.6M44.2,569.5L61.0,567.5M17.5,560.1L26.7,563.6M67.2,558.4L84.2,557.0M45.8,579.3L62.3,580.7M49.0,546.2L63.4,551.4M50.3,541.5L63.1,537.3M32.5,577.3L40.5,574.5M41.0,565.8L57.4,565.6M41.9,586.4L55.9,582.0M73.8,554.3L83.7,554.1M52.7,559.1L63.3,558.3M50.8,539.1L66.0,541.5M28.5,541.3L41.9,536.8M64.4,559.7L81.1,554.8M38.0,572.5L52.2,578.8M44.4,537.5L58.9,538.0M34.5,548.4L51.6,551.9M22.4,558.2L38.0,556.2M61.6,565.1L71.4,564.3M68.1,538.6L83.9,542.6M29.0,557.4L40.1,560.8M69.4,540.3L78.3,540.7M23.0,552.7L32.1,551.7M45.0,584.5L57.4,585.9M67.1,555.8L83.5,551.1M59.9,550.7L76.0,555.9M17.2,539.9L33.6,537.6M22.6,543.8L34.8,541.0M14.3,563.6L31.7,561.6M47.8,585.9L65.0,586.1M41.6,570.6L51.4,570.0M50.0,551.6L59.0,549.5M21.6,554.7L29.7,557.2M49.3,570.7L58.0,567.4M13.7,556.3L26.5,550.8M51.3,549.5L63.2,546.3M69.0,397.5L86.0,409.0M87.0,413.0L81.0,444.0M81.0,446.0L75.0,467.0M3.0,455.0L9.0,446.0M9.0,444.0L16.0,438.0" fill="none" stroke="#eeeeee" stroke-width="0.85" stroke-dasharray="0.8,2.7" stroke-dashoffset="-1.6"/>
<path d="M52,478 C55,472 60,470 64,474 M70,476 C72,471 76,470 78,474" fill="none" stroke="#e8e000" stroke-width="0.8"/>
<path d="M51.0,484.0L52.0,534.0M57.5,475.0L59.0,543.0M64.0,488.0L65.0,530.0M70.5,476.0L71.5,545.0M76.5,484.0L77.0,534.0M56.0,538.0L62.0,546.0M68.0,538.0L76.0,543.0" fill="none" stroke="#f2ee55" stroke-width="4.3" stroke-linecap="round"/>
<path d="M51.0,484.0L52.0,534.0M57.5,475.0L59.0,543.0M64.0,488.0L65.0,530.0M70.5,476.0L71.5,545.0M76.5,484.0L77.0,534.0M56.0,538.0L62.0,546.0M68.0,538.0L76.0,543.0" fill="none" stroke="#c4bc00" stroke-width="4.3" stroke-dasharray="1.4,2.4"/>
<path d="M51.0,484.0L52.0,534.0M57.5,475.0L59.0,543.0M64.0,488.0L65.0,530.0M70.5,476.0L71.5,545.0M76.5,484.0L77.0,534.0M56.0,538.0L62.0,546.0M68.0,538.0L76.0,543.0" fill="none" stroke="#fdfcd0" stroke-width="1.07" stroke-dasharray="0.8,2.7" stroke-dashoffset="-1.6"/>
</g>
<line x1="76" y1="478.4" x2="101" y2="461.3" stroke="#5a5a00" stroke-width="1.3"/>
<line x1="76" y1="478.4" x2="101" y2="461.3" stroke="#e8df00" stroke-width="0.8"/>
<path d="M104.2,459.2 L97.6,460.5 L100.6,464.9 Z" fill="#e8df00" stroke="#5a5a00" stroke-width="0.4"/>
<g fill="#e07810" stroke="#8a4200" stroke-width="0.3"><circle cx="48.2" cy="488.7" r="1.45"/><circle cx="24.8" cy="485.7" r="1.45"/><circle cx="78.9" cy="488.8" r="1.45"/><circle cx="90.9" cy="491.7" r="1.45"/><circle cx="66.8" cy="491.5" r="1.45"/><circle cx="89.3" cy="489.1" r="1.45"/><circle cx="47.2" cy="487.1" r="1.45"/><circle cx="87.1" cy="494.3" r="1.45"/><circle cx="70.3" cy="489.5" r="1.45"/><circle cx="86.5" cy="493.0" r="1.45"/><circle cx="45.2" cy="491.4" r="1.45"/><circle cx="79.5" cy="490.9" r="1.45"/><circle cx="92.1" cy="495.4" r="1.45"/><circle cx="101.3" cy="495.8" r="1.45"/><circle cx="39.3" cy="489.6" r="1.45"/><circle cx="95.3" cy="494.6" r="1.45"/><circle cx="105.3" cy="493.8" r="1.45"/><circle cx="37.2" cy="487.9" r="1.45"/><circle cx="54.3" cy="490.9" r="1.45"/><circle cx="53.2" cy="488.9" r="1.45"/><circle cx="65.7" cy="490.3" r="1.45"/><circle cx="65.1" cy="486.2" r="1.45"/><circle cx="104.1" cy="493.1" r="1.45"/><circle cx="56.7" cy="489.6" r="1.45"/><circle cx="29.7" cy="490.9" r="1.45"/><circle cx="90.0" cy="496.0" r="1.45"/><circle cx="70.3" cy="491.0" r="1.45"/><circle cx="93.3" cy="494.8" r="1.45"/><circle cx="64.4" cy="494.7" r="1.45"/><circle cx="88.8" cy="497.8" r="1.45"/><circle cx="60.4" cy="491.3" r="1.45"/><circle cx="98.3" cy="489.9" r="1.45"/><circle cx="32.0" cy="486.9" r="1.45"/><circle cx="32.8" cy="484.9" r="1.45"/><circle cx="86.6" cy="491.0" r="1.45"/><circle cx="100.8" cy="496.1" r="1.45"/><circle cx="98.5" cy="493.4" r="1.45"/><circle cx="103.4" cy="494.9" r="1.45"/><circle cx="86.6" cy="491.4" r="1.45"/><circle cx="101.7" cy="495.0" r="1.45"/><circle cx="88.7" cy="494.1" r="1.45"/><circle cx="32.3" cy="488.3" r="1.45"/><circle cx="55.2" cy="492.5" r="1.45"/><circle cx="92.0" cy="492.4" r="1.45"/><circle cx="52.2" cy="484.9" r="1.45"/><circle cx="42.8" cy="493.1" r="1.45"/><circle cx="32.1" cy="492.6" r="1.45"/><circle cx="82.0" cy="492.0" r="1.45"/><circle cx="89.9" cy="490.9" r="1.45"/><circle cx="33.0" cy="492.1" r="1.45"/><circle cx="66.9" cy="489.8" r="1.45"/><circle cx="99.5" cy="492.2" r="1.45"/><circle cx="73.2" cy="490.7" r="1.45"/><circle cx="29.9" cy="491.0" r="1.45"/><circle cx="44.3" cy="490.3" r="1.45"/><circle cx="74.2" cy="491.3" r="1.45"/><circle cx="99.3" cy="491.5" r="1.45"/><circle cx="35.8" cy="489.7" r="1.45"/><circle cx="78.1" cy="491.7" r="1.45"/><circle cx="89.5" cy="495.2" r="1.45"/><circle cx="104.4" cy="492.4" r="1.45"/><circle cx="29.0" cy="485.1" r="1.45"/><circle cx="48.8" cy="489.6" r="1.45"/><circle cx="70.7" cy="489.9" r="1.45"/><circle cx="81.7" cy="490.3" r="1.45"/><circle cx="38.1" cy="488.6" r="1.45"/><circle cx="59.8" cy="490.8" r="1.45"/><circle cx="21.1" cy="486.7" r="1.45"/><circle cx="48.5" cy="482.3" r="1.45"/><circle cx="40.9" cy="489.4" r="1.45"/><circle cx="102.8" cy="490.4" r="1.45"/><circle cx="103.4" cy="493.3" r="1.45"/><circle cx="24.1" cy="488.2" r="1.45"/><circle cx="35.4" cy="493.0" r="1.45"/><circle cx="69.5" cy="489.4" r="1.45"/><circle cx="89.5" cy="492.3" r="1.45"/><circle cx="73.4" cy="493.5" r="1.45"/><circle cx="37.4" cy="489.5" r="1.45"/><circle cx="47.8" cy="490.4" r="1.45"/><circle cx="77.3" cy="490.8" r="1.45"/><circle cx="60.8" cy="490.0" r="1.45"/><circle cx="87.5" cy="488.9" r="1.45"/><circle cx="70.7" cy="489.3" r="1.45"/><circle cx="96.7" cy="490.3" r="1.45"/><circle cx="45.8" cy="487.5" r="1.45"/><circle cx="103.7" cy="490.9" r="1.45"/><circle cx="102.1" cy="493.3" r="1.45"/><circle cx="105.7" cy="496.5" r="1.45"/><circle cx="76.9" cy="493.5" r="1.45"/><circle cx="72.9" cy="490.6" r="1.45"/><circle cx="64.7" cy="487.3" r="1.45"/><circle cx="27.3" cy="489.8" r="1.45"/><circle cx="82.1" cy="484.9" r="1.45"/><circle cx="95.0" cy="494.9" r="1.45"/><circle cx="93.1" cy="490.9" r="1.45"/><circle cx="80.2" cy="487.0" r="1.45"/><circle cx="68.4" cy="490.1" r="1.45"/><circle cx="84.0" cy="491.5" r="1.45"/><circle cx="42.6" cy="488.0" r="1.45"/><circle cx="76.6" cy="488.9" r="1.45"/><circle cx="67.8" cy="490.3" r="1.45"/><circle cx="33.9" cy="488.2" r="1.45"/><circle cx="75.0" cy="488.9" r="1.45"/><circle cx="75.6" cy="489.0" r="1.45"/><circle cx="52.3" cy="488.0" r="1.45"/><circle cx="34.7" cy="477.7" r="1.45"/><circle cx="37.8" cy="483.8" r="1.45"/><circle cx="33.3" cy="474.5" r="1.45"/><circle cx="27.0" cy="477.9" r="1.45"/><circle cx="47.9" cy="477.9" r="1.45"/><circle cx="46.8" cy="476.7" r="1.45"/><circle cx="43.8" cy="475.7" r="1.45"/><circle cx="47.5" cy="480.5" r="1.45"/><circle cx="37.4" cy="483.9" r="1.45"/><circle cx="41.7" cy="483.8" r="1.45"/><circle cx="40.9" cy="483.4" r="1.45"/><circle cx="42.7" cy="479.4" r="1.45"/><circle cx="33.2" cy="478.0" r="1.45"/><circle cx="35.0" cy="475.6" r="1.45"/><circle cx="38.0" cy="484.0" r="1.45"/><circle cx="42.0" cy="474.4" r="1.45"/><circle cx="29.7" cy="482.5" r="1.45"/><circle cx="39.4" cy="475.1" r="1.45"/><circle cx="60.7" cy="534.8" r="1.45"/><circle cx="34.3" cy="529.1" r="1.45"/><circle cx="60.4" cy="531.3" r="1.45"/><circle cx="79.8" cy="525.4" r="1.45"/><circle cx="74.0" cy="531.5" r="1.45"/><circle cx="40.0" cy="531.9" r="1.45"/><circle cx="86.2" cy="533.2" r="1.45"/><circle cx="35.5" cy="530.9" r="1.45"/><circle cx="27.7" cy="528.1" r="1.45"/><circle cx="31.3" cy="527.1" r="1.45"/><circle cx="101.1" cy="528.0" r="1.45"/><circle cx="38.7" cy="528.9" r="1.45"/><circle cx="36.0" cy="531.3" r="1.45"/><circle cx="47.6" cy="527.2" r="1.45"/><circle cx="53.1" cy="533.4" r="1.45"/><circle cx="52.4" cy="531.7" r="1.45"/><circle cx="15.4" cy="528.2" r="1.45"/><circle cx="64.5" cy="532.2" r="1.45"/><circle cx="21.5" cy="529.8" r="1.45"/><circle cx="65.6" cy="526.9" r="1.45"/><circle cx="90.3" cy="533.0" r="1.45"/><circle cx="69.4" cy="534.4" r="1.45"/><circle cx="35.6" cy="530.2" r="1.45"/><circle cx="31.5" cy="528.8" r="1.45"/><circle cx="27.6" cy="525.4" r="1.45"/><circle cx="35.6" cy="532.6" r="1.45"/><circle cx="99.8" cy="533.8" r="1.45"/><circle cx="92.9" cy="533.9" r="1.45"/><circle cx="75.3" cy="534.2" r="1.45"/><circle cx="67.3" cy="533.8" r="1.45"/><circle cx="102.9" cy="531.4" r="1.45"/><circle cx="44.8" cy="526.9" r="1.45"/><circle cx="90.9" cy="529.1" r="1.45"/><circle cx="27.8" cy="526.7" r="1.45"/><circle cx="39.2" cy="530.7" r="1.45"/><circle cx="77.3" cy="532.0" r="1.45"/><circle cx="95.2" cy="533.4" r="1.45"/><circle cx="95.2" cy="538.5" r="1.45"/><circle cx="41.9" cy="531.1" r="1.45"/><circle cx="54.1" cy="530.7" r="1.45"/><circle cx="102.6" cy="530.1" r="1.45"/><circle cx="28.5" cy="530.7" r="1.45"/><circle cx="73.4" cy="535.3" r="1.45"/><circle cx="89.0" cy="529.7" r="1.45"/><circle cx="55.1" cy="532.4" r="1.45"/><circle cx="66.5" cy="531.0" r="1.45"/><circle cx="55.5" cy="525.7" r="1.45"/><circle cx="80.5" cy="528.2" r="1.45"/><circle cx="52.3" cy="531.9" r="1.45"/><circle cx="100.4" cy="529.0" r="1.45"/><circle cx="73.8" cy="528.0" r="1.45"/><circle cx="35.6" cy="529.0" r="1.45"/><circle cx="92.1" cy="533.5" r="1.45"/><circle cx="74.1" cy="536.8" r="1.45"/><circle cx="78.7" cy="533.3" r="1.45"/><circle cx="48.3" cy="530.1" r="1.45"/><circle cx="92.1" cy="530.4" r="1.45"/><circle cx="74.9" cy="533.4" r="1.45"/><circle cx="69.5" cy="524.1" r="1.45"/><circle cx="61.1" cy="529.7" r="1.45"/><circle cx="43.4" cy="528.1" r="1.45"/><circle cx="36.2" cy="529.4" r="1.45"/><circle cx="15.9" cy="528.6" r="1.45"/><circle cx="32.4" cy="528.7" r="1.45"/><circle cx="60.9" cy="531.9" r="1.45"/><circle cx="61.6" cy="531.5" r="1.45"/><circle cx="84.5" cy="536.7" r="1.45"/><circle cx="38.3" cy="527.6" r="1.45"/><circle cx="23.5" cy="532.5" r="1.45"/><circle cx="40.2" cy="527.1" r="1.45"/><circle cx="79.5" cy="534.7" r="1.45"/><circle cx="64.8" cy="530.4" r="1.45"/><circle cx="76.1" cy="531.4" r="1.45"/><circle cx="50.3" cy="527.7" r="1.45"/><circle cx="35.5" cy="531.7" r="1.45"/><circle cx="71.3" cy="533.9" r="1.45"/><circle cx="80.5" cy="530.6" r="1.45"/><circle cx="61.7" cy="532.4" r="1.45"/><circle cx="54.4" cy="528.9" r="1.45"/><circle cx="69.5" cy="534.4" r="1.45"/><circle cx="84.0" cy="530.0" r="1.45"/><circle cx="69.5" cy="533.9" r="1.45"/><circle cx="86.1" cy="531.2" r="1.45"/><circle cx="35.6" cy="529.9" r="1.45"/><circle cx="82.5" cy="534.2" r="1.45"/><circle cx="81.8" cy="530.7" r="1.45"/><circle cx="87.7" cy="529.5" r="1.45"/><circle cx="88.8" cy="527.2" r="1.45"/><circle cx="94.1" cy="532.7" r="1.45"/><circle cx="25.5" cy="531.1" r="1.45"/><circle cx="92.7" cy="535.6" r="1.45"/><circle cx="53.9" cy="532.7" r="1.45"/><circle cx="78.4" cy="532.2" r="1.45"/><circle cx="102.8" cy="531.1" r="1.45"/><circle cx="32.1" cy="530.5" r="1.45"/><circle cx="100.3" cy="534.7" r="1.45"/><circle cx="23.4" cy="525.4" r="1.45"/><circle cx="99.4" cy="526.2" r="1.45"/><circle cx="84.4" cy="533.2" r="1.45"/><circle cx="97.3" cy="530.3" r="1.45"/><circle cx="17.9" cy="528.7" r="1.45"/><circle cx="100.7" cy="532.3" r="1.45"/><circle cx="41.0" cy="534.1" r="1.45"/><circle cx="51.2" cy="532.4" r="1.45"/><circle cx="42.7" cy="526.8" r="1.45"/><circle cx="32.3" cy="527.5" r="1.45"/><circle cx="97.4" cy="528.8" r="1.45"/><circle cx="72.6" cy="528.3" r="1.45"/><circle cx="91.8" cy="528.2" r="1.45"/><circle cx="51.7" cy="532.4" r="1.45"/><circle cx="49.6" cy="526.6" r="1.45"/><circle cx="83.5" cy="532.7" r="1.45"/><circle cx="88.9" cy="528.1" r="1.45"/><circle cx="89.1" cy="527.6" r="1.45"/><circle cx="68.9" cy="532.3" r="1.45"/></g>
<text x="3.60" y="485.20" font-size="7.9" fill="#f0a04a" stroke="#f0a04a" stroke-width="0.1">Out</text>
<text x="3.60" y="524.60" font-size="7.9" fill="#f0a04a" stroke="#f0a04a" stroke-width="0.1">In</text>
<rect x="110.2" y="430.2" width="94.2" height="123.9" fill="none" stroke="#6a6a6a" stroke-width="0.8"/>
<path d="M141,451 C138,444 141,440 146,442 M163,432 C162,440 167,446 164,452 C162,458 168,458 170,462 M168,470 C164,474 160,476 158,470" fill="none" stroke="#a21fb4" stroke-width="0.9"/>
<path d="M170,462 C176,460 180,462 182,458 C186,452 192,458 199,454 M140,452 C139,458 141,466 138,472" fill="none" stroke="#666" stroke-width="0.9"/>
<path d="M129.1,469.9L127.2,470.5L126.7,471.2L127.8,471.9L130.1,472.7L133.1,473.4L135.8,474.2M128.8,478.1L126.9,478.7L126.5,479.4L127.6,480.1L129.9,480.9L132.8,481.6L135.6,482.4M128.6,486.3L126.7,486.9L126.3,487.6L127.3,488.3L129.7,489.1L132.6,489.8L135.4,490.6M128.4,494.5L126.5,495.1L126.0,495.8L127.1,496.5L129.4,497.3L132.4,498.0L135.2,498.8M128.2,502.7L126.3,503.3L125.8,504.0L126.9,504.7L129.2,505.5L132.2,506.2L134.9,507.0M127.9,510.9L126.1,511.5L125.6,512.2L126.7,512.9L129.0,513.7L132.0,514.4L134.7,515.2M127.7,519.1L125.8,519.7L125.4,520.4L126.5,521.1L128.8,521.9L131.7,522.6L134.5,523.4M127.5,527.3L125.6,527.9L125.2,528.6L126.2,529.3L128.6,530.0L131.5,530.8L134.3,531.6M127.3,535.5L125.4,536.1L124.9,536.8L126.0,537.5L128.3,538.2L131.3,539.0L134.1,539.8M143.6,450.0L144.2,450.7L146.1,451.4L148.9,452.1L151.8,452.9L154.1,453.6L155.1,454.3M143.5,458.2L144.0,458.9L145.9,459.6L148.7,460.3L151.7,461.1L153.9,461.8L154.9,462.5M143.3,466.4L143.8,467.1L145.7,467.8L148.5,468.5L151.5,469.3L153.8,470.0L154.8,470.7M143.1,474.6L143.6,475.3L145.6,476.0L148.4,476.7L151.3,477.5L153.6,478.2L154.6,478.9M142.9,482.8L143.5,483.5L145.4,484.2L148.2,484.9L151.1,485.7L153.4,486.4L154.4,487.1M142.8,491.0L143.3,491.7L145.2,492.4L148.0,493.1L151.0,493.9L153.2,494.6L154.2,495.3M142.6,499.2L143.1,499.9L145.0,500.6L147.8,501.3L150.8,502.1L153.1,502.8L154.1,503.5M142.4,507.4L142.9,508.1L144.9,508.8L147.7,509.5L150.6,510.3L152.9,511.0L153.9,511.7M142.2,515.6L142.8,516.3L144.7,517.0L147.5,517.7L150.4,518.5L152.7,519.2L153.7,519.9M142.1,523.8L142.6,524.5L144.5,525.2L147.3,525.9L150.3,526.7L152.5,527.4L153.5,528.1M141.9,532.0L142.4,532.7L144.3,533.4L147.1,534.1L150.1,534.9L152.4,535.6L153.4,536.3M156.7,487.7L155.6,488.3L155.9,489.0L157.6,489.8L160.1,490.7L162.9,491.6L165.0,492.4M156.1,495.9L155.0,496.5L155.4,497.2L157.0,498.0L159.6,498.9L162.3,499.7L164.4,500.6M155.5,504.1L154.4,504.7L154.8,505.4L156.4,506.2L159.0,507.0L161.7,507.9L163.8,508.8M154.9,512.2L153.9,512.8L154.2,513.5L155.9,514.4L158.4,515.2L161.1,516.1L163.3,516.9M154.4,520.4L153.3,521.0L153.6,521.7L155.3,522.5L157.8,523.4L160.5,524.3L162.7,525.1M153.8,528.6L152.7,529.2M165.0,494.8L164.7,493.3L163.8,491.1L162.7,488.6L161.9,486.4L161.7,485.1L162.3,484.7M171.4,489.7L171.1,488.2L170.2,486.0L169.2,483.5L168.3,481.4L168.1,480.0L168.7,479.6M177.9,484.6L177.5,483.1L176.7,480.9M181.6,481.1L181.6,483.6L181.8,485.1L182.4,485.5L183.4,484.6L184.7,482.8L186.1,480.5M189.5,483.6L189.4,486.0L189.6,487.6L190.2,488.0L191.2,487.1L192.5,485.2L193.9,483.0" fill="none" stroke="#8a2098" stroke-width="1.8" stroke-linecap="butt" stroke-linejoin="round"/>
<path d="M135.8,474.2L137.7,474.9L138.1,475.6L137.0,476.3L134.6,476.9L131.6,477.5L128.8,478.1M135.6,482.4L137.5,483.1L137.9,483.8L136.8,484.5L134.4,485.1L131.4,485.7L128.6,486.3M135.4,490.6L137.2,491.3L137.7,492.0L136.6,492.7L134.2,493.3L131.2,493.9L128.4,494.5M135.2,498.8L137.0,499.5L137.4,500.2L136.3,500.9L134.0,501.5L131.0,502.1L128.2,502.7M134.9,507.0L136.8,507.7L137.2,508.4L136.1,509.1L133.7,509.7L130.8,510.3L127.9,510.9M134.7,515.2L136.6,515.9L137.0,516.6L135.9,517.3L133.5,517.9L130.5,518.5L127.7,519.1M134.5,523.4L136.4,524.1L136.8,524.8L135.7,525.5L133.3,526.1L130.3,526.7L127.5,527.3M134.3,531.6L136.1,532.3L136.6,533.0L135.4,533.7L133.1,534.3L130.1,534.9L127.3,535.5M134.1,539.8L135.9,540.5L136.3,541.2L135.2,541.8L132.9,542.5L129.9,543.1L127.1,543.7M155.3,446.1L154.7,446.8L152.8,447.4L149.9,448.1L147.0,448.7L144.7,449.3L143.6,450.0M155.1,454.3L154.6,455.0L152.6,455.6L149.8,456.3L146.8,456.9L144.5,457.5L143.5,458.2M154.9,462.5L154.4,463.2L152.4,463.8L149.6,464.5L146.6,465.1L144.3,465.7L143.3,466.4M154.8,470.7L154.2,471.4L152.2,472.0L149.4,472.7L146.4,473.3L144.1,473.9L143.1,474.6M154.6,478.9L154.0,479.6L152.1,480.2L149.2,480.9L146.3,481.5L144.0,482.1L142.9,482.8M154.4,487.1L153.9,487.8L151.9,488.4L149.1,489.1L146.1,489.7L143.8,490.3L142.8,491.0M154.2,495.3L153.7,496.0L151.7,496.6L148.9,497.2L145.9,497.9L143.6,498.5L142.6,499.2M154.1,503.5L153.5,504.2L151.6,504.8L148.7,505.4L145.7,506.1L143.4,506.7L142.4,507.4M153.9,511.7L153.3,512.4L151.4,513.0L148.5,513.6L145.6,514.3L143.3,514.9L142.2,515.6M153.7,519.9L153.2,520.6L151.2,521.2L148.4,521.8L145.4,522.5L143.1,523.1L142.1,523.8M153.5,528.1L153.0,528.8L151.0,529.4L148.2,530.0L145.2,530.7L142.9,531.3L141.9,532.0M153.4,536.3L152.8,537.0L150.9,537.6L148.0,538.2L145.0,538.9L142.7,539.5M165.0,492.4L166.0,493.2L165.6,493.8L163.8,494.4L161.2,494.9L158.4,495.3L156.1,495.9M164.4,500.6L165.4,501.3L165.0,502.0L163.2,502.5L160.6,503.0L157.8,503.5L155.5,504.1M163.8,508.8L164.8,509.5L164.4,510.2L162.6,510.7L160.0,511.2L157.2,511.7L154.9,512.2M163.3,516.9L164.3,517.7L163.8,518.3L162.1,518.9L159.4,519.4L156.6,519.9L154.4,520.4M162.7,525.1L163.7,525.9L163.2,526.5L161.5,527.1L158.8,527.6L156.0,528.1L153.8,528.6M162.3,484.7L163.6,485.4L165.6,486.7L167.7,488.3L169.6,489.6L170.9,490.2L171.4,489.7M168.7,479.6L170.1,480.3L172.0,481.7L174.2,483.3L176.1,484.6L177.4,485.1L177.9,484.6M178.3,478.1L179.6,476.1L180.7,474.9L181.4,474.9L181.7,476.2L181.7,478.5L181.6,481.1M186.1,480.5L187.5,478.5L188.5,477.3L189.2,477.4L189.6,478.7L189.6,480.9L189.5,483.6" fill="none" stroke="#ad2ec0" stroke-width="3.4" stroke-linecap="butt" stroke-linejoin="round"/>
<path d="M129.1,476.1L132.0,476.9L134.2,477.6L135.1,478.3L134.5,479.0L132.5,479.6L129.6,480.2M128.9,484.3L131.8,485.0L134.0,485.8L134.9,486.5L134.3,487.2L132.2,487.8L129.4,488.4M128.7,492.5L131.6,493.2L133.8,494.0L134.7,494.7L134.1,495.4L132.0,496.0L129.2,496.6M128.4,500.7L131.4,501.4L133.6,502.2L134.5,502.9L133.8,503.6L131.8,504.2L128.9,504.8M128.2,508.9L131.1,509.6L133.4,510.4L134.3,511.1L133.6,511.8L131.6,512.4L128.7,513.0M128.0,517.1L130.9,517.8L133.1,518.6L134.0,519.3L133.4,520.0L131.4,520.6L128.5,521.2M127.8,525.3L130.7,526.0L132.9,526.8L133.8,527.5L133.2,528.1L131.2,528.8L128.3,529.4M127.6,533.5L130.5,534.2L132.7,535.0L133.6,535.7L133.0,536.3L131.0,537.0L128.1,537.6M127.4,541.7L130.3,542.4L132.5,543.2L133.4,543.9L132.8,544.5L130.7,545.2L127.9,545.8M141.3,442.9L143.3,443.6L146.2,444.4L149.1,445.1L151.3,445.9L152.2,446.6L151.6,447.2M141.1,451.1L143.1,451.8L146.0,452.6L148.9,453.3L151.1,454.0L152.0,454.8L151.4,455.4M140.9,459.3L142.9,460.0L145.8,460.8L148.7,461.5L150.9,462.2L151.8,463.0L151.2,463.6M140.7,467.5L142.7,468.2L145.6,469.0L148.5,469.7L150.7,470.4L151.6,471.2L151.0,471.8M140.5,475.7L142.5,476.4L145.4,477.1L148.3,477.9L150.5,478.6L151.4,479.3L150.8,480.0M140.3,483.9L142.3,484.6L145.2,485.3L148.1,486.1L150.3,486.8L151.2,487.5L150.6,488.2M140.1,492.1L142.1,492.8L145.0,493.5L147.9,494.3L150.1,495.0L151.0,495.7L150.4,496.4M139.9,500.3L141.9,501.0L144.8,501.7L147.7,502.5L149.9,503.2L150.8,503.9L150.2,504.6M139.7,508.5L141.7,509.2L144.6,509.9L147.5,510.7L149.7,511.4L150.6,512.1L150.0,512.8M139.5,516.7L141.5,517.4L144.4,518.1L147.3,518.9L149.5,519.6L150.4,520.3L149.8,521.0M139.3,524.8L141.3,525.6L144.2,526.3L147.1,527.1L149.3,527.8L150.2,528.5L149.5,529.2M139.1,533.0L141.1,533.8L144.0,534.5L146.9,535.3L149.1,536.0L150.0,536.7L149.3,537.4M138.9,541.2L140.9,542.0L143.8,542.7L146.7,543.5L148.9,544.2L149.8,544.9M155.6,489.8L153.9,490.3L153.6,491.0L154.7,491.8L156.9,492.6L159.6,493.5L162.1,494.3M155.1,498.0L153.4,498.5L153.0,499.2L154.1,499.9L156.3,500.8L159.0,501.6L161.5,502.5M154.5,506.1L152.8,506.7L152.5,507.4L153.5,508.1L155.7,509.0L158.5,509.8L161.0,510.7M154.0,514.3L152.3,514.9L151.9,515.5L153.0,516.3L155.2,517.1L157.9,518.0L160.4,518.9M153.4,522.5L151.7,523.1L151.4,523.7L152.4,524.5L154.6,525.3L157.4,526.2L159.9,527.0M152.8,530.7L151.1,531.2L150.8,531.9L151.9,532.7L154.1,533.5M163.1,497.9L163.4,497.2L162.9,495.5L162.0,493.2L160.9,490.7L160.2,488.7L160.1,487.6M169.5,492.8L169.8,492.0L169.3,490.4L168.4,488.0L167.3,485.6L166.6,483.6L166.5,482.4M175.9,487.6L176.2,486.9L175.7,485.2L174.8,482.9L173.7,480.5M176.0,483.6L177.5,481.6L179.1,479.4L180.4,477.8L181.3,477.3L181.8,478.0L181.8,479.8M183.7,486.5L185.2,484.4L186.7,482.3L188.1,480.7L189.0,480.2L189.5,480.9L189.5,482.7M191.4,489.4L192.9,487.3" fill="none" stroke="#5e5e5e" stroke-width="1.6" stroke-linecap="butt" stroke-linejoin="round"/>
<path d="M129.8,472.0L126.9,472.6L124.6,473.2L123.7,473.9L124.3,474.6L126.2,475.3L129.1,476.1M129.6,480.2L126.6,480.8L124.4,481.4L123.4,482.1L124.0,482.8L126.0,483.5L128.9,484.3M129.4,488.4L126.4,489.0L124.2,489.6L123.2,490.3L123.8,491.0L125.8,491.7L128.7,492.5M129.2,496.6L126.2,497.2L124.0,497.8L123.0,498.5L123.6,499.2L125.6,499.9L128.4,500.7M128.9,504.8L126.0,505.4L123.7,506.0L122.8,506.7L123.4,507.4L125.4,508.1L128.2,508.9M128.7,513.0L125.8,513.6L123.5,514.2L122.6,514.9L123.2,515.6L125.2,516.3L128.0,517.1M128.5,521.2L125.6,521.8L123.3,522.4L122.4,523.1L123.0,523.8L125.0,524.5L127.8,525.3M128.3,529.4L125.3,530.0L123.1,530.6L122.1,531.3L122.8,532.0L124.7,532.7L127.6,533.5M128.1,537.6L125.1,538.2L122.9,538.8L121.9,539.5L122.5,540.2L124.5,540.9L127.4,541.7M127.9,545.8L124.9,546.4L122.7,547.0L121.7,547.7M151.6,447.2L149.5,447.9L146.7,448.5L143.7,449.1L141.5,449.7L140.5,450.4L141.1,451.1M151.4,455.4L149.3,456.1L146.5,456.7L143.5,457.3L141.3,457.9L140.3,458.6L140.9,459.3M151.2,463.6L149.1,464.3L146.3,464.9L143.3,465.5L141.1,466.1L140.1,466.8L140.7,467.5M151.0,471.8L148.9,472.5L146.1,473.1L143.1,473.7L140.9,474.3L139.9,475.0L140.5,475.7M150.8,480.0L148.7,480.6L145.9,481.3L142.9,481.9L140.7,482.5L139.7,483.2L140.3,483.9M150.6,488.2L148.5,488.8L145.6,489.5L142.7,490.1L140.5,490.7L139.5,491.4L140.1,492.1M150.4,496.4L148.3,497.0L145.4,497.7L142.5,498.3L140.3,498.9L139.3,499.6L139.9,500.3M150.2,504.6L148.1,505.2L145.2,505.9L142.3,506.5L140.1,507.1L139.1,507.8L139.7,508.5M150.0,512.8L147.9,513.4L145.0,514.1L142.1,514.7L139.9,515.3L138.9,516.0L139.5,516.7M149.8,521.0L147.7,521.6L144.8,522.2L141.9,522.9L139.7,523.5L138.7,524.2L139.3,524.8M149.5,529.2L147.5,529.8L144.6,530.4L141.7,531.1L139.5,531.7L138.5,532.3L139.1,533.0M149.3,537.4L147.3,538.0L144.4,538.6L141.5,539.3L139.3,539.9L138.3,540.5L138.9,541.2M162.1,494.3L163.7,495.1L164.0,495.8L162.8,496.4L160.5,497.0L157.7,497.4L155.1,498.0M161.5,502.5L163.1,503.3L163.4,504.0L162.2,504.6L159.9,505.1L157.1,505.6L154.5,506.1M161.0,510.7L162.6,511.5L162.8,512.2L161.7,512.8L159.4,513.3L156.6,513.8L154.0,514.3M160.4,518.9L162.0,519.7L162.3,520.4L161.1,521.0L158.8,521.5L156.0,522.0L153.4,522.5M159.9,527.0L161.5,527.8L161.7,528.5L160.6,529.1L158.3,529.7L155.4,530.2L152.8,530.7M160.1,487.6L160.9,487.4L162.4,488.3L164.4,489.7L166.6,491.3L168.4,492.4L169.5,492.8M166.5,482.4L167.3,482.3L168.8,483.1L170.8,484.6L173.0,486.2L174.8,487.3L175.9,487.6M181.8,479.8L181.6,482.4L181.3,485.0L181.3,487.0L181.6,488.1L182.5,487.8L183.7,486.5M189.5,482.7L189.3,485.2L189.0,487.9L189.0,489.9L189.3,490.9L190.1,490.7L191.4,489.4" fill="none" stroke="#808080" stroke-width="3.1" stroke-linecap="butt" stroke-linejoin="round"/>
<path d="M126,548 C122,544 128,538 132,544 M140,548 C144,552 150,548 148,544" fill="none" stroke="#a21fb4" stroke-width="0.9"/>
<rect x="140.4" y="431.9" width="59.4" height="61.3" fill="none" stroke="#555" stroke-width="0.5" stroke-dasharray="1.4,1.2"/>
<g><circle cx="170.4" cy="462.5" r="2" fill="#4aa6a8"/><circle cx="171.8" cy="461" r="1.3" fill="#4aa6a8"/><circle cx="169.5" cy="459.8" r="1.1" fill="#2a4ac0"/><circle cx="172" cy="463.5" r="0.9" fill="#e02a2a"/><circle cx="168.6" cy="463.5" r="0.8" fill="#eee"/><circle cx="166.2" cy="472.6" r="2" fill="#4aa6a8"/><circle cx="167.8" cy="473.6" r="1.3" fill="#4aa6a8"/><circle cx="165" cy="470.6" r="1.2" fill="#e02a2a"/><circle cx="165.2" cy="474.6" r="0.9" fill="#eee"/></g>
<text x="199.40" y="540.50" font-size="7.9" fill="#444" stroke="#444" stroke-width="0.1" text-anchor="end">A1527</text>
<text x="199.80" y="549.60" font-size="7.9" fill="#c030c8" stroke="#c030c8" stroke-width="0.1" text-anchor="end">G1527</text>
<defs><clipPath id="c3"><rect x="213.8" y="430.2" width="104.8" height="123.3"/></clipPath></defs>
<g clip-path="url(#c3)">
<path d="M252.5,432 C246,432 242,436 247,444 C252,452 248,460 256,466 C260,470 268,468 270,475 M259,476 C252,478 248,484 250,492 C252,500 262,500 266,505 M240,490 C246,496 252,494 256,500" fill="none" stroke="#a21fb4" stroke-width="1.5"/>
<path d="M283,478 C290,482 292,470 300,468 C306,466 312,470 319,462 M276,486 C286,490 290,500 286,510 C282,520 294,526 300,530 M244,480 C252,478 258,486 262,492" fill="none" stroke="#666" stroke-width="1.8"/>
<path d="M223.5,454.9L226.7,455.9L231.3,456.9L236.1,458.0L239.8,459.0L241.4,460.0L240.4,461.0M223.3,466.6L226.5,467.6L231.1,468.6L236.0,469.7L239.6,470.7L241.2,471.7L240.3,472.7M223.1,478.3L226.3,479.3L231.0,480.3L235.8,481.4L239.5,482.4L241.0,483.4L240.1,484.4M222.9,490.0L226.1,491.0L230.8,492.0L235.6,493.1L239.3,494.1L240.9,495.1L239.9,496.1M222.8,501.7L226.0,502.7L230.6,503.7L235.4,504.8L239.1,505.8L240.7,506.8L239.7,507.8M222.6,513.4L225.8,514.4L230.4,515.4L235.2,516.5L238.9,517.5L240.5,518.5L239.5,519.5M262.6,560.7L264.1,560.7L263.9,559.3L262.2,556.5L259.6,553.1L256.9,549.6L255.2,546.8M270.1,551.7L271.7,551.7L271.4,550.3L269.7,547.6L267.1,544.1L264.4,540.6L262.7,537.9M277.6,542.8L279.2,542.8L279.0,541.3L277.2,538.6L274.6,535.1L272.0,531.6L270.2,528.9M285.1,533.8L286.7,533.8L286.5,532.3L284.7,529.6L282.1,526.2L279.5,522.7L277.7,519.9M292.6,524.8L294.2,524.8L294.0,523.4L292.2,520.7L289.6,517.2L287.0,513.7L285.2,510.9M284.2,559.7L287.6,561.2L289.8,561.6L290.1,560.7L288.8,558.4L286.3,555.2L283.5,551.7M291.4,550.5L294.8,552.0L297.0,552.4L297.4,551.5L296.0,549.2L293.5,546.0L290.7,542.5M298.6,541.3L302.1,542.8L304.2,543.2L304.6,542.2L303.3,540.0L300.7,536.8L297.9,533.3M305.8,532.1L309.3,533.5L311.4,534.0L311.8,533.0L310.5,530.8L308.0,527.6L305.1,524.1" fill="none" stroke="#8a2098" stroke-width="3.0" stroke-linecap="butt" stroke-linejoin="round"/>
<path d="M240.4,461.0L237.2,461.9L232.5,462.8L227.7,463.7L224.0,464.6L222.4,465.6L223.3,466.6M240.3,472.7L237.0,473.6L232.3,474.5L227.5,475.4L223.8,476.3L222.2,477.3L223.1,478.3M240.1,484.4L236.8,485.3L232.2,486.2L227.3,487.1L223.6,488.0L222.0,489.0L222.9,490.0M239.9,496.1L236.7,497.0L232.0,497.9L227.1,498.8L223.4,499.7L221.8,500.7L222.8,501.7M239.7,507.8L236.5,508.7L231.8,509.6L227.0,510.5L223.2,511.4L221.6,512.4L222.6,513.4M255.2,546.8L254.9,545.3L256.3,545.3L259.3,546.5L263.2,548.5L267.1,550.4L270.1,551.7M262.7,537.9L262.4,536.3L263.8,536.3L266.8,537.5L270.7,539.5L274.6,541.5L277.6,542.8M270.2,528.9L269.9,527.4L271.3,527.3L274.3,528.5L278.2,530.5L282.1,532.5L285.1,533.8M277.7,519.9L277.4,518.4L278.9,518.3L281.8,519.6L285.7,521.5L289.6,523.5L292.6,524.8M285.2,510.9L284.9,509.4L286.4,509.4L289.3,510.6M283.5,551.7L281.2,548.7L280.2,546.7L281.1,546.1L283.6,546.9L287.3,548.5L291.4,550.5M290.7,542.5L288.4,539.5L287.5,537.5L288.3,536.9L290.8,537.7L294.5,539.3L298.6,541.3M297.9,533.3L295.6,530.3L294.7,528.3L295.5,527.7L298.0,528.5L301.7,530.1L305.8,532.1M305.1,524.1L302.8,521.1L301.9,519.1L302.7,518.5L305.3,519.2L309.0,520.9L313.0,522.9" fill="none" stroke="#ad2ec0" stroke-width="5.6" stroke-linecap="butt" stroke-linejoin="round"/>
<path d="M222.5,449.9L219.3,450.9L218.5,451.8L220.2,452.8L224.0,453.8L228.8,454.9L233.4,455.9M222.3,461.6L219.2,462.6L218.3,463.5L220.1,464.5L223.8,465.5L228.7,466.6L233.3,467.6M222.1,473.3L219.0,474.2L218.2,475.2L219.9,476.2L223.7,477.2L228.5,478.3L233.1,479.3M222.0,485.0L218.8,485.9L218.0,486.9L219.7,487.9L223.5,488.9L228.3,490.0L232.9,491.0M221.8,496.7L218.7,497.6L217.8,498.6L219.6,499.6L223.3,500.6L228.2,501.7L232.8,502.7M221.6,508.4L218.5,509.3L217.7,510.3L219.4,511.3L223.2,512.3L228.0,513.4L232.6,514.4M257.0,559.8L259.8,560.9L260.9,560.6L260.2,558.7L258.1,555.5L255.4,551.6L252.9,548.0M265.0,551.2L267.7,552.4L268.8,552.0L268.2,550.1L266.1,546.9L263.4,543.0L260.9,539.4M273.0,542.6L275.7,543.8L276.8,543.5L276.1,541.5L274.1,538.3L271.3,534.4L268.8,530.8M280.9,534.0L283.6,535.2L284.7,534.9L284.1,532.9L282.0,529.7L279.3,525.9L276.8,522.2M288.9,525.4L291.6,526.6L292.7,526.3L292.0,524.4L290.0,521.1L287.2,517.3L284.7,513.6M282.0,556.6L279.1,552.8L276.7,549.6L275.8,547.6L276.7,547.1L279.4,548.0L283.2,549.9M289.5,547.6L286.6,543.9L284.2,540.6L283.3,538.6L284.2,538.1L286.9,539.0L290.7,541.0M297.0,538.6L294.1,534.9L291.7,531.7L290.8,529.6L291.7,529.1L294.3,530.0L298.2,532.0M304.5,529.6L301.5,525.9L299.2,522.7L298.3,520.6L299.2,520.1L301.8,521.0L305.7,523.0M211.7,470.2L214.3,470.7L216.8,471.2L218.6,471.8L219.3,472.5L218.6,473.3L216.7,474.2M212.6,479.2L215.2,479.7L217.7,480.2L219.5,480.8L220.2,481.4L219.5,482.3L217.6,483.2M213.5,488.1L216.1,488.6L218.6,489.1L220.4,489.7L221.1,490.4L220.3,491.2L218.5,492.2M214.4,497.1L217.0,497.6L219.5,498.1L221.3,498.7L222.0,499.4L221.2,500.2L219.4,501.1M215.3,506.0L217.9,506.5L220.4,507.0L222.2,507.6L222.9,508.3L222.1,509.1L220.3,510.1M216.2,515.0L218.8,515.5L221.3,516.0L223.1,516.6L223.7,517.3L223.0,518.1L221.2,519.0" fill="none" stroke="#5e5e5e" stroke-width="2.8" stroke-linecap="butt" stroke-linejoin="round"/>
<path d="M233.4,455.9L236.5,456.9L237.3,457.9L235.6,458.9L231.8,459.8L226.9,460.7L222.3,461.6M233.3,467.6L236.4,468.6L237.2,469.6L235.4,470.6L231.6,471.5L226.8,472.4L222.1,473.3M233.1,479.3L236.2,480.3L237.0,481.3L235.3,482.3L231.5,483.2L226.6,484.1L222.0,485.0M232.9,491.0L236.0,492.0L236.8,493.0L235.1,494.0L231.3,494.9L226.4,495.8L221.8,496.7M232.8,502.7L235.9,503.7L236.7,504.7L234.9,505.7L231.1,506.6L226.3,507.5L221.6,508.4M232.6,514.4L235.7,515.4L236.5,516.4L234.8,517.4L231.0,518.3L226.1,519.2M252.9,548.0L251.5,545.3L251.8,544.2L253.7,544.7L257.1,546.5L261.2,549.0L265.0,551.2M260.9,539.4L259.5,536.7L259.7,535.6L261.7,536.1L265.1,538.0L269.1,540.4L273.0,542.6M268.8,530.8L267.4,528.2L267.7,527.1L269.7,527.6L273.0,529.4L277.1,531.8L280.9,534.0M276.8,522.2L275.4,519.6L275.6,518.5L277.6,519.0L281.0,520.8L285.0,523.2L288.9,525.4M284.7,513.6L283.3,511.0L283.6,509.9L285.6,510.4M275.7,558.9L279.9,561.2L283.5,562.9L285.7,563.4L286.0,562.4L284.6,560.0L282.0,556.6M283.2,549.9L287.4,552.2L291.0,553.9L293.2,554.4L293.5,553.5L292.1,551.0L289.5,547.6M290.7,541.0L294.9,543.2L298.5,544.9L300.6,545.4L301.0,544.5L299.6,542.0L297.0,538.6M298.2,532.0L302.4,534.2L306.0,535.9L308.1,536.5L308.5,535.5L307.1,533.0L304.5,529.6M216.7,474.2L214.3,475.2L211.9,476.2L210.2,477.2L209.8,478.0L210.6,478.6L212.6,479.2M217.6,483.2L215.2,484.2L212.8,485.2L211.1,486.1L210.7,486.9L211.5,487.6L213.5,488.1M218.5,492.2L216.1,493.2L213.7,494.2L212.0,495.1L211.6,495.9L212.4,496.5L214.4,497.1M219.4,501.1L217.0,502.1L214.6,503.1L212.9,504.0L212.5,504.8L213.3,505.5L215.3,506.0M220.3,510.1L217.9,511.1L215.5,512.1L213.8,513.0L213.4,513.8L214.2,514.4L216.2,515.0" fill="none" stroke="#858585" stroke-width="5.2" stroke-linecap="butt" stroke-linejoin="round"/>
<path d="M217.5,516.0L216.5,517.0L218.1,518.0L221.8,518.9L226.6,519.9L231.2,520.9L234.5,521.9M217.5,527.7L216.5,528.7L218.1,529.6L221.8,530.6L226.6,531.6L231.2,532.6L234.5,533.5M217.5,539.4L216.5,540.4L218.1,541.4L221.8,542.3L226.6,543.3L231.2,544.3L234.5,545.2M217.5,551.1L216.5,552.1L218.1,553.0L221.8,554.0L226.6,555.0L231.2,556.0L234.5,557.0" fill="none" stroke="#5e5e5e" stroke-width="2.8" stroke-linecap="butt" stroke-linejoin="round"/>
<path d="M234.5,521.9L235.5,522.8L233.9,523.8L230.2,524.8L225.4,525.8L220.8,526.7L217.5,527.7M234.5,533.5L235.5,534.5L233.9,535.5L230.2,536.5L225.4,537.5L220.8,538.4L217.5,539.4M234.5,545.2L235.5,546.2L233.9,547.2L230.2,548.2L225.4,549.1L220.8,550.1L217.5,551.1M234.5,557.0L235.5,557.9L233.9,558.9L230.2,559.9L225.4,560.9L220.8,561.8" fill="none" stroke="#7a7a7a" stroke-width="5.2" stroke-linecap="butt" stroke-linejoin="round"/>
<path d="M222.4,512.1L218.9,513.2L218.1,514.2L220.2,515.1L224.7,516.0L230.4,516.8L235.7,517.7M222.6,523.8L219.1,524.9L218.4,525.9L220.5,526.8L225.0,527.7L230.6,528.5L235.9,529.4M222.9,535.5L219.4,536.6L218.6,537.6L220.7,538.5L225.2,539.4L230.9,540.2L236.2,541.1M223.1,547.2L219.6,548.3L218.8,549.3L221.0,550.2L225.4,551.1L231.1,551.9L236.4,552.8M223.4,558.9L219.8,560.0L219.1,561.0L221.2,561.9" fill="none" stroke="#700078" stroke-width="3.4" stroke-linecap="butt" stroke-linejoin="round"/>
<path d="M235.7,517.7L239.2,518.6L240.1,519.6L238.0,520.6L233.5,521.7L227.9,522.7L222.6,523.8M235.9,529.4L239.5,530.3L240.3,531.3L238.2,532.3L233.8,533.4L228.2,534.4L222.9,535.5M236.2,541.1L239.7,542.0L240.5,543.0L238.5,544.0L234.0,545.1L228.4,546.1L223.1,547.2M236.4,552.8L239.9,553.7L240.8,554.7L238.7,555.7L234.2,556.8L228.6,557.8L223.4,558.9" fill="none" stroke="#a000aa" stroke-width="6.5" stroke-linecap="butt" stroke-linejoin="round"/>
</g>
<rect x="213.8" y="430.2" width="104.8" height="123.3" fill="none" stroke="#6a6a6a" stroke-width="0.8"/>
<circle cx="266.0" cy="490.0" r="3.2" fill="#45b5b8"/><circle cx="264.9" cy="488.9" r="1.28" fill="#fff" opacity="0.45"/><circle cx="271.5" cy="487.5" r="2.8" fill="#45b5b8"/><circle cx="270.5" cy="486.5" r="1.12" fill="#fff" opacity="0.45"/><circle cx="265.3" cy="484.5" r="2.1" fill="#1c3fd0"/><circle cx="264.6" cy="483.8" r="0.84" fill="#fff" opacity="0.45"/><circle cx="270.5" cy="491.5" r="2.2" fill="#e02222"/><circle cx="269.7" cy="490.7" r="0.88" fill="#fff" opacity="0.45"/><circle cx="262.5" cy="488.5" r="1.8" fill="#f2f2f2"/><circle cx="261.9" cy="487.9" r="0.72" fill="#fff" opacity="0.45"/><circle cx="269.0" cy="483.5" r="1.6" fill="#f2f2f2"/><circle cx="268.4" cy="482.9" r="0.64" fill="#fff" opacity="0.45"/><circle cx="273.5" cy="484.5" r="1.6" fill="#f2f2f2"/><circle cx="272.9" cy="483.9" r="0.64" fill="#fff" opacity="0.45"/><circle cx="264.0" cy="493.0" r="1.6" fill="#f2f2f2"/><circle cx="263.4" cy="492.4" r="0.64" fill="#fff" opacity="0.45"/>
<circle cx="261.5" cy="509.0" r="3.4" fill="#45b5b8"/><circle cx="260.3" cy="507.8" r="1.36" fill="#fff" opacity="0.45"/><circle cx="267.0" cy="507.0" r="2.9" fill="#45b5b8"/><circle cx="266.0" cy="506.0" r="1.16" fill="#fff" opacity="0.45"/><circle cx="261.0" cy="503.0" r="2.8" fill="#e02222"/><circle cx="260.0" cy="502.0" r="1.12" fill="#fff" opacity="0.45"/><circle cx="267.0" cy="511.5" r="2.0" fill="#1c3fd0"/><circle cx="266.3" cy="510.8" r="0.80" fill="#fff" opacity="0.45"/><circle cx="257.5" cy="511.5" r="1.8" fill="#f2f2f2"/><circle cx="256.9" cy="510.9" r="0.72" fill="#fff" opacity="0.45"/><circle cx="262.0" cy="513.5" r="1.7" fill="#f2f2f2"/><circle cx="261.4" cy="512.9" r="0.68" fill="#fff" opacity="0.45"/><circle cx="265.5" cy="514.0" r="1.6" fill="#f2f2f2"/><circle cx="264.9" cy="513.4" r="0.64" fill="#fff" opacity="0.45"/><circle cx="257.0" cy="507.0" r="1.5" fill="#f2f2f2"/><circle cx="256.5" cy="506.5" r="0.60" fill="#fff" opacity="0.45"/>
<text x="282.20" y="445.70" font-size="7.9" fill="#c030c8" stroke="#c030c8" stroke-width="0.1">G1527</text>
<line x1="288.2" y1="449.7" x2="276.2" y2="475.8" stroke="#c030c8" stroke-width="0.7"/>
<path d="M275.1,478.2 L274.8,473.6 L278.1,475.1 Z" fill="#c030c8"/>
<text x="291.70" y="495.60" font-size="7.9" fill="#222" stroke="#222" stroke-width="0.1">A1527</text>
<line x1="291.7" y1="498.4" x2="271.5" y2="504.8" stroke="#111" stroke-width="0.7"/>
<path d="M269.1,505.5 L272.4,502.9 L273.3,506.2 Z" fill="#111"/>
</svg>
</body></html>
